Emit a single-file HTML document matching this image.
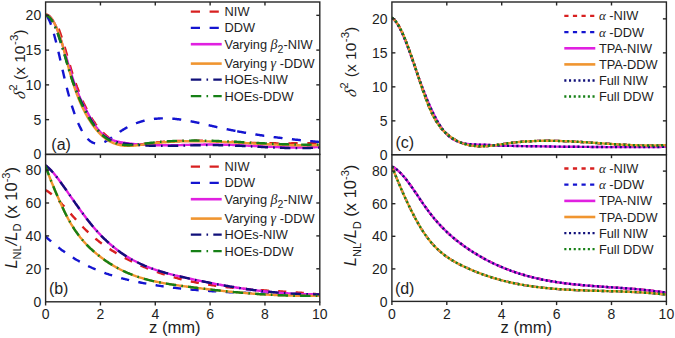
<!DOCTYPE html>
<html><head><meta charset="utf-8"><style>
html,body{margin:0;padding:0;background:#fff;}
svg{display:block;}
text{font-family:"Liberation Sans",sans-serif;fill:#1e1e1e;}
.tk{font-size:14px;}
.ti{font-size:15.5px;}
.pl{font-size:16px;}
.lg{font-size:12.8px;}
.gk{font-family:"Liberation Serif",serif;font-style:italic;}
</style></head><body>
<svg width="675" height="338" viewBox="0 0 675 338">
<rect width="675" height="338" fill="#fff"/>
<defs><clipPath id="cl"><rect x="45.6" y="2.0" width="274.2" height="299.8"/></clipPath>
<clipPath id="cr"><rect x="391.9" y="2.0" width="274.5" height="299.8"/></clipPath></defs>
<g clip-path="url(#cl)">
<path d="M45.3 15.2 L45.7 15.2 L46.2 15.3 L46.6 15.5 L47.1 15.7 L47.5 15.9 L48.0 16.2 L48.5 16.6 L49.0 17.0 L49.4 17.5 L50.0 17.9 L50.7 18.4 L51.3 18.9 L52.0 19.5 L52.7 20.1 L53.3 20.8 L54.0 21.6 L54.7 22.4 L55.4 23.3 L56.1 24.3 L56.8 25.3 L57.5 26.3 L58.1 27.5 L58.6 28.7 L59.1 30.0 L59.6 31.3 L60.1 32.7 L60.6 34.1 L61.1 35.6 L61.6 37.1 L62.1 38.6 L62.6 40.2 L63.1 41.8 L63.6 43.4 L64.1 45.1 L64.6 46.8 L65.1 48.5 L65.6 50.2 L66.1 52.0 L66.6 53.7 L67.1 55.5 L67.6 57.3 L68.1 59.0 L68.6 60.8 L69.1 62.5 L69.6 64.2 L70.1 65.9 L70.6 67.6 L71.1 69.3 L71.6 70.9 L72.1 72.5 L72.6 74.1 L73.1 75.6 L73.6 77.1 L74.1 78.6 L74.6 80.1 L75.1 81.5 L75.6 83.0 L76.1 84.4 L76.6 85.7 L77.1 87.1 L77.6 88.4 L78.1 89.7 L78.6 91.0 L79.1 92.3 L79.6 93.5 L80.1 94.8 L80.6 96.0 L81.1 97.1 L81.5 98.3 L82.0 99.5 L82.5 100.6 L83.0 101.7 L83.5 102.8 L84.0 103.8 L84.5 104.9 L85.0 105.9 L85.5 106.9 L86.0 107.9 L86.5 108.9 L87.0 109.9 L87.5 110.8 L88.0 111.8 L88.5 112.7 L89.0 113.6 L89.5 114.4 L89.9 115.3 L90.4 116.2 L90.9 117.0 L91.4 117.8 L91.9 118.6 L92.4 119.4 L92.9 120.1 L93.4 120.9 L93.9 121.6 L94.4 122.3 L94.9 123.0 L95.3 123.7 L95.8 124.4 L96.3 125.0 L96.8 125.7 L97.3 126.3 L97.8 126.9 L98.3 127.5 L98.8 128.1 L99.2 128.7 L99.7 129.2 L100.2 129.8 L100.7 130.3 L101.2 130.8 L101.7 131.3 L102.1 131.8 L102.6 132.3 L103.1 132.8 L103.6 133.2 L104.1 133.7 L104.6 134.1 L105.0 134.5 L105.5 134.9 L106.0 135.3 L106.4 135.7 L106.9 136.1 L107.3 136.5 L107.8 136.9 L108.2 137.3 L108.7 137.7 L109.1 138.0 L109.6 138.4 L110.0 138.7 L110.5 139.0 L110.9 139.4 L111.4 139.7 L111.8 140.0 L112.3 140.3 L112.7 140.6 L113.2 140.9 L113.7 141.1 L114.1 141.4 L114.6 141.6 L115.1 141.9 L115.5 142.1 L116.0 142.4 L116.5 142.6 L116.9 142.8 L117.4 143.0 L117.9 143.2 L118.4 143.4 L118.9 143.6 L119.3 143.7 L119.8 143.9 L120.3 144.1 L120.8 144.2 L121.3 144.4 L121.8 144.5 L122.3 144.6 L122.8 144.8 L123.3 144.9 L123.8 145.0 L124.3 145.1 L124.8 145.2 L125.3 145.3 L125.8 145.3 L126.3 145.3 L126.8 145.3 L127.3 145.4 L127.8 145.4 L128.3 145.4 L128.8 145.4 L129.3 145.4 L129.8 145.4 L130.3 145.3 L130.8 145.3 L131.3 145.3 L131.8 145.3 L132.3 145.2 L132.8 145.2 L133.3 145.2 L133.8 145.1 L134.3 145.1 L134.8 145.1 L135.3 145.0 L135.9 145.0 L136.4 144.9 L136.9 144.8 L137.4 144.8 L137.9 144.7 L138.4 144.7 L138.9 144.6 L139.4 144.5 L139.9 144.5 L140.4 144.4 L140.9 144.3 L141.4 144.3 L141.9 144.2 L142.4 144.1 L142.9 144.1 L143.4 144.0 L143.9 143.9 L144.4 143.9 L144.9 143.8 L145.4 143.7 L145.9 143.7 L146.4 143.6 L146.9 143.5 L147.4 143.5 L147.9 143.4 L148.4 143.3 L148.9 143.3 L149.4 143.2 L149.9 143.1 L150.4 143.1 L150.9 143.0 L151.4 143.0 L151.9 142.9 L152.4 142.9 L152.9 142.8 L153.4 142.8 L153.9 142.7 L154.4 142.6 L154.9 142.6 L155.4 142.5 L155.8 142.5 L156.3 142.4 L156.8 142.4 L157.3 142.3 L157.8 142.3 L158.3 142.3 L158.8 142.2 L159.3 142.2 L159.8 142.1 L160.3 142.1 L160.8 142.0 L161.3 142.0 L161.8 142.0 L162.3 141.9 L162.8 141.9 L163.3 141.8 L163.8 141.8 L164.3 141.8 L164.8 141.7 L165.3 141.7 L165.8 141.7 L166.3 141.6 L166.8 141.6 L167.3 141.6 L167.8 141.5 L168.3 141.5 L168.8 141.5 L169.3 141.4 L169.8 141.4 L170.3 141.4 L170.8 141.3 L171.3 141.3 L171.8 141.3 L172.3 141.3 L172.8 141.2 L173.3 141.2 L173.8 141.2 L174.3 141.2 L174.8 141.1 L175.3 141.1 L175.8 141.1 L176.3 141.1 L176.8 141.1 L177.3 141.0 L177.8 141.0 L178.3 141.0 L178.8 141.0 L179.3 141.0 L179.8 141.0 L180.3 140.9 L180.8 140.9 L181.3 140.9 L181.8 140.9 L182.3 140.9 L182.8 140.9 L183.3 140.9 L183.8 140.9 L184.3 140.8 L184.8 140.8 L185.3 140.8 L185.8 140.8 L186.3 140.8 L186.8 140.8 L187.3 140.8 L187.8 140.8 L188.3 140.8 L188.8 140.8 L189.3 140.8 L189.8 140.8 L190.3 140.8 L190.8 140.8 L191.3 140.8 L191.8 140.7 L192.3 140.7 L192.8 140.7 L193.3 140.7 L193.8 140.7 L194.3 140.7 L194.8 140.7 L195.3 140.7 L195.8 140.7 L196.3 140.7 L196.8 140.7 L197.3 140.8 L197.8 140.8 L198.3 140.8 L198.8 140.8 L199.3 140.8 L199.8 140.8 L200.3 140.8 L200.8 140.8 L201.3 140.8 L201.8 140.8 L202.3 140.8 L202.8 140.8 L203.3 140.8 L203.8 140.8 L204.3 140.8 L204.8 140.8 L205.3 140.9 L205.8 140.9 L206.3 140.9 L206.8 140.9 L207.3 140.9 L207.8 140.9 L208.3 140.9 L208.8 140.9 L209.3 140.9 L209.8 141.0 L210.3 141.0 L210.8 141.0 L211.3 141.0 L211.8 141.0 L212.3 141.0 L212.8 141.0 L213.3 141.1 L213.8 141.1 L214.3 141.1 L214.8 141.1 L215.3 141.1 L215.8 141.1 L216.3 141.2 L216.8 141.2 L217.3 141.2 L217.8 141.2 L218.3 141.2 L218.8 141.2 L219.3 141.3 L219.8 141.3 L220.3 141.3 L220.8 141.3 L221.3 141.3 L221.8 141.4 L222.3 141.4 L222.8 141.4 L223.3 141.4 L223.8 141.4 L224.3 141.5 L224.8 141.5 L225.3 141.5 L225.8 141.5 L226.3 141.6 L226.8 141.6 L227.3 141.6 L227.8 141.6 L228.3 141.6 L228.8 141.7 L229.3 141.7 L229.8 141.7 L230.3 141.7 L230.8 141.8 L231.3 141.8 L231.8 141.8 L232.3 141.8 L232.8 141.9 L233.3 141.9 L233.8 141.9 L234.3 141.9 L234.8 142.0 L235.3 142.0 L235.8 142.0 L236.3 142.0 L236.8 142.1 L237.3 142.1 L237.8 142.1 L238.3 142.1 L238.8 142.2 L239.3 142.2 L239.8 142.2 L240.3 142.2 L240.8 142.3 L241.3 142.3 L241.8 142.3 L242.3 142.3 L242.8 142.4 L243.3 142.4 L243.8 142.4 L244.3 142.5 L244.8 142.5 L245.3 142.5 L245.8 142.5 L246.3 142.6 L246.8 142.6 L247.3 142.6 L247.8 142.6 L248.3 142.7 L248.8 142.7 L249.3 142.7 L249.8 142.8 L250.3 142.8 L250.8 142.8 L251.3 142.8 L251.8 142.9 L252.3 142.9 L252.8 142.9 L253.3 142.9 L253.8 143.0 L254.3 143.0 L254.8 143.0 L255.3 143.0 L255.8 143.1 L256.3 143.1 L256.8 143.1 L257.3 143.1 L257.8 143.1 L258.3 143.1 L258.8 143.1 L259.3 143.1 L259.8 143.1 L260.3 143.1 L260.8 143.1 L261.3 143.2 L261.8 143.2 L262.3 143.2 L262.8 143.2 L263.3 143.2 L263.8 143.2 L264.3 143.2 L264.8 143.2 L265.3 143.2 L265.8 143.2 L266.3 143.2 L266.8 143.2 L267.3 143.3 L267.8 143.3 L268.3 143.3 L268.8 143.3 L269.3 143.3 L269.8 143.3 L270.3 143.3 L270.8 143.3 L271.3 143.3 L271.8 143.3 L272.3 143.3 L272.8 143.3 L273.3 143.3 L273.8 143.3 L274.3 143.3 L274.8 143.3 L275.3 143.3 L275.8 143.3 L276.3 143.4 L276.8 143.4 L277.3 143.4 L277.8 143.4 L278.3 143.4 L278.8 143.4 L279.3 143.4 L279.8 143.4 L280.3 143.4 L280.8 143.4 L281.3 143.4 L281.8 143.4 L282.3 143.4 L282.8 143.4 L283.3 143.4 L283.8 143.4 L284.3 143.4 L284.8 143.4 L285.3 143.4 L285.8 143.4 L286.3 143.4 L286.8 143.4 L287.3 143.4 L287.8 143.4 L288.3 143.4 L288.8 143.4 L289.3 143.4 L289.8 143.4 L290.3 143.4 L290.8 143.4 L291.3 143.4 L291.8 143.3 L292.3 143.3 L292.8 143.3 L293.3 143.3 L293.8 143.3 L294.3 143.3 L294.8 143.3 L295.3 143.3 L295.8 143.3 L296.3 143.3 L296.8 143.3 L297.3 143.3 L297.8 143.3 L298.3 143.3 L298.8 143.2 L299.3 143.2 L299.8 143.2 L300.3 143.2 L300.8 143.2 L301.3 143.2 L301.8 143.2 L302.3 143.2 L302.8 143.2 L303.3 143.2 L303.8 143.3 L304.3 143.3 L304.8 143.3 L305.3 143.3 L305.8 143.3 L306.3 143.3 L306.8 143.3 L307.3 143.3 L307.8 143.3 L308.3 143.3 L308.8 143.3 L309.3 143.3 L309.8 143.3 L310.3 143.2 L310.8 143.2 L311.3 143.2 L311.8 143.2 L312.3 143.2 L312.8 143.2 L313.3 143.2 L313.8 143.2 L314.3 143.2 L314.8 143.2 L315.3 143.2 L315.8 143.2 L316.3 143.2 L316.8 143.2 L317.3 143.2 L317.8 143.1 L318.3 143.1 L318.8 143.1 L319.3 143.1 L319.8 143.1" fill="none" stroke="#d82020" stroke-width="2.40" stroke-dasharray="9.3 9.7" stroke-dashoffset="18.38" stroke-linecap="butt" stroke-linejoin="round"/>
<path d="M45.3 15.0 L45.8 15.3 L46.3 15.7 L46.8 16.2 L47.3 16.8 L47.8 17.6 L48.3 18.4 L48.8 19.4 L49.3 20.4 L49.8 21.6 L50.3 22.8 L50.8 24.1 L51.3 25.5 L51.8 26.9 L52.3 28.5 L52.8 30.1 L53.3 31.8 L53.8 33.5 L54.3 35.3 L54.8 37.2 L55.3 39.1 L55.8 41.0 L56.3 43.0 L56.8 45.0 L57.3 47.1 L57.8 49.2 L58.3 51.3 L58.8 53.4 L59.3 55.6 L59.8 57.8 L60.3 60.0 L60.8 62.2 L61.3 64.4 L61.8 66.6 L62.3 68.8 L62.8 70.9 L63.3 73.1 L63.8 75.3 L64.3 77.4 L64.8 79.6 L65.3 81.6 L65.8 83.7 L66.3 85.7 L66.8 87.7 L67.3 89.7 L67.8 91.6 L68.3 93.5 L68.8 95.3 L69.3 97.1 L69.8 98.9 L70.3 100.6 L70.8 102.3 L71.3 104.0 L71.8 105.6 L72.3 107.2 L72.8 108.7 L73.3 110.2 L73.8 111.7 L74.3 113.1 L74.8 114.5 L75.3 115.9 L75.8 117.2 L76.3 118.5 L76.8 119.8 L77.3 121.0 L77.8 122.2 L78.3 123.4 L78.8 124.5 L79.3 125.6 L79.8 126.6 L80.3 127.7 L80.8 128.6 L81.3 129.6 L81.8 130.5 L82.3 131.4 L82.8 132.3 L83.3 133.1 L83.8 133.9 L84.3 134.6 L84.8 135.3 L85.3 136.0 L85.8 136.7 L86.3 137.3 L86.8 137.9 L87.3 138.5 L87.8 139.0 L88.3 139.5 L88.8 139.9 L89.3 140.4 L89.8 140.8 L90.3 141.2 L90.8 141.5 L91.3 141.8 L91.8 142.1 L92.3 142.4 L92.8 142.6 L93.3 142.8 L93.8 143.0 L94.3 143.2 L94.8 143.3 L95.3 143.4 L95.8 143.5 L96.3 143.6 L96.8 143.6 L97.3 143.6 L97.8 143.6 L98.3 143.6 L98.8 143.6 L99.3 143.5 L99.8 143.5 L100.3 143.4 L100.8 143.2 L101.3 143.1 L101.8 143.0 L102.3 142.8 L102.8 142.6 L103.3 142.4 L103.8 142.2 L104.3 142.0 L104.8 141.8 L105.3 141.6 L105.8 141.3 L106.3 141.0 L106.8 140.8 L107.3 140.5 L107.8 140.2 L108.3 139.9 L108.8 139.6 L109.3 139.2 L109.8 138.9 L110.3 138.6 L110.8 138.2 L111.3 137.9 L111.8 137.6 L112.3 137.2 L112.8 136.8 L113.3 136.5 L113.8 136.1 L114.3 135.8 L114.8 135.4 L115.3 135.0 L115.8 134.7 L116.3 134.3 L116.8 133.9 L117.3 133.6 L117.8 133.2 L118.3 132.9 L118.8 132.5 L119.3 132.2 L119.8 131.8 L120.3 131.5 L120.8 131.2 L121.3 130.8 L121.8 130.5 L122.3 130.2 L122.8 129.9 L123.3 129.6 L123.8 129.3 L124.3 129.0 L124.8 128.7 L125.3 128.4 L125.8 128.1 L126.3 127.8 L126.8 127.5 L127.3 127.3 L127.8 127.0 L128.3 126.7 L128.8 126.5 L129.3 126.2 L129.8 126.0 L130.3 125.7 L130.8 125.5 L131.3 125.3 L131.8 125.0 L132.3 124.8 L132.8 124.6 L133.3 124.4 L133.8 124.2 L134.3 124.0 L134.8 123.8 L135.3 123.6 L135.8 123.4 L136.3 123.2 L136.8 123.0 L137.3 122.8 L137.8 122.6 L138.3 122.5 L138.8 122.3 L139.3 122.1 L139.8 122.0 L140.3 121.8 L140.8 121.7 L141.3 121.5 L141.8 121.4 L142.3 121.2 L142.8 121.1 L143.3 120.9 L143.8 120.8 L144.3 120.7 L144.8 120.6 L145.3 120.4 L145.8 120.3 L146.3 120.2 L146.8 120.1 L147.3 120.0 L147.8 119.9 L148.3 119.8 L148.8 119.7 L149.3 119.6 L149.8 119.5 L150.3 119.5 L150.8 119.4 L151.3 119.3 L151.8 119.2 L152.3 119.1 L152.8 119.1 L153.3 119.0 L153.8 119.0 L154.3 118.9 L154.8 118.8 L155.3 118.8 L155.8 118.7 L156.3 118.7 L156.8 118.7 L157.3 118.6 L157.8 118.6 L158.3 118.5 L158.8 118.5 L159.3 118.5 L159.8 118.5 L160.3 118.4 L160.8 118.4 L161.3 118.4 L161.8 118.4 L162.3 118.4 L162.8 118.4 L163.3 118.4 L163.8 118.4 L164.3 118.4 L164.8 118.4 L165.3 118.4 L165.8 118.4 L166.3 118.4 L166.8 118.4 L167.3 118.4 L167.8 118.4 L168.3 118.4 L168.8 118.5 L169.3 118.5 L169.8 118.5 L170.3 118.5 L170.8 118.6 L171.3 118.6 L171.8 118.6 L172.3 118.7 L172.8 118.7 L173.3 118.8 L173.8 118.8 L174.3 118.8 L174.8 118.9 L175.3 118.9 L175.8 119.0 L176.3 119.0 L176.8 119.1 L177.3 119.2 L177.8 119.2 L178.3 119.3 L178.8 119.3 L179.3 119.4 L179.8 119.5 L180.3 119.5 L180.8 119.6 L181.3 119.7 L181.8 119.7 L182.3 119.8 L182.8 119.9 L183.3 120.0 L183.8 120.1 L184.3 120.1 L184.8 120.2 L185.3 120.3 L185.8 120.4 L186.3 120.5 L186.8 120.6 L187.3 120.6 L187.8 120.7 L188.3 120.8 L188.8 120.9 L189.3 121.0 L189.8 121.1 L190.3 121.2 L190.8 121.3 L191.3 121.4 L191.8 121.5 L192.3 121.6 L192.8 121.7 L193.3 121.8 L193.8 121.9 L194.3 122.0 L194.8 122.1 L195.3 122.2 L195.8 122.3 L196.3 122.4 L196.8 122.5 L197.3 122.6 L197.8 122.7 L198.3 122.8 L198.8 122.9 L199.3 123.1 L199.8 123.2 L200.3 123.3 L200.8 123.4 L201.3 123.5 L201.8 123.6 L202.3 123.7 L202.8 123.8 L203.3 124.0 L203.8 124.1 L204.3 124.2 L204.8 124.3 L205.3 124.4 L205.8 124.5 L206.3 124.6 L206.8 124.8 L207.3 124.9 L207.8 125.0 L208.3 125.1 L208.8 125.2 L209.3 125.3 L209.8 125.5 L210.3 125.6 L210.8 125.7 L211.3 125.8 L211.8 125.9 L212.3 126.0 L212.8 126.2 L213.3 126.3 L213.8 126.4 L214.3 126.5 L214.8 126.6 L215.3 126.7 L215.8 126.8 L216.3 127.0 L216.8 127.1 L217.3 127.2 L217.8 127.3 L218.3 127.4 L218.8 127.5 L219.3 127.6 L219.8 127.7 L220.3 127.9 L220.8 128.0 L221.3 128.1 L221.8 128.2 L222.3 128.3 L222.8 128.4 L223.3 128.5 L223.8 128.6 L224.3 128.7 L224.8 128.8 L225.3 128.9 L225.8 129.0 L226.3 129.1 L226.8 129.2 L227.3 129.3 L227.8 129.4 L228.3 129.5 L228.8 129.6 L229.3 129.7 L229.8 129.8 L230.3 129.9 L230.8 130.0 L231.3 130.1 L231.8 130.2 L232.3 130.3 L232.8 130.4 L233.3 130.5 L233.8 130.6 L234.3 130.7 L234.8 130.8 L235.3 130.9 L235.8 131.0 L236.3 131.1" fill="none" stroke="#1414d0" stroke-width="2.40" stroke-dasharray="9 9.5" stroke-dashoffset="-2.50" stroke-linecap="butt" stroke-linejoin="round"/>
<path d="M236.3 131.1 L236.8 131.2 L237.3 131.3 L237.8 131.4 L238.3 131.5 L238.8 131.6 L239.3 131.7 L239.8 131.8 L240.3 131.9 L240.8 131.9 L241.3 132.0 L241.8 132.1 L242.3 132.2 L242.8 132.3 L243.3 132.4 L243.8 132.5 L244.3 132.6 L244.8 132.7 L245.3 132.7 L245.8 132.8 L246.3 132.9 L246.8 133.0 L247.3 133.1 L247.8 133.2 L248.3 133.3 L248.8 133.3 L249.3 133.4 L249.8 133.5 L250.3 133.6 L250.8 133.7 L251.3 133.7 L251.8 133.8 L252.3 133.9 L252.8 134.0 L253.3 134.1 L253.8 134.2 L254.3 134.2 L254.8 134.3 L255.3 134.4 L255.8 134.5 L256.3 134.5 L256.8 134.6 L257.3 134.7 L257.8 134.8 L258.3 134.9 L258.8 134.9 L259.3 135.0 L259.8 135.1 L260.3 135.2 L260.8 135.2 L261.3 135.3 L261.8 135.4 L262.3 135.5 L262.8 135.5 L263.3 135.6 L263.8 135.7 L264.3 135.7 L264.8 135.8 L265.3 135.9 L265.8 136.0 L266.3 136.0 L266.8 136.1 L267.3 136.2 L267.8 136.2 L268.3 136.3 L268.8 136.4 L269.3 136.5 L269.8 136.5 L270.3 136.6 L270.8 136.7 L271.3 136.7 L271.8 136.8 L272.3 136.9 L272.8 136.9 L273.3 137.0 L273.8 137.1 L274.3 137.1 L274.8 137.2 L275.3 137.3 L275.8 137.3 L276.3 137.4 L276.8 137.4 L277.3 137.5 L277.8 137.6 L278.3 137.6 L278.8 137.7 L279.3 137.8 L279.8 137.8 L280.3 137.9 L280.8 137.9 L281.3 138.0 L281.8 138.1 L282.3 138.1 L282.8 138.2 L283.3 138.3 L283.8 138.3 L284.3 138.4 L284.8 138.4 L285.3 138.5 L285.8 138.6 L286.3 138.6 L286.8 138.7 L287.3 138.7 L287.8 138.8 L288.3 138.8 L288.8 138.9 L289.3 139.0 L289.8 139.0 L290.3 139.1 L290.8 139.1 L291.3 139.2 L291.8 139.2 L292.3 139.3 L292.8 139.3 L293.3 139.4 L293.8 139.5 L294.3 139.5 L294.8 139.6 L295.3 139.6 L295.8 139.7 L296.3 139.7 L296.8 139.8 L297.3 139.8 L297.8 139.9 L298.3 139.9 L298.8 140.0 L299.3 140.0 L299.8 140.1 L300.3 140.1 L300.8 140.2 L301.3 140.2 L301.8 140.3 L302.3 140.3 L302.8 140.4 L303.3 140.4 L303.8 140.5 L304.3 140.5 L304.8 140.6 L305.3 140.6 L305.8 140.7 L306.3 140.7 L306.8 140.8 L307.3 140.8 L307.8 140.9 L308.3 140.9 L308.8 141.0 L309.3 141.0 L309.8 141.1 L310.3 141.1 L310.8 141.2 L311.3 141.2 L311.8 141.3 L312.3 141.3 L312.8 141.4 L313.3 141.4 L313.8 141.5 L314.3 141.5 L314.8 141.5 L315.3 141.6 L315.8 141.6 L316.3 141.7 L316.8 141.7 L317.3 141.8 L317.8 141.8 L318.3 141.9 L318.8 141.9 L319.3 141.9 L319.8 142.0" fill="none" stroke="#1414d0" stroke-width="2.40" stroke-dasharray="9 9.5" stroke-dashoffset="17.58" stroke-linecap="butt" stroke-linejoin="round"/>
<path d="M45.3 14.3 L45.8 14.3 L46.4 14.4 L46.9 14.6 L47.5 14.8 L48.0 15.0 L48.5 15.4 L49.1 15.8 L49.6 16.2 L50.1 16.7 L50.6 17.3 L51.1 17.9 L51.6 18.6 L52.1 19.3 L52.6 20.1 L53.1 20.9 L53.6 21.8 L54.2 22.7 L54.7 23.7 L55.2 24.8 L55.7 25.9 L56.2 27.0 L56.7 28.2 L57.2 29.4 L57.7 30.7 L58.2 32.0 L58.7 33.4 L59.2 34.8 L59.7 36.2 L60.2 37.7 L60.7 39.2 L61.2 40.7 L61.7 42.3 L62.2 43.9 L62.7 45.5 L63.2 47.1 L63.7 48.8 L64.2 50.5 L64.7 52.1 L65.3 53.8 L65.8 55.5 L66.3 57.2 L66.8 59.0 L67.3 60.7 L67.8 62.4 L68.3 64.1 L68.9 65.8 L69.4 67.5 L69.9 69.2 L70.4 70.9 L70.9 72.6 L71.4 74.2 L71.9 75.9 L72.4 77.5 L73.0 79.1 L73.5 80.6 L74.0 82.2 L74.5 83.7 L75.0 85.2 L75.5 86.6 L76.0 88.0 L76.5 89.4 L77.0 90.7 L77.6 92.0 L78.1 93.3 L78.6 94.5 L79.1 95.7 L79.6 96.8 L80.1 98.0 L80.6 99.1 L81.1 100.1 L81.6 101.2 L82.1 102.2 L82.6 103.3 L83.1 104.3 L83.6 105.3 L84.1 106.2 L84.6 107.2 L85.1 108.1 L85.6 109.1 L86.1 110.0 L86.6 110.9 L87.1 111.9 L87.6 112.8 L88.1 113.7 L88.6 114.6 L89.1 115.5 L89.6 116.4 L90.1 117.3 L90.6 118.1 L91.1 119.0 L91.6 119.8 L92.1 120.7 L92.6 121.5 L93.1 122.3 L93.6 123.1 L94.1 123.8 L94.5 124.6 L95.0 125.3 L95.5 126.0 L96.0 126.7 L96.5 127.4 L97.0 128.0 L97.5 128.7 L98.0 129.3 L98.5 129.8 L99.0 130.4 L99.5 131.0 L100.0 131.5 L100.4 132.0 L100.9 132.5 L101.4 133.0 L101.9 133.5 L102.4 133.9 L102.9 134.3 L103.4 134.7 L103.9 135.1 L104.4 135.5 L104.8 135.9 L105.3 136.3 L105.8 136.6 L106.3 136.9 L106.8 137.2 L107.3 137.5 L107.8 137.8 L108.2 138.1 L108.7 138.4 L109.2 138.6 L109.7 138.9 L110.2 139.1 L110.7 139.3 L111.2 139.6 L111.6 139.8 L112.1 140.0 L112.6 140.1 L113.1 140.3 L113.6 140.5 L114.1 140.7 L114.6 140.8 L115.1 141.0 L115.5 141.1 L116.0 141.2 L116.5 141.4 L117.0 141.5 L117.5 141.6 L118.0 141.7 L118.5 141.8 L119.0 141.9 L119.5 142.0 L120.0 142.1 L120.5 142.2 L121.0 142.3 L121.5 142.4 L121.9 142.5 L122.4 142.5 L122.9 142.6 L123.4 142.7 L123.9 142.8 L124.4 142.8 L124.9 142.9 L125.4 143.0 L125.9 143.1 L126.4 143.1 L126.9 143.2 L127.4 143.3 L127.9 143.3 L128.4 143.4 L128.9 143.5 L129.4 143.5 L129.9 143.6 L130.4 143.6 L130.9 143.7 L131.4 143.8 L131.9 143.8 L132.4 143.9 L132.9 143.9 L133.4 144.0 L133.9 144.0 L134.4 144.1 L134.9 144.1 L135.4 144.2 L135.9 144.2 L136.4 144.3 L136.9 144.3 L137.4 144.3 L137.9 144.4 L138.4 144.4 L138.9 144.5 L139.4 144.5 L139.9 144.5 L140.4 144.6 L140.9 144.6 L141.4 144.6 L141.9 144.7 L142.4 144.7 L142.9 144.7 L143.4 144.8 L143.9 144.8 L144.4 144.8 L144.8 144.9 L145.3 144.9 L145.8 144.9 L146.3 144.9 L146.8 145.0 L147.3 145.0 L147.8 145.0 L148.3 145.0 L148.8 145.0 L149.3 145.1 L149.8 145.1 L150.3 145.1 L150.8 145.1 L151.3 145.1 L151.8 145.1 L152.3 145.2 L152.8 145.2 L153.3 145.2 L153.8 145.2 L154.3 145.2 L154.8 145.2 L155.3 145.2 L155.8 145.2 L156.3 145.2 L156.8 145.3 L157.3 145.3 L157.8 145.3 L158.3 145.3 L158.8 145.3 L159.3 145.3 L159.8 145.3 L160.3 145.3 L160.8 145.3 L161.3 145.3 L161.8 145.3 L162.3 145.3 L162.8 145.3 L163.3 145.3 L163.8 145.3 L164.3 145.3 L164.8 145.3 L165.3 145.3 L165.8 145.3 L166.3 145.3 L166.8 145.3 L167.3 145.3 L167.8 145.3 L168.3 145.3 L168.8 145.3 L169.3 145.3 L169.8 145.3 L170.3 145.3 L170.8 145.3 L171.3 145.2 L171.8 145.2 L172.3 145.2 L172.8 145.2 L173.3 145.2 L173.8 145.2 L174.3 145.2 L174.8 145.2 L175.3 145.2 L175.8 145.2 L176.3 145.2 L176.8 145.1 L177.3 145.1 L177.8 145.1 L178.3 145.1 L178.8 145.1 L179.3 145.1 L179.8 145.1 L180.3 145.1 L180.8 145.1 L181.3 145.1 L181.8 145.0 L182.3 145.0 L182.8 145.0 L183.3 145.0 L183.8 145.0 L184.3 145.0 L184.8 145.0 L185.3 145.0 L185.8 144.9 L186.3 144.9 L186.8 144.9 L187.3 144.9 L187.8 144.9 L188.3 144.9 L188.8 144.9 L189.3 144.9 L189.8 144.8 L190.3 144.8 L190.8 144.8 L191.3 144.8 L191.8 144.8 L192.3 144.8 L192.8 144.8 L193.3 144.8 L193.8 144.7 L194.3 144.7 L194.8 144.7 L195.3 144.7 L195.8 144.7 L196.3 144.7 L196.8 144.7 L197.3 144.7 L197.8 144.7 L198.3 144.6 L198.8 144.6 L199.3 144.6 L199.8 144.6 L200.3 144.6 L200.8 144.6 L201.3 144.6 L201.8 144.6 L202.3 144.6 L202.8 144.6 L203.3 144.6 L203.8 144.5 L204.3 144.5 L204.8 144.5 L205.3 144.5 L205.8 144.5 L206.3 144.5 L206.8 144.5 L207.3 144.5 L207.8 144.5 L208.3 144.5 L208.8 144.5 L209.3 144.5 L209.8 144.5 L210.3 144.5 L210.8 144.5 L211.3 144.5 L211.8 144.5 L212.3 144.5 L212.8 144.5 L213.3 144.5 L213.8 144.5 L214.3 144.5 L214.8 144.5 L215.3 144.5 L215.8 144.5 L216.3 144.5 L216.8 144.5 L217.3 144.5 L217.8 144.5 L218.3 144.5 L218.8 144.6 L219.3 144.6 L219.8 144.6 L220.3 144.6 L220.8 144.6 L221.3 144.6 L221.8 144.6 L222.3 144.6 L222.8 144.6 L223.3 144.6 L223.8 144.7 L224.3 144.7 L224.8 144.7 L225.3 144.7 L225.8 144.7 L226.3 144.7 L226.8 144.7 L227.3 144.8 L227.8 144.8 L228.3 144.8 L228.8 144.8 L229.3 144.8 L229.8 144.8 L230.3 144.9 L230.8 144.9 L231.3 144.9 L231.8 144.9 L232.3 144.9 L232.8 145.0 L233.3 145.0 L233.8 145.0 L234.3 145.0 L234.8 145.0 L235.3 145.1 L235.8 145.1 L236.3 145.1 L236.8 145.1 L237.3 145.1 L237.8 145.2 L238.3 145.2 L238.8 145.2 L239.3 145.2 L239.8 145.3 L240.3 145.3 L240.8 145.3 L241.3 145.3 L241.8 145.3 L242.3 145.4 L242.8 145.4 L243.3 145.4 L243.8 145.4 L244.3 145.5 L244.8 145.5 L245.3 145.5 L245.8 145.5 L246.3 145.6 L246.8 145.6 L247.3 145.6 L247.8 145.6 L248.3 145.7 L248.8 145.7 L249.3 145.7 L249.8 145.8 L250.3 145.8 L250.8 145.8 L251.3 145.8 L251.8 145.9 L252.3 145.9 L252.8 145.9 L253.3 145.9 L253.8 146.0 L254.3 146.0 L254.8 146.0 L255.3 146.0 L255.8 146.1 L256.3 146.1 L256.8 146.1 L257.3 146.1 L257.8 146.2 L258.3 146.2 L258.8 146.2 L259.3 146.3 L259.8 146.3 L260.3 146.3 L260.8 146.3 L261.3 146.4 L261.8 146.4 L262.3 146.4 L262.8 146.4 L263.3 146.5 L263.8 146.5 L264.3 146.5 L264.8 146.5 L265.3 146.6 L265.8 146.6 L266.3 146.6 L266.8 146.6 L267.3 146.7 L267.8 146.7 L268.3 146.7 L268.8 146.7 L269.3 146.8 L269.8 146.8 L270.3 146.8 L270.8 146.8 L271.3 146.8 L271.8 146.9 L272.3 146.9 L272.8 146.9 L273.3 146.9 L273.8 147.0 L274.3 147.0 L274.8 147.0 L275.3 147.0 L275.8 147.0 L276.3 147.1 L276.8 147.1 L277.3 147.1 L277.8 147.1 L278.3 147.1 L278.8 147.2 L279.3 147.2 L279.8 147.2 L280.3 147.2 L280.8 147.2 L281.3 147.2 L281.8 147.3 L282.3 147.3 L282.8 147.3 L283.3 147.3 L283.8 147.3 L284.3 147.3 L284.8 147.4 L285.3 147.4 L285.8 147.4 L286.3 147.4 L286.8 147.4 L287.3 147.4 L287.8 147.4 L288.3 147.4 L288.8 147.4 L289.3 147.5 L289.8 147.5 L290.3 147.5 L290.8 147.5 L291.3 147.5 L291.8 147.5 L292.3 147.5 L292.8 147.5 L293.3 147.5 L293.8 147.5 L294.3 147.5 L294.8 147.5 L295.3 147.5 L295.8 147.5 L296.3 147.5 L296.8 147.5 L297.3 147.5 L297.8 147.5 L298.3 147.5 L298.8 147.5 L299.3 147.5 L299.8 147.5 L300.3 147.5 L300.8 147.5 L301.3 147.5 L301.8 147.5 L302.3 147.5 L302.8 147.5 L303.3 147.5 L303.8 147.5 L304.3 147.5 L304.8 147.5 L305.3 147.5 L305.8 147.5 L306.3 147.5 L306.8 147.5 L307.3 147.4 L307.8 147.4 L308.3 147.4 L308.8 147.4 L309.3 147.4 L309.8 147.4 L310.3 147.4 L310.8 147.3 L311.3 147.3 L311.8 147.3 L312.3 147.3 L312.8 147.3 L313.3 147.2 L313.8 147.2 L314.3 147.2 L314.8 147.2 L315.3 147.1 L315.8 147.1 L316.3 147.1 L316.8 147.1 L317.2 147.0 L317.7 147.0 L318.2 147.0 L318.7 147.0 L319.2 146.9 L319.7 146.9" fill="none" stroke="#e020e0" stroke-width="2.40" stroke-linecap="butt" stroke-linejoin="round"/>
<path d="M45.3 14.3 L45.9 14.4 L46.4 14.5 L46.9 14.6 L47.5 14.9 L48.0 15.1 L48.5 15.5 L49.1 15.9 L49.6 16.3 L50.1 16.8 L50.6 17.4 L51.1 18.0 L51.6 18.7 L52.1 19.4 L52.6 20.1 L53.1 20.9 L53.6 21.8 L54.2 22.7 L54.7 23.7 L55.2 24.7 L55.7 25.8 L56.2 26.9 L56.7 28.1 L57.2 29.3 L57.7 30.5 L58.2 31.9 L58.7 33.2 L59.2 34.6 L59.7 36.1 L60.2 37.6 L60.7 39.1 L61.2 40.7 L61.7 42.2 L62.2 43.9 L62.7 45.5 L63.1 47.2 L63.6 49.0 L64.0 50.7 L64.5 52.4 L65.0 54.2 L65.4 56.0 L65.9 57.8 L66.4 59.5 L66.8 61.3 L67.3 63.0 L67.8 64.8 L68.2 66.5 L68.7 68.2 L69.1 69.9 L69.6 71.5 L70.1 73.1 L70.5 74.7 L71.0 76.3 L71.5 77.8 L71.9 79.4 L72.4 80.9 L72.8 82.3 L73.3 83.8 L73.8 85.2 L74.2 86.6 L74.7 88.0 L75.2 89.3 L75.6 90.7 L76.1 92.0 L76.6 93.3 L77.0 94.6 L77.5 95.8 L78.0 97.0 L78.4 98.3 L78.9 99.4 L79.4 100.6 L79.9 101.8 L80.4 102.9 L80.9 104.0 L81.4 105.1 L81.9 106.1 L82.4 107.2 L82.9 108.2 L83.4 109.2 L83.9 110.2 L84.4 111.2 L84.9 112.2 L85.4 113.1 L85.9 114.1 L86.4 115.0 L86.9 115.9 L87.4 116.8 L87.9 117.6 L88.4 118.5 L88.9 119.3 L89.5 120.1 L90.0 120.9 L90.5 121.7 L91.0 122.5 L91.5 123.2 L92.0 124.0 L92.5 124.7 L93.0 125.4 L93.5 126.1 L94.0 126.8 L94.5 127.5 L95.0 128.1 L95.5 128.7 L96.0 129.4 L96.5 130.0 L97.0 130.6 L97.6 131.2 L98.1 131.7 L98.6 132.3 L99.1 132.8 L99.6 133.4 L100.1 133.9 L100.6 134.4 L101.1 134.9 L101.6 135.3 L102.1 135.8 L102.6 136.3 L103.2 136.7 L103.7 137.1 L104.2 137.5 L104.7 137.9 L105.2 138.3 L105.7 138.7 L106.2 139.1 L106.7 139.4 L107.2 139.8 L107.8 140.1 L108.3 140.4 L108.8 140.8 L109.3 141.1 L109.8 141.4 L110.3 141.6 L110.8 141.9 L111.4 142.2 L111.9 142.4 L112.4 142.6 L112.9 142.9 L113.4 143.1 L113.9 143.3 L114.4 143.5 L115.0 143.7 L115.5 143.9 L116.0 144.0 L116.5 144.2 L117.0 144.4 L117.5 144.5 L118.0 144.6 L118.6 144.8 L119.1 144.9 L119.6 145.0 L120.1 145.1 L120.6 145.2 L121.1 145.3 L121.6 145.4 L122.2 145.5 L122.7 145.5 L123.2 145.6 L123.7 145.6 L124.2 145.7 L124.7 145.7 L125.2 145.8 L125.7 145.8 L126.3 145.8 L126.8 145.8 L127.3 145.9 L127.8 145.9 L128.3 145.9 L128.8 145.9 L129.3 145.9 L129.8 145.9 L130.3 145.8 L130.8 145.8 L131.3 145.8 L131.9 145.8 L132.4 145.7 L132.9 145.7 L133.4 145.7 L133.9 145.6 L134.4 145.6 L134.9 145.5 L135.4 145.5 L135.9 145.5 L136.4 145.4 L136.9 145.3 L137.4 145.3 L137.9 145.2 L138.4 145.2 L138.9 145.1 L139.4 145.0 L139.9 145.0 L140.4 144.9 L140.9 144.8 L141.4 144.8 L141.9 144.7 L142.4 144.6 L142.9 144.6 L143.4 144.5 L143.9 144.4 L144.4 144.4 L144.9 144.3 L145.4 144.2 L145.9 144.2 L146.4 144.1 L146.9 144.0 L147.4 144.0 L147.9 143.9 L148.4 143.8 L148.9 143.8 L149.4 143.7 L149.9 143.6 L150.4 143.6 L150.9 143.5 L151.4 143.5 L151.9 143.4 L152.4 143.4 L152.9 143.3 L153.4 143.2 L153.9 143.2 L154.4 143.1 L154.9 143.1 L155.4 143.0 L155.9 143.0 L156.4 142.9 L156.9 142.9 L157.4 142.8 L157.9 142.8 L158.4 142.8 L158.9 142.7 L159.4 142.7 L159.9 142.6 L160.4 142.6 L160.9 142.5 L161.4 142.5 L161.9 142.5 L162.4 142.4 L162.9 142.4 L163.4 142.3 L163.9 142.3 L164.4 142.3 L164.9 142.2 L165.4 142.2 L165.9 142.2 L166.4 142.1 L166.9 142.1 L167.4 142.1 L167.9 142.0 L168.4 142.0 L168.9 142.0 L169.4 141.9 L169.9 141.9 L170.4 141.9 L170.9 141.8 L171.4 141.8 L171.9 141.8 L172.4 141.8 L172.8 141.7 L173.3 141.7 L173.8 141.7 L174.3 141.7 L174.8 141.6 L175.3 141.6 L175.8 141.6 L176.3 141.6 L176.8 141.6 L177.3 141.5 L177.8 141.5 L178.3 141.5 L178.8 141.5 L179.3 141.5 L179.8 141.5 L180.3 141.4 L180.8 141.4 L181.3 141.4 L181.8 141.4 L182.3 141.4 L182.8 141.4 L183.3 141.4 L183.8 141.4 L184.3 141.3 L184.8 141.3 L185.3 141.3 L185.8 141.3 L186.3 141.3 L186.8 141.3 L187.3 141.3 L187.8 141.3 L188.3 141.3 L188.8 141.3 L189.3 141.3 L189.8 141.3 L190.3 141.3 L190.8 141.3 L191.3 141.3 L191.8 141.2 L192.3 141.2 L192.8 141.2 L193.3 141.2 L193.8 141.2 L194.3 141.2 L194.8 141.2 L195.3 141.2 L195.8 141.2 L196.3 141.2 L196.8 141.2 L197.3 141.3 L197.8 141.3 L198.3 141.3 L198.8 141.3 L199.3 141.3 L199.8 141.3 L200.3 141.3 L200.8 141.3 L201.3 141.3 L201.8 141.3 L202.3 141.3 L202.8 141.3 L203.3 141.3 L203.8 141.3 L204.3 141.3 L204.8 141.3 L205.3 141.4 L205.8 141.4 L206.3 141.4 L206.8 141.4 L207.3 141.4 L207.8 141.4 L208.3 141.4 L208.8 141.4 L209.3 141.4 L209.8 141.5 L210.3 141.5 L210.8 141.5 L211.3 141.5 L211.8 141.5 L212.3 141.5 L212.8 141.5 L213.3 141.6 L213.8 141.6 L214.3 141.6 L214.8 141.6 L215.3 141.6 L215.8 141.6 L216.3 141.7 L216.8 141.7 L217.3 141.7 L217.8 141.7 L218.3 141.7 L218.8 141.7 L219.3 141.8 L219.8 141.8 L220.3 141.8 L220.8 141.8 L221.3 141.8 L221.8 141.9 L222.3 141.9 L222.8 141.9 L223.3 141.9 L223.8 141.9 L224.3 142.0 L224.8 142.0 L225.3 142.0 L225.8 142.0 L226.3 142.1 L226.8 142.1 L227.3 142.1 L227.8 142.1 L228.3 142.1 L228.8 142.2 L229.3 142.2 L229.8 142.2 L230.3 142.2 L230.8 142.3 L231.3 142.3 L231.8 142.3 L232.3 142.3 L232.8 142.4 L233.3 142.4 L233.8 142.4 L234.2 142.4 L234.7 142.5 L235.2 142.5 L235.7 142.5 L236.2 142.5 L236.7 142.6 L237.2 142.6 L237.7 142.6 L238.2 142.6 L238.7 142.7 L239.2 142.7 L239.7 142.7 L240.2 142.7 L240.7 142.8 L241.2 142.8 L241.7 142.8 L242.2 142.8 L242.7 142.9 L243.2 142.9 L243.7 142.9 L244.2 143.0 L244.7 143.0 L245.2 143.0 L245.7 143.0 L246.2 143.1 L246.7 143.1 L247.2 143.1 L247.7 143.1 L248.2 143.2 L248.7 143.2 L249.2 143.2 L249.7 143.3 L250.2 143.3 L250.7 143.3 L251.2 143.3 L251.7 143.4 L252.2 143.4 L252.7 143.4 L253.2 143.4 L253.7 143.5 L254.2 143.5 L254.7 143.5 L255.2 143.6 L255.7 143.6 L256.2 143.6 L256.7 143.6 L257.2 143.7 L257.7 143.7 L258.2 143.7 L258.7 143.7 L259.2 143.8 L259.7 143.8 L260.2 143.8 L260.7 143.9 L261.2 143.9 L261.7 143.9 L262.2 143.9 L262.7 144.0 L263.2 144.0 L263.7 144.0 L264.2 144.0 L264.7 144.1 L265.2 144.1 L265.7 144.1 L266.2 144.1 L266.7 144.2 L267.3 144.2 L267.8 144.2 L268.3 144.2 L268.8 144.3 L269.3 144.3 L269.8 144.3 L270.3 144.3 L270.8 144.4 L271.3 144.4 L271.8 144.4 L272.3 144.4 L272.8 144.5 L273.3 144.5 L273.8 144.5 L274.3 144.5 L274.8 144.5 L275.3 144.6 L275.8 144.6 L276.3 144.6 L276.8 144.6 L277.3 144.7 L277.8 144.7 L278.3 144.7 L278.8 144.7 L279.3 144.7 L279.8 144.8 L280.3 144.8 L280.8 144.8 L281.3 144.8 L281.8 144.8 L282.3 144.9 L282.8 144.9 L283.3 144.9 L283.8 144.9 L284.3 144.9 L284.8 144.9 L285.3 145.0 L285.8 145.0 L286.3 145.0 L286.8 145.0 L287.3 145.0 L287.8 145.0 L288.3 145.1 L288.8 145.1 L289.3 145.1 L289.8 145.1 L290.3 145.1 L290.8 145.1 L291.3 145.1 L291.8 145.2 L292.3 145.2 L292.8 145.2 L293.3 145.2 L293.8 145.2 L294.3 145.2 L294.8 145.2 L295.3 145.2 L295.8 145.2 L296.3 145.3 L296.8 145.3 L297.3 145.3 L297.8 145.3 L298.3 145.3 L298.8 145.3 L299.3 145.3 L299.8 145.3 L300.3 145.3 L300.8 145.3 L301.3 145.3 L301.8 145.3 L302.3 145.3 L302.8 145.3 L303.3 145.3 L303.8 145.3 L304.3 145.4 L304.8 145.4 L305.3 145.4 L305.8 145.4 L306.3 145.4 L306.8 145.4 L307.3 145.4 L307.8 145.4 L308.3 145.4 L308.8 145.4 L309.3 145.4 L309.8 145.4 L310.3 145.3 L310.8 145.3 L311.3 145.3 L311.8 145.3 L312.3 145.3 L312.8 145.3 L313.3 145.3 L313.8 145.3 L314.3 145.3 L314.8 145.3 L315.3 145.3 L315.8 145.3 L316.3 145.3 L316.8 145.3 L317.3 145.3 L317.8 145.2 L318.3 145.2 L318.8 145.2 L319.3 145.2 L319.8 145.2" fill="none" stroke="#f09530" stroke-width="2.40" stroke-linecap="butt" stroke-linejoin="round"/>
<path d="M45.3 15.2 L45.8 15.2 L46.2 15.3 L46.6 15.4 L47.1 15.6 L47.6 15.8 L48.0 16.1 L48.5 16.5 L49.0 16.9 L49.4 17.4 L49.9 17.9 L50.4 18.5 L50.9 19.1 L51.4 19.8 L51.9 20.6 L52.4 21.4 L52.9 22.2 L53.4 23.2 L53.9 24.1 L54.3 25.2 L54.8 26.2 L55.3 27.4 L55.8 28.5 L56.3 29.7 L56.8 31.0 L57.3 32.3 L57.8 33.7 L58.3 35.1 L58.8 36.5 L59.3 38.0 L59.8 39.5 L60.3 41.0 L60.8 42.6 L61.3 44.2 L61.8 45.8 L62.4 47.4 L62.9 49.0 L63.4 50.7 L63.9 52.4 L64.4 54.1 L65.0 55.8 L65.5 57.5 L66.0 59.2 L66.5 60.9 L67.0 62.6 L67.6 64.3 L68.1 66.0 L68.6 67.7 L69.1 69.4 L69.7 71.1 L70.2 72.8 L70.7 74.4 L71.2 76.1 L71.7 77.7 L72.3 79.3 L72.8 80.9 L73.3 82.4 L73.8 83.9 L74.3 85.4 L74.9 86.8 L75.4 88.3 L75.9 89.6 L76.4 91.0 L76.9 92.2 L77.5 93.5 L78.0 94.7 L78.5 95.9 L79.0 97.1 L79.5 98.2 L80.1 99.3 L80.6 100.4 L81.1 101.5 L81.6 102.5 L82.1 103.5 L82.6 104.5 L83.1 105.5 L83.6 106.5 L84.1 107.5 L84.6 108.4 L85.1 109.4 L85.6 110.3 L86.1 111.2 L86.6 112.2 L87.1 113.1 L87.6 114.0 L88.1 114.9 L88.6 115.8 L89.1 116.7 L89.6 117.6 L90.1 118.4 L90.6 119.3 L91.1 120.2 L91.6 121.0 L92.1 121.8 L92.6 122.6 L93.1 123.4 L93.6 124.2 L94.0 124.9 L94.5 125.7 L95.0 126.4 L95.5 127.1 L96.0 127.7 L96.5 128.4 L97.0 129.0 L97.5 129.6 L98.0 130.2 L98.5 130.8 L99.0 131.4 L99.5 131.9 L100.0 132.4 L100.5 132.9 L101.0 133.4 L101.5 133.9 L102.0 134.3 L102.5 134.8 L103.0 135.2 L103.5 135.6 L104.0 136.0 L104.5 136.4 L105.0 136.7 L105.5 137.1 L106.0 137.4 L106.5 137.7 L107.0 138.1 L107.5 138.4 L107.9 138.6 L108.4 138.9 L108.9 139.2 L109.4 139.4 L109.9 139.7 L110.4 139.9 L110.9 140.1 L111.4 140.3 L111.9 140.5 L112.4 140.7 L112.9 140.9 L113.4 141.1 L113.9 141.2 L114.4 141.4 L114.9 141.5 L115.4 141.7 L115.9 141.8 L116.4 141.9 L116.9 142.1 L117.4 142.2 L117.9 142.3 L118.4 142.4 L118.9 142.5 L119.4 142.6 L119.9 142.7 L120.4 142.8 L120.9 142.9 L121.4 143.0 L121.8 143.1 L122.3 143.1 L122.8 143.2 L123.3 143.3 L123.8 143.4 L124.3 143.4 L124.8 143.5 L125.3 143.6 L125.8 143.7 L126.3 143.7 L126.8 143.8 L127.3 143.9 L127.8 143.9 L128.3 144.0 L128.8 144.1 L129.3 144.1 L129.8 144.2 L130.3 144.2 L130.8 144.3 L131.3 144.3 L131.8 144.4 L132.3 144.5 L132.8 144.5 L133.3 144.6 L133.8 144.6 L134.3 144.7 L134.8 144.7 L135.3 144.8 L135.8 144.8 L136.3 144.8 L136.8 144.9 L137.3 144.9 L137.8 145.0 L138.3 145.0 L138.8 145.1 L139.3 145.1 L139.8 145.1 L140.3 145.2 L140.8 145.2 L141.3 145.2 L141.8 145.3 L142.3 145.3 L142.8 145.3 L143.3 145.4 L143.8 145.4 L144.3 145.4 L144.8 145.4 L145.3 145.5 L145.8 145.5 L146.3 145.5 L146.8 145.6 L147.3 145.6 L147.8 145.6 L148.3 145.6 L148.8 145.6 L149.3 145.7 L149.8 145.7 L150.3 145.7 L150.8 145.7 L151.3 145.7 L151.8 145.7 L152.3 145.8 L152.8 145.8 L153.3 145.8 L153.8 145.8 L154.3 145.8 L154.8 145.8 L155.3 145.8 L155.8 145.8 L156.3 145.8 L156.8 145.9 L157.3 145.9 L157.8 145.9 L158.3 145.9 L158.8 145.9 L159.3 145.9 L159.8 145.9 L160.3 145.9 L160.8 145.9 L161.3 145.9 L161.8 145.9 L162.3 145.9 L162.8 145.9 L163.3 145.9 L163.8 145.9 L164.3 145.9 L164.8 145.9 L165.3 145.9 L165.8 145.9 L166.3 145.9 L166.8 145.9 L167.3 145.9 L167.8 145.9 L168.3 145.9 L168.8 145.9 L169.3 145.9 L169.8 145.9 L170.3 145.9 L170.8 145.9 L171.3 145.8 L171.8 145.8 L172.3 145.8 L172.8 145.8 L173.3 145.8 L173.8 145.8 L174.3 145.8 L174.8 145.8 L175.3 145.8 L175.8 145.8 L176.3 145.8 L176.8 145.7 L177.3 145.7 L177.8 145.7 L178.3 145.7 L178.8 145.7 L179.3 145.7 L179.8 145.7 L180.3 145.7 L180.8 145.7 L181.3 145.6 L181.8 145.6 L182.3 145.6 L182.8 145.6 L183.3 145.6 L183.8 145.6 L184.3 145.6 L184.8 145.6 L185.3 145.6 L185.8 145.5 L186.3 145.5 L186.8 145.5 L187.3 145.5 L187.8 145.5 L188.3 145.5 L188.8 145.5 L189.3 145.5 L189.8 145.4 L190.3 145.4 L190.8 145.4 L191.3 145.4 L191.8 145.4 L192.3 145.4 L192.8 145.4 L193.3 145.4 L193.8 145.3 L194.3 145.3 L194.8 145.3 L195.3 145.3 L195.8 145.3 L196.3 145.3 L196.8 145.3 L197.3 145.3 L197.8 145.3 L198.3 145.2 L198.8 145.2 L199.3 145.2 L199.8 145.2 L200.3 145.2 L200.8 145.2 L201.3 145.2 L201.8 145.2 L202.3 145.2 L202.8 145.2 L203.3 145.2 L203.8 145.1 L204.3 145.1 L204.8 145.1 L205.3 145.1 L205.8 145.1 L206.3 145.1 L206.8 145.1 L207.3 145.1 L207.8 145.1 L208.3 145.1 L208.8 145.1 L209.3 145.1 L209.8 145.1 L210.3 145.1 L210.8 145.1 L211.3 145.1 L211.8 145.1 L212.3 145.1 L212.8 145.1 L213.3 145.1 L213.8 145.1 L214.3 145.1 L214.8 145.1 L215.3 145.1 L215.8 145.1 L216.3 145.1 L216.8 145.1 L217.3 145.1 L217.8 145.1 L218.3 145.1 L218.8 145.2 L219.3 145.2 L219.8 145.2 L220.3 145.2 L220.8 145.2 L221.3 145.2 L221.8 145.2 L222.3 145.2 L222.8 145.2 L223.3 145.2 L223.8 145.3 L224.3 145.3 L224.8 145.3 L225.3 145.3 L225.8 145.3 L226.3 145.3 L226.8 145.3 L227.3 145.4 L227.8 145.4 L228.3 145.4 L228.8 145.4 L229.3 145.4 L229.8 145.4 L230.3 145.5 L230.8 145.5 L231.3 145.5 L231.8 145.5 L232.3 145.5 L232.8 145.6 L233.3 145.6 L233.8 145.6 L234.3 145.6 L234.8 145.6 L235.3 145.7 L235.8 145.7 L236.3 145.7 L236.8 145.7 L237.3 145.7 L237.8 145.8 L238.3 145.8 L238.8 145.8 L239.3 145.8 L239.8 145.9 L240.3 145.9 L240.8 145.9 L241.3 145.9 L241.8 145.9 L242.3 146.0 L242.8 146.0 L243.3 146.0 L243.8 146.0 L244.3 146.1 L244.8 146.1 L245.3 146.1 L245.8 146.1 L246.3 146.2 L246.8 146.2 L247.3 146.2 L247.8 146.2 L248.3 146.3 L248.8 146.3 L249.3 146.3 L249.8 146.3 L250.3 146.4 L250.8 146.4 L251.3 146.4 L251.8 146.5 L252.3 146.5 L252.8 146.5 L253.3 146.5 L253.8 146.6 L254.3 146.6 L254.8 146.6 L255.3 146.6 L255.8 146.7 L256.3 146.7 L256.8 146.7 L257.3 146.7 L257.8 146.8 L258.3 146.8 L258.8 146.8 L259.3 146.9 L259.8 146.9 L260.3 146.9 L260.8 146.9 L261.3 147.0 L261.8 147.0 L262.3 147.0 L262.8 147.0 L263.3 147.1 L263.8 147.1 L264.3 147.1 L264.8 147.1 L265.3 147.2 L265.8 147.2 L266.3 147.2 L266.8 147.2 L267.3 147.3 L267.8 147.3 L268.3 147.3 L268.8 147.3 L269.3 147.4 L269.8 147.4 L270.3 147.4 L270.8 147.4 L271.3 147.4 L271.8 147.5 L272.3 147.5 L272.8 147.5 L273.3 147.5 L273.8 147.6 L274.3 147.6 L274.8 147.6 L275.3 147.6 L275.8 147.6 L276.3 147.7 L276.8 147.7 L277.3 147.7 L277.8 147.7 L278.3 147.7 L278.8 147.8 L279.3 147.8 L279.8 147.8 L280.3 147.8 L280.8 147.8 L281.3 147.8 L281.8 147.9 L282.3 147.9 L282.8 147.9 L283.3 147.9 L283.8 147.9 L284.3 147.9 L284.8 148.0 L285.3 148.0 L285.8 148.0 L286.3 148.0 L286.8 148.0 L287.3 148.0 L287.8 148.0 L288.3 148.0 L288.8 148.0 L289.3 148.1 L289.8 148.1 L290.3 148.1 L290.8 148.1 L291.3 148.1 L291.8 148.1 L292.3 148.1 L292.8 148.1 L293.3 148.1 L293.8 148.1 L294.3 148.1 L294.8 148.1 L295.3 148.1 L295.8 148.1 L296.3 148.1 L296.8 148.1 L297.3 148.1 L297.8 148.1 L298.3 148.1 L298.8 148.1 L299.3 148.1 L299.8 148.1 L300.3 148.1 L300.8 148.1 L301.3 148.1 L301.8 148.1 L302.3 148.1 L302.8 148.1 L303.3 148.1 L303.8 148.1 L304.3 148.1 L304.8 148.1 L305.3 148.1 L305.8 148.1 L306.3 148.1 L306.8 148.1 L307.3 148.0 L307.8 148.0 L308.3 148.0 L308.8 148.0 L309.3 148.0 L309.8 148.0 L310.3 148.0 L310.8 147.9 L311.3 147.9 L311.8 147.9 L312.3 147.9 L312.8 147.9 L313.3 147.8 L313.8 147.8 L314.3 147.8 L314.8 147.8 L315.3 147.7 L315.8 147.7 L316.3 147.7 L316.8 147.7 L317.3 147.6 L317.8 147.6 L318.3 147.6 L318.8 147.6 L319.3 147.5 L319.8 147.5" fill="none" stroke="#10107a" stroke-width="2.40" stroke-dasharray="10.5 5.2 1.6 5.2" stroke-linecap="butt" stroke-linejoin="round"/>
<path d="M45.3 15.2 L45.7 15.2 L46.2 15.3 L46.6 15.5 L47.1 15.7 L47.5 15.9 L48.0 16.2 L48.5 16.6 L49.0 17.0 L49.4 17.5 L49.9 18.0 L50.4 18.6 L50.9 19.2 L51.4 19.9 L51.9 20.6 L52.4 21.4 L52.9 22.3 L53.4 23.2 L53.9 24.1 L54.3 25.1 L54.8 26.2 L55.3 27.3 L55.8 28.4 L56.3 29.6 L56.8 30.9 L57.3 32.2 L57.8 33.5 L58.3 34.9 L58.8 36.4 L59.3 37.8 L59.8 39.4 L60.3 40.9 L60.8 42.5 L61.3 44.1 L61.8 45.8 L62.3 47.5 L62.8 49.2 L63.3 50.9 L63.8 52.6 L64.3 54.4 L64.9 56.1 L65.4 57.9 L65.9 59.7 L66.4 61.4 L66.9 63.2 L67.4 64.9 L67.9 66.6 L68.4 68.3 L68.9 69.9 L69.4 71.6 L69.9 73.2 L70.4 74.8 L70.9 76.3 L71.4 77.8 L71.9 79.4 L72.4 80.8 L72.9 82.3 L73.5 83.7 L74.0 85.1 L74.5 86.5 L75.0 87.9 L75.5 89.2 L76.0 90.5 L76.5 91.8 L77.0 93.1 L77.5 94.4 L78.0 95.6 L78.5 96.8 L79.0 98.0 L79.5 99.2 L80.0 100.3 L80.5 101.5 L81.0 102.6 L81.5 103.7 L82.0 104.8 L82.5 105.8 L83.0 106.9 L83.5 107.9 L84.0 108.9 L84.5 109.9 L85.0 110.9 L85.5 111.9 L86.0 112.8 L86.5 113.7 L87.0 114.6 L87.5 115.5 L88.0 116.4 L88.5 117.3 L89.0 118.1 L89.5 118.9 L90.0 119.8 L90.5 120.5 L91.0 121.3 L91.5 122.1 L92.1 122.8 L92.6 123.6 L93.1 124.3 L93.6 125.0 L94.1 125.7 L94.6 126.4 L95.1 127.0 L95.6 127.7 L96.1 128.3 L96.6 128.9 L97.1 129.5 L97.6 130.1 L98.1 130.7 L98.6 131.3 L99.1 131.8 L99.6 132.3 L100.1 132.9 L100.6 133.4 L101.1 133.9 L101.6 134.4 L102.1 134.8 L102.6 135.3 L103.1 135.7 L103.6 136.2 L104.1 136.6 L104.6 137.0 L105.1 137.4 L105.6 137.8 L106.1 138.2 L106.6 138.5 L107.1 138.9 L107.6 139.2 L108.1 139.5 L108.6 139.9 L109.1 140.2 L109.7 140.5 L110.2 140.7 L110.7 141.0 L111.2 141.3 L111.7 141.5 L112.2 141.8 L112.7 142.0 L113.2 142.2 L113.7 142.4 L114.2 142.6 L114.7 142.8 L115.2 143.0 L115.7 143.2 L116.2 143.4 L116.7 143.5 L117.2 143.7 L117.7 143.8 L118.2 144.0 L118.7 144.1 L119.2 144.2 L119.7 144.3 L120.2 144.4 L120.7 144.5 L121.3 144.6 L121.8 144.7 L122.3 144.8 L122.8 144.8 L123.3 144.9 L123.8 144.9 L124.3 145.0 L124.8 145.0 L125.3 145.1 L125.8 145.1 L126.3 145.1 L126.8 145.1 L127.3 145.2 L127.8 145.2 L128.3 145.2 L128.8 145.2 L129.3 145.2 L129.8 145.2 L130.3 145.1 L130.8 145.1 L131.3 145.1 L131.8 145.1 L132.3 145.0 L132.8 145.0 L133.3 145.0 L133.8 144.9 L134.3 144.9 L134.8 144.9 L135.3 144.8 L135.8 144.8 L136.3 144.7 L136.8 144.6 L137.3 144.6 L137.8 144.5 L138.3 144.5 L138.8 144.4 L139.3 144.3 L139.8 144.3 L140.3 144.2 L140.8 144.1 L141.3 144.1 L141.8 144.0 L142.3 143.9 L142.8 143.9 L143.3 143.8 L143.8 143.7 L144.3 143.7 L144.8 143.6 L145.3 143.5 L145.8 143.5 L146.3 143.4 L146.8 143.3 L147.3 143.3 L147.8 143.2 L148.3 143.1 L148.8 143.1 L149.3 143.0 L149.8 143.0 L150.3 142.9 L150.8 142.8 L151.3 142.8 L151.8 142.7 L152.3 142.7 L152.8 142.6 L153.3 142.6 L153.8 142.5 L154.3 142.4 L154.8 142.4 L155.3 142.3 L155.8 142.3 L156.3 142.2 L156.8 142.2 L157.3 142.1 L157.8 142.1 L158.3 142.1 L158.8 142.0 L159.3 142.0 L159.8 141.9 L160.3 141.9 L160.8 141.8 L161.3 141.8 L161.8 141.8 L162.3 141.7 L162.8 141.7 L163.3 141.6 L163.8 141.6 L164.3 141.6 L164.8 141.5 L165.3 141.5 L165.8 141.5 L166.3 141.4 L166.8 141.4 L167.3 141.4 L167.8 141.3 L168.3 141.3 L168.8 141.3 L169.3 141.2 L169.8 141.2 L170.3 141.2 L170.8 141.1 L171.3 141.1 L171.8 141.1 L172.3 141.1 L172.8 141.0 L173.3 141.0 L173.8 141.0 L174.3 141.0 L174.8 140.9 L175.3 140.9 L175.8 140.9 L176.3 140.9 L176.8 140.9 L177.3 140.8 L177.8 140.8 L178.3 140.8 L178.8 140.8 L179.3 140.8 L179.8 140.8 L180.3 140.7 L180.8 140.7 L181.3 140.7 L181.8 140.7 L182.3 140.7 L182.8 140.7 L183.3 140.7 L183.8 140.7 L184.3 140.6 L184.8 140.6 L185.3 140.6 L185.8 140.6 L186.3 140.6 L186.8 140.6 L187.3 140.6 L187.8 140.6 L188.3 140.6 L188.8 140.6 L189.3 140.6 L189.8 140.6 L190.3 140.6 L190.8 140.6 L191.3 140.6 L191.8 140.5 L192.3 140.5 L192.8 140.5 L193.3 140.5 L193.8 140.5 L194.3 140.5 L194.8 140.5 L195.3 140.5 L195.8 140.5 L196.3 140.5 L196.8 140.5 L197.3 140.6 L197.8 140.6 L198.3 140.6 L198.8 140.6 L199.3 140.6 L199.8 140.6 L200.3 140.6 L200.8 140.6 L201.3 140.6 L201.8 140.6 L202.3 140.6 L202.8 140.6 L203.3 140.6 L203.8 140.6 L204.3 140.6 L204.8 140.6 L205.3 140.7 L205.8 140.7 L206.3 140.7 L206.8 140.7 L207.3 140.7 L207.8 140.7 L208.3 140.7 L208.8 140.7 L209.3 140.7 L209.8 140.8 L210.3 140.8 L210.8 140.8 L211.3 140.8 L211.8 140.8 L212.3 140.8 L212.8 140.8 L213.3 140.9 L213.8 140.9 L214.3 140.9 L214.8 140.9 L215.3 140.9 L215.8 140.9 L216.3 141.0 L216.8 141.0 L217.3 141.0 L217.8 141.0 L218.3 141.0 L218.8 141.0 L219.3 141.1 L219.8 141.1 L220.3 141.1 L220.8 141.1 L221.3 141.1 L221.8 141.2 L222.3 141.2 L222.8 141.2 L223.3 141.2 L223.8 141.2 L224.3 141.3 L224.8 141.3 L225.3 141.3 L225.8 141.3 L226.3 141.4 L226.8 141.4 L227.3 141.4 L227.8 141.4 L228.3 141.4 L228.8 141.5 L229.3 141.5 L229.8 141.5 L230.3 141.5 L230.8 141.6 L231.3 141.6 L231.8 141.6 L232.3 141.6 L232.8 141.7 L233.3 141.7 L233.8 141.7 L234.3 141.7 L234.8 141.8 L235.3 141.8 L235.8 141.8 L236.3 141.8 L236.8 141.9 L237.3 141.9 L237.8 141.9 L238.3 141.9 L238.8 142.0 L239.3 142.0 L239.8 142.0 L240.3 142.0 L240.8 142.1 L241.3 142.1 L241.8 142.1 L242.3 142.2 L242.8 142.2 L243.3 142.2 L243.8 142.2 L244.3 142.3 L244.8 142.3 L245.3 142.3 L245.8 142.3 L246.3 142.4 L246.8 142.4 L247.3 142.4 L247.8 142.4 L248.3 142.5 L248.8 142.5 L249.3 142.5 L249.8 142.6 L250.3 142.6 L250.8 142.6 L251.3 142.6 L251.8 142.7 L252.3 142.7 L252.8 142.7 L253.3 142.7 L253.8 142.8 L254.3 142.8 L254.8 142.8 L255.3 142.9 L255.8 142.9 L256.3 142.9 L256.8 142.9 L257.3 143.0 L257.8 143.0 L258.3 143.0 L258.8 143.0 L259.3 143.1 L259.8 143.1 L260.3 143.1 L260.8 143.2 L261.3 143.2 L261.8 143.2 L262.3 143.2 L262.8 143.3 L263.3 143.3 L263.8 143.3 L264.3 143.3 L264.8 143.4 L265.3 143.4 L265.8 143.4 L266.3 143.4 L266.8 143.5 L267.3 143.5 L267.8 143.5 L268.3 143.5 L268.8 143.6 L269.3 143.6 L269.8 143.6 L270.3 143.6 L270.8 143.7 L271.3 143.7 L271.8 143.7 L272.3 143.7 L272.8 143.8 L273.3 143.8 L273.8 143.8 L274.3 143.8 L274.8 143.8 L275.3 143.9 L275.8 143.9 L276.3 143.9 L276.8 143.9 L277.3 144.0 L277.8 144.0 L278.3 144.0 L278.8 144.0 L279.3 144.0 L279.8 144.1 L280.3 144.1 L280.8 144.1 L281.3 144.1 L281.8 144.1 L282.3 144.2 L282.8 144.2 L283.3 144.2 L283.8 144.2 L284.3 144.2 L284.8 144.2 L285.3 144.3 L285.8 144.3 L286.3 144.3 L286.8 144.3 L287.3 144.3 L287.8 144.3 L288.3 144.4 L288.8 144.4 L289.3 144.4 L289.8 144.4 L290.3 144.4 L290.8 144.4 L291.3 144.4 L291.8 144.5 L292.3 144.5 L292.8 144.5 L293.3 144.5 L293.8 144.5 L294.3 144.5 L294.8 144.5 L295.3 144.5 L295.8 144.5 L296.3 144.6 L296.8 144.6 L297.3 144.6 L297.8 144.6 L298.3 144.6 L298.8 144.6 L299.3 144.6 L299.8 144.6 L300.3 144.6 L300.8 144.6 L301.3 144.6 L301.8 144.6 L302.3 144.6 L302.8 144.6 L303.3 144.6 L303.8 144.7 L304.3 144.7 L304.8 144.7 L305.3 144.7 L305.8 144.7 L306.3 144.7 L306.8 144.7 L307.3 144.7 L307.8 144.7 L308.3 144.7 L308.8 144.7 L309.3 144.7 L309.8 144.7 L310.3 144.6 L310.8 144.6 L311.3 144.6 L311.8 144.6 L312.3 144.6 L312.8 144.6 L313.3 144.6 L313.8 144.6 L314.3 144.6 L314.8 144.6 L315.3 144.6 L315.8 144.6 L316.3 144.6 L316.8 144.6 L317.3 144.6 L317.8 144.5 L318.3 144.5 L318.8 144.5 L319.3 144.5 L319.8 144.5" fill="none" stroke="#168016" stroke-width="2.40" stroke-dasharray="10.5 5.2 1.6 5.2" stroke-linecap="butt" stroke-linejoin="round"/>
<path d="M45.3 190.0 L46.3 190.5 L47.3 191.1 L48.3 191.8 L49.3 192.5 L50.3 193.2 L51.3 194.0 L52.3 194.8 L53.3 195.7 L54.3 196.5 L55.3 197.4 L56.3 198.4 L57.3 199.3 L58.3 200.3 L59.3 201.3 L60.3 202.4 L61.3 203.4 L62.3 204.5 L63.3 205.5 L64.3 206.6 L65.3 207.7 L66.3 208.8 L67.3 209.9 L68.3 211.1 L69.3 212.2 L70.3 213.3 L71.3 214.4 L72.3 215.6 L73.3 216.7 L74.3 217.8 L75.3 218.9 L76.3 220.0 L77.3 221.2 L78.3 222.2 L79.3 223.3 L80.3 224.4 L81.3 225.5 L82.3 226.5 L83.3 227.5 L84.3 228.5 L85.3 229.5 L86.3 230.5 L87.3 231.4 L88.3 232.4 L89.3 233.3 L90.3 234.2 L91.3 235.1 L92.3 236.0 L93.3 236.8 L94.3 237.7 L95.3 238.5 L96.3 239.3 L97.3 240.1 L98.3 240.9 L99.3 241.7 L100.3 242.4 L101.3 243.2 L102.3 243.9 L103.3 244.7 L104.3 245.4 L105.3 246.1 L106.3 246.8 L107.3 247.4 L108.3 248.1 L109.3 248.8 L110.3 249.4 L111.3 250.1 L112.3 250.7 L113.3 251.3 L114.3 251.9 L115.3 252.5 L116.3 253.1 L117.3 253.7 L118.3 254.3 L119.3 254.9 L120.3 255.4 L121.3 256.0 L122.3 256.5 L123.3 257.1 L124.3 257.6 L125.3 258.1 L126.3 258.7 L127.3 259.2 L128.3 259.7 L129.3 260.2 L130.3 260.7 L131.3 261.2 L132.3 261.7 L133.3 262.2 L134.3 262.6 L135.3 263.1 L136.3 263.6 L137.3 264.0 L138.3 264.5 L139.3 264.9 L140.3 265.4 L141.3 265.8 L142.3 266.2 L143.3 266.7 L144.3 267.1 L145.3 267.5 L146.3 267.9 L147.3 268.3 L148.3 268.7 L149.3 269.1 L150.3 269.5 L151.3 269.9 L152.3 270.3 L153.3 270.6 L154.3 271.0 L155.3 271.4 L156.3 271.7 L157.3 272.1 L158.3 272.4 L159.3 272.8 L160.3 273.1 L161.3 273.4 L162.3 273.8 L163.3 274.1 L164.3 274.4 L165.3 274.7 L166.3 275.1 L167.3 275.4 L168.3 275.7 L169.3 276.0 L170.3 276.3 L171.3 276.5 L172.3 276.8 L173.3 277.1 L174.3 277.4 L175.3 277.7 L176.3 277.9 L177.3 278.2 L178.3 278.5 L179.3 278.7 L180.3 279.0 L181.3 279.2 L182.3 279.5 L183.3 279.7 L184.3 279.9 L185.3 280.2 L186.3 280.4 L187.3 280.6 L188.3 280.9 L189.3 281.1 L190.3 281.3 L191.3 281.5 L192.3 281.7 L193.3 281.9 L194.3 282.1 L195.3 282.3 L196.3 282.5 L197.3 282.7 L198.3 282.9 L199.3 283.1 L200.3 283.3 L201.3 283.5 L202.3 283.6 L203.3 283.8 L204.3 284.0 L205.3 284.1 L206.3 284.3 L207.3 284.5 L208.3 284.6 L209.3 284.8 L210.3 284.9 L211.3 285.1 L212.3 285.2 L213.3 285.4 L214.3 285.5 L215.3 285.7 L216.3 285.8 L217.3 286.0 L218.3 286.1 L219.3 286.2 L220.3 286.3 L221.3 286.5 L222.3 286.6 L223.3 286.7 L224.3 286.8 L225.3 287.0 L226.3 287.1 L227.3 287.2 L228.3 287.3 L229.3 287.4 L230.3 287.5 L231.3 287.6 L232.3 287.7 L233.3 287.8 L234.3 287.9 L235.3 288.0 L236.3 288.1 L237.3 288.2 L238.3 288.3 L239.3 288.4 L240.3 288.5 L241.3 288.6 L242.3 288.7 L243.3 288.8 L244.3 288.9 L245.3 288.9 L246.3 289.0 L247.3 289.1 L248.3 289.2 L249.3 289.3 L250.3 289.3 L251.3 289.4 L252.3 289.5 L253.3 289.6 L254.3 289.7 L255.3 289.7 L256.3 289.8 L257.3 289.9 L258.3 289.9 L259.3 290.0 L260.3 290.1 L261.3 290.2 L262.3 290.2 L263.3 290.3 L264.3 290.4 L265.3 290.4 L266.3 290.5 L267.3 290.6 L268.3 290.6 L269.3 290.7 L270.3 290.8 L271.3 290.8 L272.3 290.9 L273.3 290.9 L274.3 291.0 L275.3 291.1 L276.3 291.1 L277.3 291.2 L278.3 291.3 L279.3 291.3 L280.3 291.4 L281.3 291.5 L282.3 291.5 L283.3 291.6 L284.3 291.7 L285.3 291.7 L286.3 291.8 L287.3 291.9 L288.3 291.9 L289.3 292.0 L290.3 292.1 L291.3 292.1 L292.3 292.2 L293.3 292.3 L294.3 292.3 L295.3 292.4 L296.3 292.5 L297.3 292.5 L298.3 292.6 L299.3 292.7 L300.3 292.8 L301.3 292.8 L302.3 292.9 L303.3 293.0 L304.3 293.1 L305.3 293.2 L306.3 293.2 L307.3 293.3 L308.3 293.4 L309.3 293.5 L310.3 293.6 L311.3 293.7 L312.3 293.8 L313.3 293.8 L314.3 293.9 L315.3 294.0 L316.3 294.1 L317.3 294.2 L318.3 294.3 L319.3 294.4 L319.8 294.5" fill="none" stroke="#d82020" stroke-width="2.40" stroke-dasharray="8.2 9.4" stroke-dashoffset="0.38" stroke-linecap="butt" stroke-linejoin="round"/>
<path d="M45.3 236.2 L46.3 237.1 L47.3 238.1 L48.3 239.0 L49.3 239.9 L50.3 240.7 L51.3 241.6 L52.3 242.5 L53.3 243.3 L54.3 244.1 L55.3 245.0 L56.3 245.8 L57.3 246.6 L58.3 247.4 L59.3 248.1 L60.3 248.9 L61.3 249.7 L62.3 250.4 L63.3 251.1 L64.3 251.8 L65.3 252.6 L66.3 253.3 L67.3 253.9 L68.3 254.6 L69.3 255.3 L70.3 255.9 L71.3 256.6 L72.3 257.2 L73.3 257.8 L74.3 258.5 L75.3 259.1 L76.3 259.7 L77.3 260.2 L78.3 260.8 L79.3 261.4 L80.3 261.9 L81.3 262.5 L82.3 263.0 L83.3 263.6 L84.3 264.1 L85.3 264.6 L86.3 265.1 L87.3 265.6 L88.3 266.1 L89.3 266.6 L90.3 267.0 L91.3 267.5 L92.3 268.0 L93.3 268.4 L94.3 268.8 L95.3 269.3 L96.3 269.7 L97.3 270.1 L98.3 270.5 L99.3 270.9 L100.3 271.3 L101.3 271.7 L102.3 272.1 L103.3 272.5 L104.3 272.8 L105.3 273.2 L106.3 273.6 L107.3 273.9 L108.3 274.2 L109.3 274.6 L110.3 274.9 L111.3 275.2 L112.3 275.5 L113.3 275.9 L114.3 276.2 L115.3 276.5 L116.3 276.8 L117.3 277.1 L118.3 277.3 L119.3 277.6 L120.3 277.9 L121.3 278.2 L122.3 278.4 L123.3 278.7 L124.3 278.9 L125.3 279.2 L126.3 279.4 L127.3 279.7 L128.3 279.9 L129.3 280.2 L130.3 280.4 L131.3 280.6 L132.3 280.8 L133.3 281.1 L134.3 281.3 L135.3 281.5 L136.3 281.7 L137.3 281.9 L138.3 282.1 L139.3 282.3 L140.3 282.5 L141.3 282.7 L142.3 282.9 L143.3 283.1 L144.3 283.3 L145.3 283.4 L146.3 283.6 L147.3 283.8 L148.3 284.0 L149.3 284.2 L150.3 284.3 L151.3 284.5 L152.3 284.7 L153.3 284.8 L154.3 285.0 L155.3 285.1 L156.3 285.3 L157.3 285.5 L158.3 285.6 L159.3 285.8 L160.3 285.9 L161.3 286.1 L162.3 286.2 L163.3 286.4 L164.3 286.5 L165.3 286.6 L166.3 286.8 L167.3 286.9 L168.3 287.0 L169.3 287.2 L170.3 287.3 L171.3 287.4 L172.3 287.5 L173.3 287.7 L174.3 287.8 L175.3 287.9 L176.3 288.0 L177.3 288.1 L178.3 288.3 L179.3 288.4 L180.3 288.5 L181.3 288.6 L182.3 288.7 L183.3 288.8 L184.3 288.9 L185.3 289.0 L186.3 289.1 L187.3 289.2 L188.3 289.3 L189.3 289.4 L190.3 289.5 L191.3 289.6 L192.3 289.7 L193.3 289.8 L194.3 289.8 L195.3 289.9 L196.3 290.0 L197.3 290.1 L198.3 290.2 L199.3 290.3 L200.3 290.3 L201.3 290.4 L202.3 290.5 L203.3 290.6 L204.3 290.7 L205.3 290.7 L206.3 290.8 L207.3 290.9 L208.3 290.9 L209.3 291.0 L210.3 291.1 L211.3 291.1 L212.3 291.2 L213.3 291.3 L214.3 291.3 L215.3 291.4 L216.3 291.4 L217.3 291.5 L218.3 291.6 L219.3 291.6 L220.3 291.7 L221.3 291.7 L222.3 291.8 L223.3 291.8 L224.3 291.9 L225.3 291.9 L226.3 292.0 L227.3 292.1 L228.3 292.1 L229.3 292.2 L230.3 292.2 L231.3 292.2 L232.3 292.3 L233.3 292.3 L234.3 292.4 L235.3 292.4 L236.3 292.5 L237.3 292.5 L238.3 292.6 L239.3 292.6 L240.3 292.6 L241.3 292.7 L242.3 292.7 L243.3 292.8 L244.3 292.8 L245.3 292.8 L246.3 292.9 L247.3 292.9 L248.3 293.0 L249.3 293.0 L250.3 293.0 L251.3 293.1 L252.3 293.1 L253.3 293.1 L254.3 293.2 L255.3 293.2 L256.3 293.3 L257.3 293.3 L258.3 293.3 L259.3 293.4 L260.3 293.4 L261.3 293.4 L262.3 293.5 L263.3 293.5 L264.3 293.5 L265.3 293.6 L266.3 293.6 L267.3 293.6 L268.3 293.7 L269.3 293.7 L270.3 293.7 L271.3 293.8 L272.3 293.8 L273.3 293.8 L274.3 293.9 L275.3 293.9 L276.3 294.0 L277.3 294.0 L278.3 294.0 L279.3 294.1 L280.3 294.1 L281.3 294.1 L282.3 294.2 L283.3 294.2 L284.3 294.2 L285.3 294.3 L286.3 294.3 L287.3 294.4 L288.3 294.4 L289.3 294.4 L290.3 294.5 L291.3 294.5 L292.3 294.6 L293.3 294.6 L294.3 294.7 L295.3 294.7 L296.3 294.7 L297.3 294.8 L298.3 294.8 L299.3 294.9 L300.3 294.9 L301.3 295.0 L302.3 295.0 L303.3 295.1 L304.3 295.1 L305.3 295.2 L306.3 295.2 L307.3 295.3 L308.3 295.3 L309.3 295.4 L310.3 295.4 L311.3 295.5 L312.3 295.5 L313.3 295.6 L314.3 295.6 L315.3 295.7 L316.3 295.8 L317.3 295.8 L318.3 295.9 L319.3 295.9 L319.8 296.0" fill="none" stroke="#1414d0" stroke-width="2.40" stroke-dasharray="8.2 9.4" stroke-dashoffset="0.34" stroke-linecap="butt" stroke-linejoin="round"/>
<path d="M45.3 165.3 L46.3 166.0 L47.3 166.8 L48.3 167.7 L49.3 168.6 L50.3 169.6 L51.3 170.6 L52.3 171.7 L53.3 172.8 L54.3 174.0 L55.3 175.2 L56.3 176.5 L57.3 177.8 L58.3 179.1 L59.3 180.4 L60.3 181.8 L61.3 183.2 L62.3 184.6 L63.3 186.0 L64.3 187.4 L65.3 188.8 L66.3 190.2 L67.3 191.6 L68.3 193.1 L69.3 194.5 L70.3 195.9 L71.3 197.4 L72.3 198.8 L73.3 200.2 L74.3 201.6 L75.3 203.1 L76.3 204.5 L77.3 205.9 L78.3 207.3 L79.3 208.7 L80.3 210.1 L81.3 211.5 L82.3 212.8 L83.3 214.2 L84.3 215.5 L85.3 216.8 L86.3 218.2 L87.3 219.5 L88.3 220.8 L89.3 222.0 L90.3 223.3 L91.3 224.5 L92.3 225.7 L93.3 226.9 L94.3 228.1 L95.3 229.2 L96.3 230.4 L97.3 231.5 L98.3 232.6 L99.3 233.7 L100.3 234.7 L101.3 235.8 L102.3 236.8 L103.3 237.8 L104.3 238.8 L105.3 239.7 L106.3 240.7 L107.3 241.6 L108.3 242.5 L109.3 243.4 L110.3 244.3 L111.3 245.1 L112.3 246.0 L113.3 246.8 L114.3 247.6 L115.3 248.4 L116.3 249.2 L117.3 250.0 L118.3 250.7 L119.3 251.4 L120.3 252.2 L121.3 252.9 L122.3 253.6 L123.3 254.2 L124.3 254.9 L125.3 255.6 L126.3 256.2 L127.3 256.8 L128.3 257.4 L129.3 258.0 L130.3 258.6 L131.3 259.2 L132.3 259.7 L133.3 260.3 L134.3 260.8 L135.3 261.3 L136.3 261.8 L137.3 262.3 L138.3 262.8 L139.3 263.3 L140.3 263.8 L141.3 264.2 L142.3 264.7 L143.3 265.1 L144.3 265.6 L145.3 266.0 L146.3 266.4 L147.3 266.8 L148.3 267.2 L149.3 267.6 L150.3 268.0 L151.3 268.3 L152.3 268.7 L153.3 269.0 L154.3 269.4 L155.3 269.7 L156.3 270.1 L157.3 270.4 L158.3 270.7 L159.3 271.0 L160.3 271.3 L161.3 271.6 L162.3 271.9 L163.3 272.2 L164.3 272.5 L165.3 272.8 L166.3 273.1 L167.3 273.3 L168.3 273.6 L169.3 273.9 L170.3 274.1 L171.3 274.4 L172.3 274.6 L173.3 274.9 L174.3 275.1 L175.3 275.4 L176.3 275.6 L177.3 275.8 L178.3 276.1 L179.3 276.3 L180.3 276.5 L181.3 276.8 L182.3 277.0 L183.3 277.2 L184.3 277.4 L185.3 277.7 L186.3 277.9 L187.3 278.1 L188.3 278.3 L189.3 278.6 L190.3 278.8 L191.3 279.0 L192.3 279.2 L193.3 279.4 L194.3 279.7 L195.3 279.9 L196.3 280.1 L197.3 280.3 L198.3 280.5 L199.3 280.7 L200.3 280.9 L201.3 281.1 L202.3 281.3 L203.3 281.5 L204.3 281.7 L205.3 281.9 L206.3 282.1 L207.3 282.3 L208.3 282.5 L209.3 282.7 L210.3 282.9 L211.3 283.1 L212.3 283.3 L213.3 283.5 L214.3 283.7 L215.3 283.9 L216.3 284.1 L217.3 284.3 L218.3 284.5 L219.3 284.6 L220.3 284.8 L221.3 285.0 L222.3 285.2 L223.3 285.4 L224.3 285.5 L225.3 285.7 L226.3 285.9 L227.3 286.0 L228.3 286.2 L229.3 286.4 L230.3 286.6 L231.3 286.7 L232.3 286.9 L233.3 287.0 L234.3 287.2 L235.3 287.4 L236.3 287.5 L237.3 287.7 L238.3 287.8 L239.3 288.0 L240.3 288.1 L241.3 288.3 L242.3 288.4 L243.3 288.6 L244.3 288.7 L245.3 288.9 L246.3 289.0 L247.3 289.2 L248.3 289.3 L249.3 289.4 L250.3 289.6 L251.3 289.7 L252.3 289.8 L253.3 290.0 L254.3 290.1 L255.3 290.2 L256.3 290.3 L257.3 290.5 L258.3 290.6 L259.3 290.7 L260.3 290.8 L261.3 290.9 L262.3 291.1 L263.3 291.2 L264.3 291.3 L265.3 291.4 L266.3 291.5 L267.3 291.6 L268.3 291.7 L269.3 291.8 L270.3 291.9 L271.3 292.0 L272.3 292.1 L273.3 292.2 L274.3 292.3 L275.3 292.4 L276.3 292.5 L277.3 292.6 L278.3 292.6 L279.3 292.7 L280.3 292.8 L281.3 292.9 L282.3 293.0 L283.3 293.0 L284.3 293.1 L285.3 293.2 L286.3 293.3 L287.3 293.3 L288.3 293.4 L289.3 293.5 L290.3 293.5 L291.3 293.6 L292.3 293.6 L293.3 293.7 L294.3 293.7 L295.3 293.8 L296.3 293.8 L297.3 293.9 L298.3 293.9 L299.3 294.0 L300.3 294.0 L301.3 294.1 L302.3 294.1 L303.3 294.1 L304.3 294.2 L305.3 294.2 L306.3 294.2 L307.3 294.2 L308.3 294.3 L309.3 294.3 L310.3 294.3 L311.3 294.3 L312.3 294.3 L313.3 294.3 L314.3 294.4 L315.3 294.4 L316.3 294.4 L317.3 294.4 L318.3 294.4 L319.3 294.4 L319.8 294.4" fill="none" stroke="#e020e0" stroke-width="2.40" stroke-linecap="butt" stroke-linejoin="round"/>
<path d="M45.3 165.3 L46.3 168.2 L47.3 171.0 L48.3 173.7 L49.3 176.4 L50.3 179.0 L51.3 181.5 L52.3 183.9 L53.3 186.3 L54.3 188.7 L55.3 191.1 L56.3 193.4 L57.3 195.7 L58.3 198.0 L59.3 200.3 L60.3 202.5 L61.3 204.8 L62.3 206.9 L63.3 209.1 L64.3 211.2 L65.3 213.2 L66.3 215.2 L67.3 217.1 L68.3 219.0 L69.3 220.8 L70.3 222.6 L71.3 224.3 L72.3 225.9 L73.3 227.5 L74.3 229.1 L75.3 230.6 L76.3 232.0 L77.3 233.4 L78.3 234.8 L79.3 236.1 L80.3 237.4 L81.3 238.6 L82.3 239.8 L83.3 241.0 L84.3 242.1 L85.3 243.2 L86.3 244.3 L87.3 245.3 L88.3 246.3 L89.3 247.3 L90.3 248.3 L91.3 249.2 L92.3 250.1 L93.3 251.0 L94.3 251.9 L95.3 252.7 L96.3 253.6 L97.3 254.4 L98.3 255.2 L99.3 256.0 L100.3 256.8 L101.3 257.6 L102.3 258.3 L103.3 259.0 L104.3 259.8 L105.3 260.5 L106.3 261.2 L107.3 261.8 L108.3 262.5 L109.3 263.2 L110.3 263.8 L111.3 264.4 L112.3 265.0 L113.3 265.6 L114.3 266.2 L115.3 266.8 L116.3 267.4 L117.3 267.9 L118.3 268.4 L119.3 269.0 L120.3 269.5 L121.3 270.0 L122.3 270.5 L123.3 271.0 L124.3 271.4 L125.3 271.9 L126.3 272.3 L127.3 272.8 L128.3 273.2 L129.3 273.6 L130.3 274.0 L131.3 274.4 L132.3 274.8 L133.3 275.2 L134.3 275.6 L135.3 275.9 L136.3 276.3 L137.3 276.6 L138.3 277.0 L139.3 277.3 L140.3 277.6 L141.3 277.9 L142.3 278.2 L143.3 278.5 L144.3 278.8 L145.3 279.1 L146.3 279.3 L147.3 279.6 L148.3 279.9 L149.3 280.1 L150.3 280.4 L151.3 280.6 L152.3 280.9 L153.3 281.1 L154.3 281.3 L155.3 281.5 L156.3 281.7 L157.3 281.9 L158.3 282.1 L159.3 282.3 L160.3 282.5 L161.3 282.7 L162.3 282.9 L163.3 283.1 L164.3 283.3 L165.3 283.4 L166.3 283.6 L167.3 283.8 L168.3 283.9 L169.3 284.1 L170.3 284.3 L171.3 284.4 L172.3 284.6 L173.3 284.7 L174.3 284.9 L175.3 285.0 L176.3 285.1 L177.3 285.3 L178.3 285.4 L179.3 285.6 L180.3 285.7 L181.3 285.8 L182.3 286.0 L183.3 286.1 L184.3 286.3 L185.3 286.4 L186.3 286.5 L187.3 286.7 L188.3 286.8 L189.3 286.9 L190.3 287.0 L191.3 287.2 L192.3 287.3 L193.3 287.4 L194.3 287.6 L195.3 287.7 L196.3 287.8 L197.3 287.9 L198.3 288.1 L199.3 288.2 L200.3 288.3 L201.3 288.4 L202.3 288.6 L203.3 288.7 L204.3 288.8 L205.3 288.9 L206.3 289.0 L207.3 289.2 L208.3 289.3 L209.3 289.4 L210.3 289.5 L211.3 289.6 L212.3 289.8 L213.3 289.9 L214.3 290.0 L215.3 290.1 L216.3 290.2 L217.3 290.3 L218.3 290.4 L219.3 290.5 L220.3 290.6 L221.3 290.7 L222.3 290.9 L223.3 291.0 L224.3 291.1 L225.3 291.2 L226.3 291.3 L227.3 291.4 L228.3 291.5 L229.3 291.6 L230.3 291.7 L231.3 291.8 L232.3 291.9 L233.3 292.0 L234.3 292.1 L235.3 292.1 L236.3 292.2 L237.3 292.3 L238.3 292.4 L239.3 292.5 L240.3 292.6 L241.3 292.7 L242.3 292.8 L243.3 292.9 L244.3 292.9 L245.3 293.0 L246.3 293.1 L247.3 293.2 L248.3 293.3 L249.3 293.4 L250.3 293.4 L251.3 293.5 L252.3 293.6 L253.3 293.7 L254.3 293.7 L255.3 293.8 L256.3 293.9 L257.3 294.0 L258.3 294.0 L259.3 294.1 L260.3 294.2 L261.3 294.2 L262.3 294.3 L263.3 294.3 L264.3 294.4 L265.3 294.5 L266.3 294.5 L267.3 294.6 L268.3 294.6 L269.3 294.7 L270.3 294.8 L271.3 294.8 L272.3 294.9 L273.3 294.9 L274.3 295.0 L275.3 295.0 L276.3 295.1 L277.3 295.1 L278.3 295.2 L279.3 295.2 L280.3 295.2 L281.3 295.3 L282.3 295.3 L283.3 295.4 L284.3 295.4 L285.3 295.4 L286.3 295.5 L287.3 295.5 L288.3 295.5 L289.3 295.6 L290.3 295.6 L291.3 295.6 L292.3 295.6 L293.3 295.7 L294.3 295.7 L295.3 295.7 L296.3 295.7 L297.3 295.8 L298.3 295.8 L299.3 295.8 L300.3 295.8 L301.3 295.8 L302.3 295.8 L303.3 295.8 L304.3 295.8 L305.3 295.9 L306.3 295.9 L307.3 295.9 L308.3 295.9 L309.3 295.9 L310.3 295.9 L311.3 295.9 L312.3 295.9 L313.3 295.9 L314.3 295.8 L315.3 295.8 L316.3 295.8 L317.3 295.8 L318.3 295.8 L319.3 295.8 L319.8 295.8" fill="none" stroke="#f09530" stroke-width="2.40" stroke-linecap="butt" stroke-linejoin="round"/>
<path d="M45.3 165.3 L46.3 166.0 L47.3 166.8 L48.3 167.7 L49.3 168.6 L50.3 169.6 L51.3 170.6 L52.3 171.7 L53.3 172.8 L54.3 174.0 L55.3 175.2 L56.3 176.5 L57.3 177.8 L58.3 179.1 L59.3 180.4 L60.3 181.8 L61.3 183.2 L62.3 184.6 L63.3 186.0 L64.3 187.4 L65.3 188.8 L66.3 190.2 L67.3 191.6 L68.3 193.1 L69.3 194.5 L70.3 195.9 L71.3 197.4 L72.3 198.8 L73.3 200.2 L74.3 201.6 L75.3 203.1 L76.3 204.5 L77.3 205.9 L78.3 207.3 L79.3 208.7 L80.3 210.1 L81.3 211.5 L82.3 212.8 L83.3 214.2 L84.3 215.5 L85.3 216.8 L86.3 218.2 L87.3 219.5 L88.3 220.8 L89.3 222.0 L90.3 223.3 L91.3 224.5 L92.3 225.7 L93.3 226.9 L94.3 228.1 L95.3 229.2 L96.3 230.4 L97.3 231.5 L98.3 232.6 L99.3 233.7 L100.3 234.7 L101.3 235.8 L102.3 236.8 L103.3 237.8 L104.3 238.8 L105.3 239.7 L106.3 240.7 L107.3 241.6 L108.3 242.5 L109.3 243.4 L110.3 244.3 L111.3 245.1 L112.3 246.0 L113.3 246.8 L114.3 247.6 L115.3 248.4 L116.3 249.2 L117.3 250.0 L118.3 250.7 L119.3 251.4 L120.3 252.2 L121.3 252.9 L122.3 253.6 L123.3 254.2 L124.3 254.9 L125.3 255.6 L126.3 256.2 L127.3 256.8 L128.3 257.4 L129.3 258.0 L130.3 258.6 L131.3 259.2 L132.3 259.7 L133.3 260.3 L134.3 260.8 L135.3 261.3 L136.3 261.8 L137.3 262.3 L138.3 262.8 L139.3 263.3 L140.3 263.8 L141.3 264.2 L142.3 264.7 L143.3 265.1 L144.3 265.6 L145.3 266.0 L146.3 266.4 L147.3 266.8 L148.3 267.2 L149.3 267.6 L150.3 268.0 L151.3 268.3 L152.3 268.7 L153.3 269.0 L154.3 269.4 L155.3 269.7 L156.3 270.1 L157.3 270.4 L158.3 270.7 L159.3 271.0 L160.3 271.3 L161.3 271.6 L162.3 271.9 L163.3 272.2 L164.3 272.5 L165.3 272.8 L166.3 273.1 L167.3 273.3 L168.3 273.6 L169.3 273.9 L170.3 274.1 L171.3 274.4 L172.3 274.6 L173.3 274.9 L174.3 275.1 L175.3 275.4 L176.3 275.6 L177.3 275.8 L178.3 276.1 L179.3 276.3 L180.3 276.5 L181.3 276.8 L182.3 277.0 L183.3 277.2 L184.3 277.4 L185.3 277.7 L186.3 277.9 L187.3 278.1 L188.3 278.3 L189.3 278.6 L190.3 278.8 L191.3 279.0 L192.3 279.2 L193.3 279.4 L194.3 279.7 L195.3 279.9 L196.3 280.1 L197.3 280.3 L198.3 280.5 L199.3 280.7 L200.3 280.9 L201.3 281.1 L202.3 281.3 L203.3 281.5 L204.3 281.7 L205.3 281.9 L206.3 282.1 L207.3 282.3 L208.3 282.5 L209.3 282.7 L210.3 282.9 L211.3 283.1 L212.3 283.3 L213.3 283.5 L214.3 283.7 L215.3 283.9 L216.3 284.1 L217.3 284.3 L218.3 284.5 L219.3 284.6 L220.3 284.8 L221.3 285.0 L222.3 285.2 L223.3 285.4 L224.3 285.5 L225.3 285.7 L226.3 285.9 L227.3 286.0 L228.3 286.2 L229.3 286.4 L230.3 286.6 L231.3 286.7 L232.3 286.9 L233.3 287.0 L234.3 287.2 L235.3 287.4 L236.3 287.5 L237.3 287.7 L238.3 287.8 L239.3 288.0 L240.3 288.1 L241.3 288.3 L242.3 288.4 L243.3 288.6 L244.3 288.7 L245.3 288.9 L246.3 289.0 L247.3 289.2 L248.3 289.3 L249.3 289.4 L250.3 289.6 L251.3 289.7 L252.3 289.8 L253.3 290.0 L254.3 290.1 L255.3 290.2 L256.3 290.3 L257.3 290.5 L258.3 290.6 L259.3 290.7 L260.3 290.8 L261.3 290.9 L262.3 291.1 L263.3 291.2 L264.3 291.3 L265.3 291.4 L266.3 291.5 L267.3 291.6 L268.3 291.7 L269.3 291.8 L270.3 291.9 L271.3 292.0 L272.3 292.1 L273.3 292.2 L274.3 292.3 L275.3 292.4 L276.3 292.5 L277.3 292.6 L278.3 292.6 L279.3 292.7 L280.3 292.8 L281.3 292.9 L282.3 293.0 L283.3 293.0 L284.3 293.1 L285.3 293.2 L286.3 293.3 L287.3 293.3 L288.3 293.4 L289.3 293.5 L290.3 293.5 L291.3 293.6 L292.3 293.6 L293.3 293.7 L294.3 293.7 L295.3 293.8 L296.3 293.8 L297.3 293.9 L298.3 293.9 L299.3 294.0 L300.3 294.0 L301.3 294.1 L302.3 294.1 L303.3 294.1 L304.3 294.2 L305.3 294.2 L306.3 294.2 L307.3 294.2 L308.3 294.3 L309.3 294.3 L310.3 294.3 L311.3 294.3 L312.3 294.3 L313.3 294.3 L314.3 294.4 L315.3 294.4 L316.3 294.4 L317.3 294.4 L318.3 294.4 L319.3 294.4 L319.8 294.4" fill="none" stroke="#10107a" stroke-width="2.40" stroke-dasharray="10.5 5.2 1.6 5.2" stroke-linecap="butt" stroke-linejoin="round"/>
<path d="M45.3 165.3 L46.3 168.2 L47.3 171.0 L48.3 173.7 L49.3 176.4 L50.3 179.0 L51.3 181.5 L52.3 183.9 L53.3 186.3 L54.3 188.7 L55.3 191.1 L56.3 193.4 L57.3 195.7 L58.3 198.0 L59.3 200.3 L60.3 202.5 L61.3 204.8 L62.3 206.9 L63.3 209.1 L64.3 211.2 L65.3 213.2 L66.3 215.2 L67.3 217.1 L68.3 219.0 L69.3 220.8 L70.3 222.6 L71.3 224.3 L72.3 225.9 L73.3 227.5 L74.3 229.1 L75.3 230.6 L76.3 232.0 L77.3 233.4 L78.3 234.8 L79.3 236.1 L80.3 237.4 L81.3 238.6 L82.3 239.8 L83.3 241.0 L84.3 242.1 L85.3 243.2 L86.3 244.3 L87.3 245.3 L88.3 246.3 L89.3 247.3 L90.3 248.3 L91.3 249.2 L92.3 250.1 L93.3 251.0 L94.3 251.9 L95.3 252.7 L96.3 253.6 L97.3 254.4 L98.3 255.2 L99.3 256.0 L100.3 256.8 L101.3 257.6 L102.3 258.3 L103.3 259.0 L104.3 259.8 L105.3 260.5 L106.3 261.2 L107.3 261.8 L108.3 262.5 L109.3 263.2 L110.3 263.8 L111.3 264.4 L112.3 265.0 L113.3 265.6 L114.3 266.2 L115.3 266.8 L116.3 267.4 L117.3 267.9 L118.3 268.4 L119.3 269.0 L120.3 269.5 L121.3 270.0 L122.3 270.5 L123.3 271.0 L124.3 271.4 L125.3 271.9 L126.3 272.3 L127.3 272.8 L128.3 273.2 L129.3 273.6 L130.3 274.0 L131.3 274.4 L132.3 274.8 L133.3 275.2 L134.3 275.6 L135.3 275.9 L136.3 276.3 L137.3 276.6 L138.3 277.0 L139.3 277.3 L140.3 277.6 L141.3 277.9 L142.3 278.2 L143.3 278.5 L144.3 278.8 L145.3 279.1 L146.3 279.3 L147.3 279.6 L148.3 279.9 L149.3 280.1 L150.3 280.4 L151.3 280.6 L152.3 280.9 L153.3 281.1 L154.3 281.3 L155.3 281.5 L156.3 281.7 L157.3 281.9 L158.3 282.1 L159.3 282.3 L160.3 282.5 L161.3 282.7 L162.3 282.9 L163.3 283.1 L164.3 283.3 L165.3 283.4 L166.3 283.6 L167.3 283.8 L168.3 283.9 L169.3 284.1 L170.3 284.3 L171.3 284.4 L172.3 284.6 L173.3 284.7 L174.3 284.9 L175.3 285.0 L176.3 285.1 L177.3 285.3 L178.3 285.4 L179.3 285.6 L180.3 285.7 L181.3 285.8 L182.3 286.0 L183.3 286.1 L184.3 286.3 L185.3 286.4 L186.3 286.5 L187.3 286.7 L188.3 286.8 L189.3 286.9 L190.3 287.0 L191.3 287.2 L192.3 287.3 L193.3 287.4 L194.3 287.6 L195.3 287.7 L196.3 287.8 L197.3 287.9 L198.3 288.1 L199.3 288.2 L200.3 288.3 L201.3 288.4 L202.3 288.6 L203.3 288.7 L204.3 288.8 L205.3 288.9 L206.3 289.0 L207.3 289.2 L208.3 289.3 L209.3 289.4 L210.3 289.5 L211.3 289.6 L212.3 289.8 L213.3 289.9 L214.3 290.0 L215.3 290.1 L216.3 290.2 L217.3 290.3 L218.3 290.4 L219.3 290.5 L220.3 290.6 L221.3 290.7 L222.3 290.9 L223.3 291.0 L224.3 291.1 L225.3 291.2 L226.3 291.3 L227.3 291.4 L228.3 291.5 L229.3 291.6 L230.3 291.7 L231.3 291.8 L232.3 291.9 L233.3 292.0 L234.3 292.1 L235.3 292.1 L236.3 292.2 L237.3 292.3 L238.3 292.4 L239.3 292.5 L240.3 292.6 L241.3 292.7 L242.3 292.8 L243.3 292.9 L244.3 292.9 L245.3 293.0 L246.3 293.1 L247.3 293.2 L248.3 293.3 L249.3 293.4 L250.3 293.4 L251.3 293.5 L252.3 293.6 L253.3 293.7 L254.3 293.7 L255.3 293.8 L256.3 293.9 L257.3 294.0 L258.3 294.0 L259.3 294.1 L260.3 294.2 L261.3 294.2 L262.3 294.3 L263.3 294.3 L264.3 294.4 L265.3 294.5 L266.3 294.5 L267.3 294.6 L268.3 294.6 L269.3 294.7 L270.3 294.8 L271.3 294.8 L272.3 294.9 L273.3 294.9 L274.3 295.0 L275.3 295.0 L276.3 295.1 L277.3 295.1 L278.3 295.2 L279.3 295.2 L280.3 295.2 L281.3 295.3 L282.3 295.3 L283.3 295.4 L284.3 295.4 L285.3 295.4 L286.3 295.5 L287.3 295.5 L288.3 295.5 L289.3 295.6 L290.3 295.6 L291.3 295.6 L292.3 295.6 L293.3 295.7 L294.3 295.7 L295.3 295.7 L296.3 295.7 L297.3 295.8 L298.3 295.8 L299.3 295.8 L300.3 295.8 L301.3 295.8 L302.3 295.8 L303.3 295.8 L304.3 295.8 L305.3 295.9 L306.3 295.9 L307.3 295.9 L308.3 295.9 L309.3 295.9 L310.3 295.9 L311.3 295.9 L312.3 295.9 L313.3 295.9 L314.3 295.8 L315.3 295.8 L316.3 295.8 L317.3 295.8 L318.3 295.8 L319.3 295.8 L319.8 295.8" fill="none" stroke="#168016" stroke-width="2.40" stroke-dasharray="10.5 5.2 1.6 5.2" stroke-linecap="butt" stroke-linejoin="round"/>
</g>
<g clip-path="url(#cr)">
<path d="M391.8 17.8 L392.8 18.4 L393.8 19.3 L394.8 20.3 L395.8 21.4 L396.8 22.8 L397.8 24.3 L398.8 25.9 L399.8 27.7 L400.8 29.6 L401.8 31.6 L402.8 33.8 L403.8 36.1 L404.8 38.4 L405.8 40.9 L406.8 43.5 L407.8 46.1 L408.8 48.8 L409.8 51.6 L410.8 54.4 L411.8 57.3 L412.8 60.2 L413.8 63.1 L414.8 66.1 L415.8 69.1 L416.8 72.1 L417.8 75.1 L418.8 78.2 L419.8 81.2 L420.8 84.1 L421.8 87.1 L422.8 90.0 L423.8 92.9 L424.8 95.7 L425.8 98.4 L426.8 101.1 L427.8 103.7 L428.8 106.2 L429.8 108.6 L430.8 110.8 L431.8 113.0 L432.8 115.0 L433.8 117.0 L434.8 118.8 L435.8 120.5 L436.8 122.1 L437.8 123.6 L438.8 125.1 L439.8 126.4 L440.8 127.7 L441.8 128.9 L442.8 130.0 L443.8 131.1 L444.8 132.1 L445.8 133.0 L446.8 133.9 L447.8 134.7 L448.8 135.5 L449.8 136.3 L450.8 137.0 L451.8 137.7 L452.8 138.4 L453.8 139.0 L454.8 139.6 L455.8 140.2 L456.8 140.7 L457.8 141.2 L458.8 141.7 L459.8 142.2 L460.8 142.6 L461.8 143.0 L462.8 143.4 L463.8 143.7 L464.8 144.0 L465.8 144.3 L466.8 144.6 L467.8 144.9 L468.8 145.1 L469.8 145.3 L470.8 145.5 L471.8 145.6 L472.8 145.8 L473.8 145.9 L474.8 146.0 L475.8 146.1 L476.8 146.2 L477.8 146.2 L478.8 146.3 L479.8 146.3 L480.8 146.3 L481.8 146.3 L482.8 146.3 L483.8 146.2 L484.8 146.2 L485.8 146.1 L486.8 146.1 L487.8 146.0 L488.8 145.9 L489.8 145.8 L490.8 145.7 L491.8 145.6 L492.8 145.5 L493.8 145.4 L494.8 145.2 L495.8 145.1 L496.8 145.0 L497.8 144.8 L498.8 144.7 L499.8 144.5 L500.8 144.4 L501.8 144.2 L502.8 144.1 L503.8 143.9 L504.8 143.8 L505.8 143.6 L506.8 143.5 L507.8 143.3 L508.8 143.2 L509.8 143.1 L510.8 142.9 L511.8 142.8 L512.8 142.7 L513.8 142.6 L514.8 142.5 L515.8 142.4 L516.8 142.2 L517.8 142.1 L518.8 142.0 L519.8 142.0 L520.8 141.9 L521.8 141.8 L522.8 141.7 L523.8 141.6 L524.8 141.5 L525.8 141.5 L526.8 141.4 L527.8 141.4 L528.8 141.3 L529.8 141.2 L530.8 141.2 L531.8 141.1 L532.8 141.1 L533.8 141.1 L534.8 141.0 L535.8 141.0 L536.8 140.9 L537.8 140.9 L538.8 140.9 L539.8 140.9 L540.8 140.9 L541.8 140.8 L542.8 140.8 L543.8 140.8 L544.8 140.8 L545.8 140.8 L546.8 140.8 L547.8 140.8 L548.8 140.8 L549.8 140.8 L550.8 140.8 L551.8 140.8 L552.8 140.8 L553.8 140.9 L554.8 140.9 L555.8 140.9 L556.8 140.9 L557.8 140.9 L558.8 141.0 L559.8 141.0 L560.8 141.0 L561.8 141.1 L562.8 141.1 L563.8 141.1 L564.8 141.2 L565.8 141.2 L566.8 141.3 L567.8 141.3 L568.8 141.3 L569.8 141.4 L570.8 141.4 L571.8 141.5 L572.8 141.5 L573.8 141.6 L574.8 141.6 L575.8 141.7 L576.8 141.8 L577.8 141.8 L578.8 141.9 L579.8 141.9 L580.8 142.0 L581.8 142.0 L582.8 142.1 L583.8 142.2 L584.8 142.2 L585.8 142.3 L586.8 142.4 L587.8 142.4 L588.8 142.5 L589.8 142.6 L590.8 142.6 L591.8 142.7 L592.8 142.8 L593.8 142.8 L594.8 142.9 L595.8 143.0 L596.8 143.0 L597.8 143.1 L598.8 143.2 L599.8 143.2 L600.8 143.3 L601.8 143.4 L602.8 143.4 L603.8 143.5 L604.8 143.6 L605.8 143.6 L606.8 143.7 L607.8 143.8 L608.8 143.8 L609.8 143.9 L610.8 144.0 L611.8 144.0 L612.8 144.1 L613.8 144.2 L614.8 144.2 L615.8 144.3 L616.8 144.3 L617.8 144.4 L618.8 144.5 L619.8 144.5 L620.8 144.6 L621.8 144.6 L622.8 144.7 L623.8 144.7 L624.8 144.8 L625.8 144.8 L626.8 144.9 L627.8 144.9 L628.8 145.0 L629.8 145.0 L630.8 145.1 L631.8 145.1 L632.8 145.2 L633.8 145.2 L634.8 145.2 L635.8 145.3 L636.8 145.3 L637.8 145.3 L638.8 145.4 L639.8 145.4 L640.8 145.4 L641.8 145.4 L642.8 145.4 L643.8 145.5 L644.8 145.5 L645.8 145.5 L646.8 145.5 L647.8 145.5 L648.8 145.5 L649.8 145.5 L650.8 145.5 L651.8 145.5 L652.8 145.5 L653.8 145.5 L654.8 145.5 L655.8 145.5 L656.8 145.5 L657.8 145.4 L658.8 145.4 L659.8 145.4 L660.8 145.4 L661.8 145.3 L662.8 145.3 L663.8 145.3 L664.8 145.2 L665.8 145.2 L666.2 145.2" fill="none" stroke="#d82020" stroke-width="2.40" stroke-dasharray="4.2 4.4" stroke-linecap="butt" stroke-linejoin="round"/>
<path d="M391.8 17.8 L392.8 18.4 L393.8 19.3 L394.8 20.3 L395.8 21.4 L396.8 22.8 L397.8 24.3 L398.8 25.9 L399.8 27.7 L400.8 29.6 L401.8 31.6 L402.8 33.8 L403.8 36.1 L404.8 38.4 L405.8 40.9 L406.8 43.5 L407.8 46.1 L408.8 48.8 L409.8 51.6 L410.8 54.4 L411.8 57.3 L412.8 60.2 L413.8 63.1 L414.8 66.1 L415.8 69.1 L416.8 72.1 L417.8 75.1 L418.8 78.2 L419.8 81.2 L420.8 84.1 L421.8 87.1 L422.8 90.0 L423.8 92.9 L424.8 95.7 L425.8 98.4 L426.8 101.1 L427.8 103.7 L428.8 106.2 L429.8 108.6 L430.8 110.8 L431.8 113.0 L432.8 115.0 L433.8 117.0 L434.8 118.8 L435.8 120.5 L436.8 122.1 L437.8 123.6 L438.8 125.1 L439.8 126.4 L440.8 127.7 L441.8 128.9 L442.8 130.0 L443.8 131.1 L444.8 132.1 L445.8 133.0 L446.8 133.9 L447.8 134.7 L448.8 135.5 L449.8 136.3 L450.8 137.0 L451.8 137.7 L452.8 138.4 L453.8 139.0 L454.8 139.6 L455.8 140.2 L456.8 140.7 L457.8 141.2 L458.8 141.7 L459.8 142.2 L460.8 142.6 L461.8 143.0 L462.8 143.4 L463.8 143.7 L464.8 144.0 L465.8 144.3 L466.8 144.6 L467.8 144.9 L468.8 145.1 L469.8 145.3 L470.8 145.5 L471.8 145.6 L472.8 145.8 L473.8 145.9 L474.8 146.0 L475.8 146.1 L476.8 146.2 L477.8 146.2 L478.8 146.3 L479.8 146.3 L480.8 146.3 L481.8 146.3 L482.8 146.3 L483.8 146.2 L484.8 146.2 L485.8 146.1 L486.8 146.1 L487.8 146.0 L488.8 145.9 L489.8 145.8 L490.8 145.7 L491.8 145.6 L492.8 145.5 L493.8 145.4 L494.8 145.2 L495.8 145.1 L496.8 145.0 L497.8 144.8 L498.8 144.7 L499.8 144.5 L500.8 144.4 L501.8 144.2 L502.8 144.1 L503.8 143.9 L504.8 143.8 L505.8 143.6 L506.8 143.5 L507.8 143.3 L508.8 143.2 L509.8 143.1 L510.8 142.9 L511.8 142.8 L512.8 142.7 L513.8 142.6 L514.8 142.5 L515.8 142.4 L516.8 142.2 L517.8 142.1 L518.8 142.0 L519.8 142.0 L520.8 141.9 L521.8 141.8 L522.8 141.7 L523.8 141.6 L524.8 141.5 L525.8 141.5 L526.8 141.4 L527.8 141.4 L528.8 141.3 L529.8 141.2 L530.8 141.2 L531.8 141.1 L532.8 141.1 L533.8 141.1 L534.8 141.0 L535.8 141.0 L536.8 140.9 L537.8 140.9 L538.8 140.9 L539.8 140.9 L540.8 140.9 L541.8 140.8 L542.8 140.8 L543.8 140.8 L544.8 140.8 L545.8 140.8 L546.8 140.8 L547.8 140.8 L548.8 140.8 L549.8 140.8 L550.8 140.8 L551.8 140.8 L552.8 140.8 L553.8 140.9 L554.8 140.9 L555.8 140.9 L556.8 140.9 L557.8 140.9 L558.8 141.0 L559.8 141.0 L560.8 141.0 L561.8 141.1 L562.8 141.1 L563.8 141.1 L564.8 141.2 L565.8 141.2 L566.8 141.3 L567.8 141.3 L568.8 141.3 L569.8 141.4 L570.8 141.4 L571.8 141.5 L572.8 141.5 L573.8 141.6 L574.8 141.6 L575.8 141.7 L576.8 141.8 L577.8 141.8 L578.8 141.9 L579.8 141.9 L580.8 142.0 L581.8 142.0 L582.8 142.1 L583.8 142.2 L584.8 142.2 L585.8 142.3 L586.8 142.4 L587.8 142.4 L588.8 142.5 L589.8 142.6 L590.8 142.6 L591.8 142.7 L592.8 142.8 L593.8 142.8 L594.8 142.9 L595.8 143.0 L596.8 143.0 L597.8 143.1 L598.8 143.2 L599.8 143.2 L600.8 143.3 L601.8 143.4 L602.8 143.4 L603.8 143.5 L604.8 143.6 L605.8 143.6 L606.8 143.7 L607.8 143.8 L608.8 143.8 L609.8 143.9 L610.8 144.0 L611.8 144.0 L612.8 144.1 L613.8 144.2 L614.8 144.2 L615.8 144.3 L616.8 144.3 L617.8 144.4 L618.8 144.5 L619.8 144.5 L620.8 144.6 L621.8 144.6 L622.8 144.7 L623.8 144.7 L624.8 144.8 L625.8 144.8 L626.8 144.9 L627.8 144.9 L628.8 145.0 L629.8 145.0 L630.8 145.1 L631.8 145.1 L632.8 145.2 L633.8 145.2 L634.8 145.2 L635.8 145.3 L636.8 145.3 L637.8 145.3 L638.8 145.4 L639.8 145.4 L640.8 145.4 L641.8 145.4 L642.8 145.4 L643.8 145.5 L644.8 145.5 L645.8 145.5 L646.8 145.5 L647.8 145.5 L648.8 145.5 L649.8 145.5 L650.8 145.5 L651.8 145.5 L652.8 145.5 L653.8 145.5 L654.8 145.5 L655.8 145.5 L656.8 145.5 L657.8 145.4 L658.8 145.4 L659.8 145.4 L660.8 145.4 L661.8 145.3 L662.8 145.3 L663.8 145.3 L664.8 145.2 L665.8 145.2 L666.2 145.2" fill="none" stroke="#1414d0" stroke-width="2.40" stroke-dasharray="4.2 4.4" stroke-linecap="butt" stroke-linejoin="round"/>
<path d="M391.8 17.8 L392.8 18.5 L393.8 19.4 L394.8 20.5 L395.8 21.7 L396.8 23.1 L397.8 24.7 L398.8 26.4 L399.8 28.3 L400.8 30.2 L401.8 32.3 L402.8 34.6 L403.8 36.9 L404.8 39.3 L405.8 41.8 L406.8 44.3 L407.8 47.0 L408.8 49.7 L409.8 52.4 L410.8 55.2 L411.8 58.0 L412.8 60.8 L413.8 63.7 L414.8 66.5 L415.8 69.4 L416.8 72.2 L417.8 75.1 L418.8 77.9 L419.8 80.7 L420.8 83.5 L421.9 86.3 L422.9 89.0 L424.0 91.7 L425.0 94.3 L426.1 96.9 L427.1 99.5 L428.2 102.0 L429.2 104.4 L430.3 106.8 L431.3 109.1 L432.4 111.3 L433.4 113.5 L434.5 115.6 L435.5 117.6 L436.5 119.5 L437.5 121.4 L438.5 123.1 L439.5 124.7 L440.5 126.3 L441.5 127.7 L442.4 129.1 L443.4 130.4 L444.4 131.6 L445.4 132.7 L446.4 133.8 L447.4 134.7 L448.3 135.7 L449.3 136.5 L450.3 137.3 L451.3 138.0 L452.2 138.7 L453.2 139.3 L454.2 139.9 L455.2 140.4 L456.1 140.8 L457.1 141.3 L458.1 141.7 L459.1 142.0 L460.0 142.4 L461.0 142.7 L462.0 142.9 L463.0 143.2 L464.0 143.4 L464.9 143.6 L465.9 143.8 L466.9 143.9 L467.9 144.0 L468.9 144.1 L469.9 144.2 L470.9 144.3 L471.8 144.4 L472.8 144.4 L473.8 144.5 L474.8 144.5 L475.8 144.5 L476.8 144.5 L477.8 144.6 L478.8 144.6 L479.8 144.6 L480.8 144.6 L481.8 144.6 L482.8 144.6 L483.8 144.7 L484.8 144.7 L485.8 144.7 L486.8 144.8 L487.8 144.9 L488.8 144.9 L489.8 145.0 L490.8 145.1 L491.8 145.2 L492.8 145.2 L493.8 145.3 L494.8 145.4 L495.8 145.4 L496.8 145.5 L497.8 145.6 L498.8 145.6 L499.8 145.7 L500.8 145.7 L501.8 145.8 L502.8 145.8 L503.8 145.8 L504.8 145.8 L505.8 145.8 L506.8 145.8 L507.8 145.9 L508.8 145.9 L509.8 145.9 L510.8 145.9 L511.8 145.9 L512.8 145.9 L513.8 146.0 L514.8 146.0 L515.8 146.0 L516.8 146.0 L517.8 146.0 L518.8 146.0 L519.8 146.1 L520.8 146.1 L521.8 146.1 L522.8 146.1 L523.8 146.1 L524.8 146.1 L525.8 146.1 L526.8 146.2 L527.8 146.2 L528.8 146.2 L529.8 146.2 L530.8 146.2 L531.8 146.2 L532.8 146.3 L533.8 146.3 L534.8 146.3 L535.8 146.3 L536.8 146.3 L537.8 146.3 L538.8 146.3 L539.8 146.4 L540.8 146.4 L541.8 146.4 L542.8 146.4 L543.8 146.4 L544.8 146.4 L545.8 146.4 L546.8 146.5 L547.8 146.5 L548.8 146.5 L549.8 146.5 L550.8 146.5 L551.8 146.5 L552.8 146.5 L553.8 146.6 L554.8 146.6 L555.8 146.6 L556.8 146.6 L557.8 146.6 L558.8 146.6 L559.8 146.6 L560.8 146.6 L561.8 146.7 L562.8 146.7 L563.8 146.7 L564.8 146.7 L565.8 146.7 L566.8 146.7 L567.8 146.7 L568.8 146.7 L569.8 146.8 L570.8 146.8 L571.8 146.8 L572.8 146.8 L573.8 146.8 L574.8 146.8 L575.8 146.8 L576.8 146.8 L577.8 146.8 L578.8 146.8 L579.8 146.9 L580.8 146.9 L581.8 146.9 L582.8 146.9 L583.8 146.9 L584.8 146.9 L585.8 146.9 L586.8 146.9 L587.8 146.9 L588.8 146.9 L589.8 146.9 L590.8 147.0 L591.8 147.0 L592.8 147.0 L593.8 147.0 L594.8 147.0 L595.8 147.0 L596.8 147.0 L597.8 147.0 L598.8 147.0 L599.8 147.0 L600.8 147.0 L601.8 147.0 L602.8 147.0 L603.8 147.0 L604.8 147.0 L605.8 147.1 L606.8 147.1 L607.8 147.1 L608.8 147.1 L609.8 147.1 L610.8 147.1 L611.8 147.1 L612.8 147.1 L613.8 147.1 L614.8 147.1 L615.8 147.1 L616.8 147.1 L617.8 147.1 L618.8 147.1 L619.8 147.1 L620.8 147.1 L621.8 147.1 L622.8 147.1 L623.8 147.1 L624.8 147.1 L625.8 147.1 L626.8 147.1 L627.8 147.1 L628.8 147.1 L629.8 147.1 L630.8 147.1 L631.8 147.1 L632.8 147.1 L633.8 147.1 L634.8 147.1 L635.8 147.1 L636.8 147.1 L637.8 147.1 L638.8 147.1 L639.8 147.1 L640.8 147.1 L641.8 147.1 L642.8 147.1 L643.8 147.1 L644.8 147.1 L645.8 147.1 L646.8 147.1 L647.8 147.0 L648.8 147.0 L649.8 147.0 L650.8 147.0 L651.8 147.0 L652.8 147.0 L653.8 147.0 L654.8 147.0 L655.8 147.0 L656.8 147.0 L657.8 147.0 L658.8 147.0 L659.8 147.0 L660.8 147.0 L661.8 146.9 L662.8 146.9 L663.8 146.9 L664.8 146.9 L665.8 146.9 L666.2 146.9" fill="none" stroke="#e020e0" stroke-width="2.40" stroke-linecap="butt" stroke-linejoin="round"/>
<path d="M391.8 17.8 L392.8 18.4 L393.8 19.3 L394.8 20.3 L395.8 21.4 L396.8 22.8 L397.8 24.3 L398.8 25.9 L399.8 27.7 L400.8 29.6 L401.8 31.6 L402.8 33.8 L403.8 36.1 L404.8 38.4 L405.8 40.9 L406.8 43.5 L407.8 46.1 L408.8 48.8 L409.8 51.6 L410.8 54.4 L411.8 57.3 L412.8 60.2 L413.8 63.1 L414.8 66.1 L415.8 69.1 L416.8 72.1 L417.8 75.1 L418.8 78.2 L419.8 81.2 L420.8 84.1 L421.8 87.1 L422.8 90.0 L423.8 92.9 L424.8 95.7 L425.8 98.4 L426.8 101.1 L427.8 103.7 L428.8 106.2 L429.8 108.6 L430.8 110.8 L431.8 113.0 L432.8 115.0 L433.8 117.0 L434.8 118.8 L435.8 120.5 L436.8 122.1 L437.8 123.6 L438.8 125.1 L439.8 126.4 L440.8 127.7 L441.8 128.9 L442.8 130.0 L443.8 131.1 L444.8 132.1 L445.8 133.0 L446.8 133.9 L447.8 134.7 L448.8 135.5 L449.8 136.3 L450.8 137.0 L451.8 137.7 L452.8 138.4 L453.8 139.0 L454.8 139.6 L455.8 140.2 L456.8 140.7 L457.8 141.2 L458.8 141.7 L459.8 142.2 L460.8 142.6 L461.8 143.0 L462.8 143.4 L463.8 143.7 L464.8 144.0 L465.8 144.3 L466.8 144.6 L467.8 144.9 L468.8 145.1 L469.8 145.3 L470.8 145.5 L471.8 145.6 L472.8 145.8 L473.8 145.9 L474.8 146.0 L475.8 146.1 L476.8 146.2 L477.8 146.2 L478.8 146.3 L479.8 146.3 L480.8 146.3 L481.8 146.3 L482.8 146.3 L483.8 146.2 L484.8 146.2 L485.8 146.1 L486.8 146.1 L487.8 146.0 L488.8 145.9 L489.8 145.8 L490.8 145.7 L491.8 145.6 L492.8 145.5 L493.8 145.4 L494.8 145.2 L495.8 145.1 L496.8 145.0 L497.8 144.8 L498.8 144.7 L499.8 144.5 L500.8 144.4 L501.8 144.2 L502.8 144.1 L503.8 143.9 L504.8 143.8 L505.8 143.6 L506.8 143.5 L507.8 143.3 L508.8 143.2 L509.8 143.1 L510.8 142.9 L511.8 142.8 L512.8 142.7 L513.8 142.6 L514.8 142.5 L515.8 142.4 L516.8 142.2 L517.8 142.1 L518.8 142.0 L519.8 142.0 L520.8 141.9 L521.8 141.8 L522.8 141.7 L523.8 141.6 L524.8 141.5 L525.8 141.5 L526.8 141.4 L527.8 141.4 L528.8 141.3 L529.8 141.2 L530.8 141.2 L531.8 141.1 L532.8 141.1 L533.8 141.1 L534.8 141.0 L535.8 141.0 L536.8 140.9 L537.8 140.9 L538.8 140.9 L539.8 140.9 L540.8 140.9 L541.8 140.8 L542.8 140.8 L543.8 140.8 L544.8 140.8 L545.8 140.8 L546.8 140.8 L547.8 140.8 L548.8 140.8 L549.8 140.8 L550.8 140.8 L551.8 140.8 L552.8 140.8 L553.8 140.9 L554.8 140.9 L555.8 140.9 L556.8 140.9 L557.8 140.9 L558.8 141.0 L559.8 141.0 L560.8 141.0 L561.8 141.1 L562.8 141.1 L563.8 141.1 L564.8 141.2 L565.8 141.2 L566.8 141.3 L567.8 141.3 L568.8 141.3 L569.8 141.4 L570.8 141.4 L571.8 141.5 L572.8 141.5 L573.8 141.6 L574.8 141.6 L575.8 141.7 L576.8 141.8 L577.8 141.8 L578.8 141.9 L579.8 141.9 L580.8 142.0 L581.8 142.0 L582.8 142.1 L583.8 142.2 L584.8 142.2 L585.8 142.3 L586.8 142.4 L587.8 142.4 L588.8 142.5 L589.8 142.6 L590.8 142.6 L591.8 142.7 L592.8 142.8 L593.8 142.8 L594.8 142.9 L595.8 143.0 L596.8 143.0 L597.8 143.1 L598.8 143.2 L599.8 143.2 L600.8 143.3 L601.8 143.4 L602.8 143.4 L603.8 143.5 L604.8 143.6 L605.8 143.6 L606.8 143.7 L607.8 143.8 L608.8 143.8 L609.8 143.9 L610.8 144.0 L611.8 144.0 L612.8 144.1 L613.8 144.2 L614.8 144.2 L615.8 144.3 L616.8 144.3 L617.8 144.4 L618.8 144.5 L619.8 144.5 L620.8 144.6 L621.8 144.6 L622.8 144.7 L623.8 144.7 L624.8 144.8 L625.8 144.8 L626.8 144.9 L627.8 144.9 L628.8 145.0 L629.8 145.0 L630.8 145.1 L631.8 145.1 L632.8 145.2 L633.8 145.2 L634.8 145.2 L635.8 145.3 L636.8 145.3 L637.8 145.3 L638.8 145.4 L639.8 145.4 L640.8 145.4 L641.8 145.4 L642.8 145.4 L643.8 145.5 L644.8 145.5 L645.8 145.5 L646.8 145.5 L647.8 145.5 L648.8 145.5 L649.8 145.5 L650.8 145.5 L651.8 145.5 L652.8 145.5 L653.8 145.5 L654.8 145.5 L655.8 145.5 L656.8 145.5 L657.8 145.4 L658.8 145.4 L659.8 145.4 L660.8 145.4 L661.8 145.3 L662.8 145.3 L663.8 145.3 L664.8 145.2 L665.8 145.2 L666.2 145.2" fill="none" stroke="#f09530" stroke-width="2.40" stroke-linecap="butt" stroke-linejoin="round"/>
<path d="M391.8 17.8 L392.8 18.5 L393.8 19.4 L394.8 20.5 L395.8 21.7 L396.8 23.1 L397.8 24.7 L398.8 26.4 L399.8 28.3 L400.8 30.2 L401.8 32.3 L402.8 34.6 L403.8 36.9 L404.8 39.3 L405.8 41.8 L406.8 44.3 L407.8 47.0 L408.8 49.7 L409.8 52.4 L410.8 55.2 L411.8 58.0 L412.8 60.8 L413.8 63.7 L414.8 66.5 L415.8 69.4 L416.8 72.2 L417.8 75.1 L418.8 77.9 L419.8 80.7 L420.8 83.5 L421.9 86.3 L422.9 89.0 L424.0 91.7 L425.0 94.3 L426.1 96.9 L427.1 99.5 L428.2 102.0 L429.2 104.4 L430.3 106.8 L431.3 109.1 L432.4 111.3 L433.4 113.5 L434.5 115.6 L435.5 117.6 L436.5 119.5 L437.5 121.4 L438.5 123.1 L439.5 124.7 L440.5 126.3 L441.5 127.7 L442.4 129.1 L443.4 130.4 L444.4 131.6 L445.4 132.7 L446.4 133.8 L447.4 134.7 L448.3 135.7 L449.3 136.5 L450.3 137.3 L451.3 138.0 L452.2 138.7 L453.2 139.3 L454.2 139.9 L455.2 140.4 L456.1 140.8 L457.1 141.3 L458.1 141.7 L459.1 142.0 L460.0 142.4 L461.0 142.7 L462.0 142.9 L463.0 143.2 L464.0 143.4 L464.9 143.6 L465.9 143.8 L466.9 143.9 L467.9 144.0 L468.9 144.1 L469.9 144.2 L470.9 144.3 L471.8 144.4 L472.8 144.4 L473.8 144.5 L474.8 144.5 L475.8 144.5 L476.8 144.5 L477.8 144.6 L478.8 144.6 L479.8 144.6 L480.8 144.6 L481.8 144.6 L482.8 144.6 L483.8 144.7 L484.8 144.7 L485.8 144.7 L486.8 144.8 L487.8 144.9 L488.8 144.9 L489.8 145.0 L490.8 145.1 L491.8 145.2 L492.8 145.2 L493.8 145.3 L494.8 145.4 L495.8 145.4 L496.8 145.5 L497.8 145.6 L498.8 145.6 L499.8 145.7 L500.8 145.7 L501.8 145.8 L502.8 145.8 L503.8 145.8 L504.8 145.8 L505.8 145.8 L506.8 145.8 L507.8 145.9 L508.8 145.9 L509.8 145.9 L510.8 145.9 L511.8 145.9 L512.8 145.9 L513.8 146.0 L514.8 146.0 L515.8 146.0 L516.8 146.0 L517.8 146.0 L518.8 146.0 L519.8 146.1 L520.8 146.1 L521.8 146.1 L522.8 146.1 L523.8 146.1 L524.8 146.1 L525.8 146.1 L526.8 146.2 L527.8 146.2 L528.8 146.2 L529.8 146.2 L530.8 146.2 L531.8 146.2 L532.8 146.3 L533.8 146.3 L534.8 146.3 L535.8 146.3 L536.8 146.3 L537.8 146.3 L538.8 146.3 L539.8 146.4 L540.8 146.4 L541.8 146.4 L542.8 146.4 L543.8 146.4 L544.8 146.4 L545.8 146.4 L546.8 146.5 L547.8 146.5 L548.8 146.5 L549.8 146.5 L550.8 146.5 L551.8 146.5 L552.8 146.5 L553.8 146.6 L554.8 146.6 L555.8 146.6 L556.8 146.6 L557.8 146.6 L558.8 146.6 L559.8 146.6 L560.8 146.6 L561.8 146.7 L562.8 146.7 L563.8 146.7 L564.8 146.7 L565.8 146.7 L566.8 146.7 L567.8 146.7 L568.8 146.7 L569.8 146.8 L570.8 146.8 L571.8 146.8 L572.8 146.8 L573.8 146.8 L574.8 146.8 L575.8 146.8 L576.8 146.8 L577.8 146.8 L578.8 146.8 L579.8 146.9 L580.8 146.9 L581.8 146.9 L582.8 146.9 L583.8 146.9 L584.8 146.9 L585.8 146.9 L586.8 146.9 L587.8 146.9 L588.8 146.9 L589.8 146.9 L590.8 147.0 L591.8 147.0 L592.8 147.0 L593.8 147.0 L594.8 147.0 L595.8 147.0 L596.8 147.0 L597.8 147.0 L598.8 147.0 L599.8 147.0 L600.8 147.0 L601.8 147.0 L602.8 147.0 L603.8 147.0 L604.8 147.0 L605.8 147.1 L606.8 147.1 L607.8 147.1 L608.8 147.1 L609.8 147.1 L610.8 147.1 L611.8 147.1 L612.8 147.1 L613.8 147.1 L614.8 147.1 L615.8 147.1 L616.8 147.1 L617.8 147.1 L618.8 147.1 L619.8 147.1 L620.8 147.1 L621.8 147.1 L622.8 147.1 L623.8 147.1 L624.8 147.1 L625.8 147.1 L626.8 147.1 L627.8 147.1 L628.8 147.1 L629.8 147.1 L630.8 147.1 L631.8 147.1 L632.8 147.1 L633.8 147.1 L634.8 147.1 L635.8 147.1 L636.8 147.1 L637.8 147.1 L638.8 147.1 L639.8 147.1 L640.8 147.1 L641.8 147.1 L642.8 147.1 L643.8 147.1 L644.8 147.1 L645.8 147.1 L646.8 147.1 L647.8 147.0 L648.8 147.0 L649.8 147.0 L650.8 147.0 L651.8 147.0 L652.8 147.0 L653.8 147.0 L654.8 147.0 L655.8 147.0 L656.8 147.0 L657.8 147.0 L658.8 147.0 L659.8 147.0 L660.8 147.0 L661.8 146.9 L662.8 146.9 L663.8 146.9 L664.8 146.9 L665.8 146.9 L666.2 146.9" fill="none" stroke="#10107a" stroke-width="2.40" stroke-dasharray="2.1 2.6" stroke-linecap="butt" stroke-linejoin="round"/>
<path d="M391.8 17.8 L392.8 18.4 L393.8 19.3 L394.8 20.3 L395.8 21.4 L396.8 22.8 L397.8 24.3 L398.8 25.9 L399.8 27.7 L400.8 29.6 L401.8 31.6 L402.8 33.8 L403.8 36.1 L404.8 38.4 L405.8 40.9 L406.8 43.5 L407.8 46.1 L408.8 48.8 L409.8 51.6 L410.8 54.4 L411.8 57.3 L412.8 60.2 L413.8 63.1 L414.8 66.1 L415.8 69.1 L416.8 72.1 L417.8 75.1 L418.8 78.2 L419.8 81.2 L420.8 84.1 L421.8 87.1 L422.8 90.0 L423.8 92.9 L424.8 95.7 L425.8 98.4 L426.8 101.1 L427.8 103.7 L428.8 106.2 L429.8 108.6 L430.8 110.8 L431.8 113.0 L432.8 115.0 L433.8 117.0 L434.8 118.8 L435.8 120.5 L436.8 122.1 L437.8 123.6 L438.8 125.1 L439.8 126.4 L440.8 127.7 L441.8 128.9 L442.8 130.0 L443.8 131.1 L444.8 132.1 L445.8 133.0 L446.8 133.9 L447.8 134.7 L448.8 135.5 L449.8 136.3 L450.8 137.0 L451.8 137.7 L452.8 138.4 L453.8 139.0 L454.8 139.6 L455.8 140.2 L456.8 140.7 L457.8 141.2 L458.8 141.7 L459.8 142.2 L460.8 142.6 L461.8 143.0 L462.8 143.4 L463.8 143.7 L464.8 144.0 L465.8 144.3 L466.8 144.6 L467.8 144.9 L468.8 145.1 L469.8 145.3 L470.8 145.5 L471.8 145.6 L472.8 145.8 L473.8 145.9 L474.8 146.0 L475.8 146.1 L476.8 146.2 L477.8 146.2 L478.8 146.3 L479.8 146.3 L480.8 146.3 L481.8 146.3 L482.8 146.3 L483.8 146.2 L484.8 146.2 L485.8 146.1 L486.8 146.1 L487.8 146.0 L488.8 145.9 L489.8 145.8 L490.8 145.7 L491.8 145.6 L492.8 145.5 L493.8 145.4 L494.8 145.2 L495.8 145.1 L496.8 145.0 L497.8 144.8 L498.8 144.7 L499.8 144.5 L500.8 144.4 L501.8 144.2 L502.8 144.1 L503.8 143.9 L504.8 143.8 L505.8 143.6 L506.8 143.5 L507.8 143.3 L508.8 143.2 L509.8 143.1 L510.8 142.9 L511.8 142.8 L512.8 142.7 L513.8 142.6 L514.8 142.5 L515.8 142.4 L516.8 142.2 L517.8 142.1 L518.8 142.0 L519.8 142.0 L520.8 141.9 L521.8 141.8 L522.8 141.7 L523.8 141.6 L524.8 141.5 L525.8 141.5 L526.8 141.4 L527.8 141.4 L528.8 141.3 L529.8 141.2 L530.8 141.2 L531.8 141.1 L532.8 141.1 L533.8 141.1 L534.8 141.0 L535.8 141.0 L536.8 140.9 L537.8 140.9 L538.8 140.9 L539.8 140.9 L540.8 140.9 L541.8 140.8 L542.8 140.8 L543.8 140.8 L544.8 140.8 L545.8 140.8 L546.8 140.8 L547.8 140.8 L548.8 140.8 L549.8 140.8 L550.8 140.8 L551.8 140.8 L552.8 140.8 L553.8 140.9 L554.8 140.9 L555.8 140.9 L556.8 140.9 L557.8 140.9 L558.8 141.0 L559.8 141.0 L560.8 141.0 L561.8 141.1 L562.8 141.1 L563.8 141.1 L564.8 141.2 L565.8 141.2 L566.8 141.3 L567.8 141.3 L568.8 141.3 L569.8 141.4 L570.8 141.4 L571.8 141.5 L572.8 141.5 L573.8 141.6 L574.8 141.6 L575.8 141.7 L576.8 141.8 L577.8 141.8 L578.8 141.9 L579.8 141.9 L580.8 142.0 L581.8 142.0 L582.8 142.1 L583.8 142.2 L584.8 142.2 L585.8 142.3 L586.8 142.4 L587.8 142.4 L588.8 142.5 L589.8 142.6 L590.8 142.6 L591.8 142.7 L592.8 142.8 L593.8 142.8 L594.8 142.9 L595.8 143.0 L596.8 143.0 L597.8 143.1 L598.8 143.2 L599.8 143.2 L600.8 143.3 L601.8 143.4 L602.8 143.4 L603.8 143.5 L604.8 143.6 L605.8 143.6 L606.8 143.7 L607.8 143.8 L608.8 143.8 L609.8 143.9 L610.8 144.0 L611.8 144.0 L612.8 144.1 L613.8 144.2 L614.8 144.2 L615.8 144.3 L616.8 144.3 L617.8 144.4 L618.8 144.5 L619.8 144.5 L620.8 144.6 L621.8 144.6 L622.8 144.7 L623.8 144.7 L624.8 144.8 L625.8 144.8 L626.8 144.9 L627.8 144.9 L628.8 145.0 L629.8 145.0 L630.8 145.1 L631.8 145.1 L632.8 145.2 L633.8 145.2 L634.8 145.2 L635.8 145.3 L636.8 145.3 L637.8 145.3 L638.8 145.4 L639.8 145.4 L640.8 145.4 L641.8 145.4 L642.8 145.4 L643.8 145.5 L644.8 145.5 L645.8 145.5 L646.8 145.5 L647.8 145.5 L648.8 145.5 L649.8 145.5 L650.8 145.5 L651.8 145.5 L652.8 145.5 L653.8 145.5 L654.8 145.5 L655.8 145.5 L656.8 145.5 L657.8 145.4 L658.8 145.4 L659.8 145.4 L660.8 145.4 L661.8 145.3 L662.8 145.3 L663.8 145.3 L664.8 145.2 L665.8 145.2 L666.2 145.2" fill="none" stroke="#168016" stroke-width="2.40" stroke-dasharray="2.1 2.6" stroke-linecap="butt" stroke-linejoin="round"/>
<path d="M392.0 166.6 L393.0 167.1 L394.0 167.6 L395.0 168.3 L396.0 169.0 L397.0 169.8 L398.0 170.6 L399.0 171.5 L400.0 172.5 L401.0 173.5 L402.0 174.6 L403.0 175.7 L404.0 176.8 L405.0 178.0 L406.0 179.3 L407.0 180.6 L408.0 181.9 L409.0 183.2 L410.0 184.6 L411.0 186.0 L412.0 187.4 L413.0 188.8 L414.0 190.3 L415.0 191.8 L416.0 193.2 L417.0 194.7 L418.0 196.2 L419.0 197.7 L420.0 199.2 L421.0 200.6 L422.0 202.1 L423.0 203.6 L424.0 205.0 L425.0 206.4 L426.0 207.8 L427.0 209.2 L428.0 210.6 L429.0 211.9 L430.0 213.2 L431.0 214.5 L432.0 215.8 L433.0 217.0 L434.0 218.2 L435.0 219.4 L436.0 220.6 L437.0 221.7 L438.0 222.9 L439.0 224.0 L440.0 225.0 L441.0 226.1 L442.0 227.2 L443.0 228.2 L444.0 229.2 L445.0 230.2 L446.0 231.1 L447.0 232.1 L448.0 233.0 L449.0 234.0 L450.0 234.9 L451.0 235.7 L452.0 236.6 L453.0 237.5 L454.0 238.3 L455.0 239.1 L456.0 240.0 L457.0 240.8 L458.0 241.5 L459.0 242.3 L460.0 243.1 L461.0 243.8 L462.0 244.6 L463.0 245.3 L464.0 246.0 L465.0 246.7 L466.0 247.4 L467.0 248.1 L468.0 248.8 L469.0 249.5 L470.0 250.1 L471.0 250.8 L472.0 251.4 L473.0 252.1 L474.0 252.7 L475.0 253.3 L476.0 253.9 L477.0 254.5 L478.0 255.1 L479.0 255.7 L480.0 256.3 L481.0 256.9 L482.0 257.4 L483.0 258.0 L484.0 258.6 L485.0 259.1 L486.0 259.6 L487.0 260.2 L488.0 260.7 L489.0 261.2 L490.0 261.7 L491.0 262.2 L492.0 262.7 L493.0 263.2 L494.0 263.7 L495.0 264.1 L496.0 264.6 L497.0 265.0 L498.0 265.5 L499.0 265.9 L500.0 266.4 L501.0 266.8 L502.0 267.2 L503.0 267.6 L504.0 268.1 L505.0 268.5 L506.0 268.9 L507.0 269.2 L508.0 269.6 L509.0 270.0 L510.0 270.4 L511.0 270.8 L512.0 271.1 L513.0 271.5 L514.0 271.8 L515.0 272.2 L516.0 272.5 L517.0 272.8 L518.0 273.2 L519.0 273.5 L520.0 273.8 L521.0 274.1 L522.0 274.4 L523.0 274.7 L524.0 275.0 L525.0 275.3 L526.0 275.6 L527.0 275.9 L528.0 276.1 L529.0 276.4 L530.0 276.7 L531.0 276.9 L532.0 277.2 L533.0 277.4 L534.0 277.7 L535.0 277.9 L536.0 278.1 L537.0 278.4 L538.0 278.6 L539.0 278.8 L540.0 279.0 L541.0 279.3 L542.0 279.5 L543.0 279.7 L544.0 279.9 L545.0 280.1 L546.0 280.3 L547.0 280.5 L548.0 280.6 L549.0 280.8 L550.0 281.0 L551.0 281.2 L552.0 281.3 L553.0 281.5 L554.0 281.7 L555.0 281.8 L556.0 282.0 L557.0 282.1 L558.0 282.3 L559.0 282.4 L560.0 282.6 L561.0 282.7 L562.0 282.9 L563.0 283.0 L564.0 283.1 L565.0 283.3 L566.0 283.4 L567.0 283.5 L568.0 283.6 L569.0 283.8 L570.0 283.9 L571.0 284.0 L572.0 284.1 L573.0 284.2 L574.0 284.3 L575.0 284.4 L576.0 284.5 L577.0 284.6 L578.0 284.7 L579.0 284.8 L580.0 284.9 L581.0 285.0 L582.0 285.1 L583.0 285.2 L584.0 285.3 L585.0 285.4 L586.0 285.5 L587.0 285.6 L588.0 285.6 L589.0 285.7 L590.0 285.8 L591.0 285.9 L592.0 286.0 L593.0 286.0 L594.0 286.1 L595.0 286.2 L596.0 286.3 L597.0 286.3 L598.0 286.4 L599.0 286.5 L600.0 286.5 L601.0 286.6 L602.0 286.7 L603.0 286.7 L604.0 286.8 L605.0 286.9 L606.0 287.0 L607.0 287.0 L608.0 287.1 L609.0 287.2 L610.0 287.2 L611.0 287.3 L612.0 287.4 L613.0 287.4 L614.0 287.5 L615.0 287.6 L616.0 287.6 L617.0 287.7 L618.0 287.8 L619.0 287.8 L620.0 287.9 L621.0 288.0 L622.0 288.0 L623.0 288.1 L624.0 288.2 L625.0 288.2 L626.0 288.3 L627.0 288.4 L628.0 288.5 L629.0 288.5 L630.0 288.6 L631.0 288.7 L632.0 288.8 L633.0 288.9 L634.0 288.9 L635.0 289.0 L636.0 289.1 L637.0 289.2 L638.0 289.3 L639.0 289.4 L640.0 289.5 L641.0 289.6 L642.0 289.7 L643.0 289.8 L644.0 289.9 L645.0 290.0 L646.0 290.1 L647.0 290.2 L648.0 290.3 L649.0 290.4 L650.0 290.5 L651.0 290.6 L652.0 290.7 L653.0 290.8 L654.0 291.0 L655.0 291.1 L656.0 291.2 L657.0 291.3 L658.0 291.5 L659.0 291.6 L660.0 291.7 L661.0 291.9 L662.0 292.0 L663.0 292.2 L664.0 292.3 L665.0 292.5 L666.0 292.6 L666.2 292.7" fill="none" stroke="#d82020" stroke-width="2.40" stroke-dasharray="4.2 4.4" stroke-linecap="butt" stroke-linejoin="round"/>
<path d="M392.0 166.6 L393.0 169.2 L394.0 171.7 L395.0 174.1 L396.0 176.6 L397.0 179.0 L398.0 181.4 L399.0 183.8 L400.0 186.1 L401.0 188.4 L402.0 190.7 L403.0 193.0 L404.0 195.2 L405.0 197.4 L406.0 199.6 L407.0 201.7 L408.0 203.8 L409.0 205.9 L410.0 208.0 L411.0 210.0 L412.0 212.0 L413.0 213.9 L414.0 215.9 L415.0 217.8 L416.0 219.6 L417.0 221.4 L418.0 223.2 L419.0 224.9 L420.0 226.6 L421.0 228.3 L422.0 229.9 L423.0 231.4 L424.0 232.9 L425.0 234.4 L426.0 235.8 L427.0 237.1 L428.0 238.5 L429.0 239.7 L430.0 241.0 L431.0 242.2 L432.0 243.4 L433.0 244.5 L434.0 245.6 L435.0 246.6 L436.0 247.7 L437.0 248.7 L438.0 249.6 L439.0 250.5 L440.0 251.4 L441.0 252.3 L442.0 253.1 L443.0 253.9 L444.0 254.7 L445.0 255.5 L446.0 256.2 L447.0 256.9 L448.0 257.6 L449.0 258.3 L450.0 259.0 L451.0 259.6 L452.0 260.2 L453.0 260.8 L454.0 261.4 L455.0 261.9 L456.0 262.5 L457.0 263.0 L458.0 263.6 L459.0 264.1 L460.0 264.6 L461.0 265.1 L462.0 265.6 L463.0 266.1 L464.0 266.5 L465.0 267.0 L466.0 267.5 L467.0 267.9 L468.0 268.4 L469.0 268.8 L470.0 269.3 L471.0 269.7 L472.0 270.1 L473.0 270.6 L474.0 271.0 L475.0 271.4 L476.0 271.8 L477.0 272.2 L478.0 272.6 L479.0 273.0 L480.0 273.3 L481.0 273.7 L482.0 274.1 L483.0 274.5 L484.0 274.8 L485.0 275.2 L486.0 275.5 L487.0 275.8 L488.0 276.2 L489.0 276.5 L490.0 276.8 L491.0 277.2 L492.0 277.5 L493.0 277.8 L494.0 278.1 L495.0 278.4 L496.0 278.7 L497.0 279.0 L498.0 279.3 L499.0 279.5 L500.0 279.8 L501.0 280.1 L502.0 280.3 L503.0 280.6 L504.0 280.9 L505.0 281.1 L506.0 281.4 L507.0 281.6 L508.0 281.8 L509.0 282.1 L510.0 282.3 L511.0 282.5 L512.0 282.8 L513.0 283.0 L514.0 283.2 L515.0 283.4 L516.0 283.6 L517.0 283.8 L518.0 284.0 L519.0 284.2 L520.0 284.4 L521.0 284.6 L522.0 284.7 L523.0 284.9 L524.0 285.1 L525.0 285.3 L526.0 285.4 L527.0 285.6 L528.0 285.7 L529.0 285.9 L530.0 286.0 L531.0 286.2 L532.0 286.3 L533.0 286.5 L534.0 286.6 L535.0 286.8 L536.0 286.9 L537.0 287.0 L538.0 287.1 L539.0 287.3 L540.0 287.4 L541.0 287.5 L542.0 287.6 L543.0 287.7 L544.0 287.8 L545.0 287.9 L546.0 288.0 L547.0 288.1 L548.0 288.2 L549.0 288.3 L550.0 288.4 L551.0 288.5 L552.0 288.6 L553.0 288.7 L554.0 288.8 L555.0 288.9 L556.0 288.9 L557.0 289.0 L558.0 289.1 L559.0 289.2 L560.0 289.2 L561.0 289.3 L562.0 289.4 L563.0 289.4 L564.0 289.5 L565.0 289.5 L566.0 289.6 L567.0 289.7 L568.0 289.7 L569.0 289.8 L570.0 289.8 L571.0 289.9 L572.0 289.9 L573.0 290.0 L574.0 290.0 L575.0 290.1 L576.0 290.1 L577.0 290.2 L578.0 290.2 L579.0 290.2 L580.0 290.3 L581.0 290.3 L582.0 290.3 L583.0 290.4 L584.0 290.4 L585.0 290.5 L586.0 290.5 L587.0 290.5 L588.0 290.6 L589.0 290.6 L590.0 290.6 L591.0 290.6 L592.0 290.7 L593.0 290.7 L594.0 290.7 L595.0 290.8 L596.0 290.8 L597.0 290.8 L598.0 290.8 L599.0 290.9 L600.0 290.9 L601.0 290.9 L602.0 291.0 L603.0 291.0 L604.0 291.0 L605.0 291.0 L606.0 291.1 L607.0 291.1 L608.0 291.1 L609.0 291.1 L610.0 291.2 L611.0 291.2 L612.0 291.2 L613.0 291.3 L614.0 291.3 L615.0 291.3 L616.0 291.3 L617.0 291.4 L618.0 291.4 L619.0 291.4 L620.0 291.5 L621.0 291.5 L622.0 291.5 L623.0 291.6 L624.0 291.6 L625.0 291.7 L626.0 291.7 L627.0 291.7 L628.0 291.8 L629.0 291.8 L630.0 291.9 L631.0 291.9 L632.0 292.0 L633.0 292.0 L634.0 292.0 L635.0 292.1 L636.0 292.1 L637.0 292.2 L638.0 292.3 L639.0 292.3 L640.0 292.4 L641.0 292.4 L642.0 292.5 L643.0 292.6 L644.0 292.6 L645.0 292.7 L646.0 292.8 L647.0 292.8 L648.0 292.9 L649.0 293.0 L650.0 293.1 L651.0 293.1 L652.0 293.2 L653.0 293.3 L654.0 293.4 L655.0 293.5 L656.0 293.6 L657.0 293.7 L658.0 293.8 L659.0 293.9 L660.0 294.0 L661.0 294.1 L662.0 294.2 L663.0 294.3 L664.0 294.4 L665.0 294.5 L666.0 294.6 L666.2 294.7" fill="none" stroke="#1414d0" stroke-width="2.40" stroke-dasharray="4.2 4.4" stroke-linecap="butt" stroke-linejoin="round"/>
<path d="M392.0 166.6 L393.0 167.1 L394.0 167.6 L395.0 168.3 L396.0 169.0 L397.0 169.8 L398.0 170.6 L399.0 171.5 L400.0 172.5 L401.0 173.5 L402.0 174.6 L403.0 175.7 L404.0 176.8 L405.0 178.0 L406.0 179.3 L407.0 180.6 L408.0 181.9 L409.0 183.2 L410.0 184.6 L411.0 186.0 L412.0 187.4 L413.0 188.8 L414.0 190.3 L415.0 191.8 L416.0 193.2 L417.0 194.7 L418.0 196.2 L419.0 197.7 L420.0 199.2 L421.0 200.6 L422.0 202.1 L423.0 203.6 L424.0 205.0 L425.0 206.4 L426.0 207.8 L427.0 209.2 L428.0 210.6 L429.0 211.9 L430.0 213.2 L431.0 214.5 L432.0 215.8 L433.0 217.0 L434.0 218.2 L435.0 219.4 L436.0 220.6 L437.0 221.7 L438.0 222.9 L439.0 224.0 L440.0 225.0 L441.0 226.1 L442.0 227.2 L443.0 228.2 L444.0 229.2 L445.0 230.2 L446.0 231.1 L447.0 232.1 L448.0 233.0 L449.0 234.0 L450.0 234.9 L451.0 235.7 L452.0 236.6 L453.0 237.5 L454.0 238.3 L455.0 239.1 L456.0 240.0 L457.0 240.8 L458.0 241.5 L459.0 242.3 L460.0 243.1 L461.0 243.8 L462.0 244.6 L463.0 245.3 L464.0 246.0 L465.0 246.7 L466.0 247.4 L467.0 248.1 L468.0 248.8 L469.0 249.5 L470.0 250.1 L471.0 250.8 L472.0 251.4 L473.0 252.1 L474.0 252.7 L475.0 253.3 L476.0 253.9 L477.0 254.5 L478.0 255.1 L479.0 255.7 L480.0 256.3 L481.0 256.9 L482.0 257.4 L483.0 258.0 L484.0 258.6 L485.0 259.1 L486.0 259.6 L487.0 260.2 L488.0 260.7 L489.0 261.2 L490.0 261.7 L491.0 262.2 L492.0 262.7 L493.0 263.2 L494.0 263.7 L495.0 264.1 L496.0 264.6 L497.0 265.0 L498.0 265.5 L499.0 265.9 L500.0 266.4 L501.0 266.8 L502.0 267.2 L503.0 267.6 L504.0 268.1 L505.0 268.5 L506.0 268.9 L507.0 269.2 L508.0 269.6 L509.0 270.0 L510.0 270.4 L511.0 270.8 L512.0 271.1 L513.0 271.5 L514.0 271.8 L515.0 272.2 L516.0 272.5 L517.0 272.8 L518.0 273.2 L519.0 273.5 L520.0 273.8 L521.0 274.1 L522.0 274.4 L523.0 274.7 L524.0 275.0 L525.0 275.3 L526.0 275.6 L527.0 275.9 L528.0 276.1 L529.0 276.4 L530.0 276.7 L531.0 276.9 L532.0 277.2 L533.0 277.4 L534.0 277.7 L535.0 277.9 L536.0 278.1 L537.0 278.4 L538.0 278.6 L539.0 278.8 L540.0 279.0 L541.0 279.3 L542.0 279.5 L543.0 279.7 L544.0 279.9 L545.0 280.1 L546.0 280.3 L547.0 280.5 L548.0 280.6 L549.0 280.8 L550.0 281.0 L551.0 281.2 L552.0 281.3 L553.0 281.5 L554.0 281.7 L555.0 281.8 L556.0 282.0 L557.0 282.1 L558.0 282.3 L559.0 282.4 L560.0 282.6 L561.0 282.7 L562.0 282.9 L563.0 283.0 L564.0 283.1 L565.0 283.3 L566.0 283.4 L567.0 283.5 L568.0 283.6 L569.0 283.8 L570.0 283.9 L571.0 284.0 L572.0 284.1 L573.0 284.2 L574.0 284.3 L575.0 284.4 L576.0 284.5 L577.0 284.6 L578.0 284.7 L579.0 284.8 L580.0 284.9 L581.0 285.0 L582.0 285.1 L583.0 285.2 L584.0 285.3 L585.0 285.4 L586.0 285.5 L587.0 285.6 L588.0 285.6 L589.0 285.7 L590.0 285.8 L591.0 285.9 L592.0 286.0 L593.0 286.0 L594.0 286.1 L595.0 286.2 L596.0 286.3 L597.0 286.3 L598.0 286.4 L599.0 286.5 L600.0 286.5 L601.0 286.6 L602.0 286.7 L603.0 286.7 L604.0 286.8 L605.0 286.9 L606.0 287.0 L607.0 287.0 L608.0 287.1 L609.0 287.2 L610.0 287.2 L611.0 287.3 L612.0 287.4 L613.0 287.4 L614.0 287.5 L615.0 287.6 L616.0 287.6 L617.0 287.7 L618.0 287.8 L619.0 287.8 L620.0 287.9 L621.0 288.0 L622.0 288.0 L623.0 288.1 L624.0 288.2 L625.0 288.2 L626.0 288.3 L627.0 288.4 L628.0 288.5 L629.0 288.5 L630.0 288.6 L631.0 288.7 L632.0 288.8 L633.0 288.9 L634.0 288.9 L635.0 289.0 L636.0 289.1 L637.0 289.2 L638.0 289.3 L639.0 289.4 L640.0 289.5 L641.0 289.6 L642.0 289.7 L643.0 289.8 L644.0 289.9 L645.0 290.0 L646.0 290.1 L647.0 290.2 L648.0 290.3 L649.0 290.4 L650.0 290.5 L651.0 290.6 L652.0 290.7 L653.0 290.8 L654.0 291.0 L655.0 291.1 L656.0 291.2 L657.0 291.3 L658.0 291.5 L659.0 291.6 L660.0 291.7 L661.0 291.9 L662.0 292.0 L663.0 292.2 L664.0 292.3 L665.0 292.5 L666.0 292.6 L666.2 292.7" fill="none" stroke="#e020e0" stroke-width="2.40" stroke-linecap="butt" stroke-linejoin="round"/>
<path d="M392.0 166.6 L393.0 169.2 L394.0 171.7 L395.0 174.1 L396.0 176.6 L397.0 179.0 L398.0 181.4 L399.0 183.8 L400.0 186.1 L401.0 188.4 L402.0 190.7 L403.0 193.0 L404.0 195.2 L405.0 197.4 L406.0 199.6 L407.0 201.7 L408.0 203.8 L409.0 205.9 L410.0 208.0 L411.0 210.0 L412.0 212.0 L413.0 213.9 L414.0 215.9 L415.0 217.8 L416.0 219.6 L417.0 221.4 L418.0 223.2 L419.0 224.9 L420.0 226.6 L421.0 228.3 L422.0 229.9 L423.0 231.4 L424.0 232.9 L425.0 234.4 L426.0 235.8 L427.0 237.1 L428.0 238.5 L429.0 239.7 L430.0 241.0 L431.0 242.2 L432.0 243.4 L433.0 244.5 L434.0 245.6 L435.0 246.6 L436.0 247.7 L437.0 248.7 L438.0 249.6 L439.0 250.5 L440.0 251.4 L441.0 252.3 L442.0 253.1 L443.0 253.9 L444.0 254.7 L445.0 255.5 L446.0 256.2 L447.0 256.9 L448.0 257.6 L449.0 258.3 L450.0 259.0 L451.0 259.6 L452.0 260.2 L453.0 260.8 L454.0 261.4 L455.0 261.9 L456.0 262.5 L457.0 263.0 L458.0 263.6 L459.0 264.1 L460.0 264.6 L461.0 265.1 L462.0 265.6 L463.0 266.1 L464.0 266.5 L465.0 267.0 L466.0 267.5 L467.0 267.9 L468.0 268.4 L469.0 268.8 L470.0 269.3 L471.0 269.7 L472.0 270.1 L473.0 270.6 L474.0 271.0 L475.0 271.4 L476.0 271.8 L477.0 272.2 L478.0 272.6 L479.0 273.0 L480.0 273.3 L481.0 273.7 L482.0 274.1 L483.0 274.5 L484.0 274.8 L485.0 275.2 L486.0 275.5 L487.0 275.8 L488.0 276.2 L489.0 276.5 L490.0 276.8 L491.0 277.2 L492.0 277.5 L493.0 277.8 L494.0 278.1 L495.0 278.4 L496.0 278.7 L497.0 279.0 L498.0 279.3 L499.0 279.5 L500.0 279.8 L501.0 280.1 L502.0 280.3 L503.0 280.6 L504.0 280.9 L505.0 281.1 L506.0 281.4 L507.0 281.6 L508.0 281.8 L509.0 282.1 L510.0 282.3 L511.0 282.5 L512.0 282.8 L513.0 283.0 L514.0 283.2 L515.0 283.4 L516.0 283.6 L517.0 283.8 L518.0 284.0 L519.0 284.2 L520.0 284.4 L521.0 284.6 L522.0 284.7 L523.0 284.9 L524.0 285.1 L525.0 285.3 L526.0 285.4 L527.0 285.6 L528.0 285.7 L529.0 285.9 L530.0 286.0 L531.0 286.2 L532.0 286.3 L533.0 286.5 L534.0 286.6 L535.0 286.8 L536.0 286.9 L537.0 287.0 L538.0 287.1 L539.0 287.3 L540.0 287.4 L541.0 287.5 L542.0 287.6 L543.0 287.7 L544.0 287.8 L545.0 287.9 L546.0 288.0 L547.0 288.1 L548.0 288.2 L549.0 288.3 L550.0 288.4 L551.0 288.5 L552.0 288.6 L553.0 288.7 L554.0 288.8 L555.0 288.9 L556.0 288.9 L557.0 289.0 L558.0 289.1 L559.0 289.2 L560.0 289.2 L561.0 289.3 L562.0 289.4 L563.0 289.4 L564.0 289.5 L565.0 289.5 L566.0 289.6 L567.0 289.7 L568.0 289.7 L569.0 289.8 L570.0 289.8 L571.0 289.9 L572.0 289.9 L573.0 290.0 L574.0 290.0 L575.0 290.1 L576.0 290.1 L577.0 290.2 L578.0 290.2 L579.0 290.2 L580.0 290.3 L581.0 290.3 L582.0 290.3 L583.0 290.4 L584.0 290.4 L585.0 290.5 L586.0 290.5 L587.0 290.5 L588.0 290.6 L589.0 290.6 L590.0 290.6 L591.0 290.6 L592.0 290.7 L593.0 290.7 L594.0 290.7 L595.0 290.8 L596.0 290.8 L597.0 290.8 L598.0 290.8 L599.0 290.9 L600.0 290.9 L601.0 290.9 L602.0 291.0 L603.0 291.0 L604.0 291.0 L605.0 291.0 L606.0 291.1 L607.0 291.1 L608.0 291.1 L609.0 291.1 L610.0 291.2 L611.0 291.2 L612.0 291.2 L613.0 291.3 L614.0 291.3 L615.0 291.3 L616.0 291.3 L617.0 291.4 L618.0 291.4 L619.0 291.4 L620.0 291.5 L621.0 291.5 L622.0 291.5 L623.0 291.6 L624.0 291.6 L625.0 291.7 L626.0 291.7 L627.0 291.7 L628.0 291.8 L629.0 291.8 L630.0 291.9 L631.0 291.9 L632.0 292.0 L633.0 292.0 L634.0 292.0 L635.0 292.1 L636.0 292.1 L637.0 292.2 L638.0 292.3 L639.0 292.3 L640.0 292.4 L641.0 292.4 L642.0 292.5 L643.0 292.6 L644.0 292.6 L645.0 292.7 L646.0 292.8 L647.0 292.8 L648.0 292.9 L649.0 293.0 L650.0 293.1 L651.0 293.1 L652.0 293.2 L653.0 293.3 L654.0 293.4 L655.0 293.5 L656.0 293.6 L657.0 293.7 L658.0 293.8 L659.0 293.9 L660.0 294.0 L661.0 294.1 L662.0 294.2 L663.0 294.3 L664.0 294.4 L665.0 294.5 L666.0 294.6 L666.2 294.7" fill="none" stroke="#f09530" stroke-width="2.40" stroke-linecap="butt" stroke-linejoin="round"/>
<path d="M392.0 166.6 L393.0 167.1 L394.0 167.6 L395.0 168.3 L396.0 169.0 L397.0 169.8 L398.0 170.6 L399.0 171.5 L400.0 172.5 L401.0 173.5 L402.0 174.6 L403.0 175.7 L404.0 176.8 L405.0 178.0 L406.0 179.3 L407.0 180.6 L408.0 181.9 L409.0 183.2 L410.0 184.6 L411.0 186.0 L412.0 187.4 L413.0 188.8 L414.0 190.3 L415.0 191.8 L416.0 193.2 L417.0 194.7 L418.0 196.2 L419.0 197.7 L420.0 199.2 L421.0 200.6 L422.0 202.1 L423.0 203.6 L424.0 205.0 L425.0 206.4 L426.0 207.8 L427.0 209.2 L428.0 210.6 L429.0 211.9 L430.0 213.2 L431.0 214.5 L432.0 215.8 L433.0 217.0 L434.0 218.2 L435.0 219.4 L436.0 220.6 L437.0 221.7 L438.0 222.9 L439.0 224.0 L440.0 225.0 L441.0 226.1 L442.0 227.2 L443.0 228.2 L444.0 229.2 L445.0 230.2 L446.0 231.1 L447.0 232.1 L448.0 233.0 L449.0 234.0 L450.0 234.9 L451.0 235.7 L452.0 236.6 L453.0 237.5 L454.0 238.3 L455.0 239.1 L456.0 240.0 L457.0 240.8 L458.0 241.5 L459.0 242.3 L460.0 243.1 L461.0 243.8 L462.0 244.6 L463.0 245.3 L464.0 246.0 L465.0 246.7 L466.0 247.4 L467.0 248.1 L468.0 248.8 L469.0 249.5 L470.0 250.1 L471.0 250.8 L472.0 251.4 L473.0 252.1 L474.0 252.7 L475.0 253.3 L476.0 253.9 L477.0 254.5 L478.0 255.1 L479.0 255.7 L480.0 256.3 L481.0 256.9 L482.0 257.4 L483.0 258.0 L484.0 258.6 L485.0 259.1 L486.0 259.6 L487.0 260.2 L488.0 260.7 L489.0 261.2 L490.0 261.7 L491.0 262.2 L492.0 262.7 L493.0 263.2 L494.0 263.7 L495.0 264.1 L496.0 264.6 L497.0 265.0 L498.0 265.5 L499.0 265.9 L500.0 266.4 L501.0 266.8 L502.0 267.2 L503.0 267.6 L504.0 268.1 L505.0 268.5 L506.0 268.9 L507.0 269.2 L508.0 269.6 L509.0 270.0 L510.0 270.4 L511.0 270.8 L512.0 271.1 L513.0 271.5 L514.0 271.8 L515.0 272.2 L516.0 272.5 L517.0 272.8 L518.0 273.2 L519.0 273.5 L520.0 273.8 L521.0 274.1 L522.0 274.4 L523.0 274.7 L524.0 275.0 L525.0 275.3 L526.0 275.6 L527.0 275.9 L528.0 276.1 L529.0 276.4 L530.0 276.7 L531.0 276.9 L532.0 277.2 L533.0 277.4 L534.0 277.7 L535.0 277.9 L536.0 278.1 L537.0 278.4 L538.0 278.6 L539.0 278.8 L540.0 279.0 L541.0 279.3 L542.0 279.5 L543.0 279.7 L544.0 279.9 L545.0 280.1 L546.0 280.3 L547.0 280.5 L548.0 280.6 L549.0 280.8 L550.0 281.0 L551.0 281.2 L552.0 281.3 L553.0 281.5 L554.0 281.7 L555.0 281.8 L556.0 282.0 L557.0 282.1 L558.0 282.3 L559.0 282.4 L560.0 282.6 L561.0 282.7 L562.0 282.9 L563.0 283.0 L564.0 283.1 L565.0 283.3 L566.0 283.4 L567.0 283.5 L568.0 283.6 L569.0 283.8 L570.0 283.9 L571.0 284.0 L572.0 284.1 L573.0 284.2 L574.0 284.3 L575.0 284.4 L576.0 284.5 L577.0 284.6 L578.0 284.7 L579.0 284.8 L580.0 284.9 L581.0 285.0 L582.0 285.1 L583.0 285.2 L584.0 285.3 L585.0 285.4 L586.0 285.5 L587.0 285.6 L588.0 285.6 L589.0 285.7 L590.0 285.8 L591.0 285.9 L592.0 286.0 L593.0 286.0 L594.0 286.1 L595.0 286.2 L596.0 286.3 L597.0 286.3 L598.0 286.4 L599.0 286.5 L600.0 286.5 L601.0 286.6 L602.0 286.7 L603.0 286.7 L604.0 286.8 L605.0 286.9 L606.0 287.0 L607.0 287.0 L608.0 287.1 L609.0 287.2 L610.0 287.2 L611.0 287.3 L612.0 287.4 L613.0 287.4 L614.0 287.5 L615.0 287.6 L616.0 287.6 L617.0 287.7 L618.0 287.8 L619.0 287.8 L620.0 287.9 L621.0 288.0 L622.0 288.0 L623.0 288.1 L624.0 288.2 L625.0 288.2 L626.0 288.3 L627.0 288.4 L628.0 288.5 L629.0 288.5 L630.0 288.6 L631.0 288.7 L632.0 288.8 L633.0 288.9 L634.0 288.9 L635.0 289.0 L636.0 289.1 L637.0 289.2 L638.0 289.3 L639.0 289.4 L640.0 289.5 L641.0 289.6 L642.0 289.7 L643.0 289.8 L644.0 289.9 L645.0 290.0 L646.0 290.1 L647.0 290.2 L648.0 290.3 L649.0 290.4 L650.0 290.5 L651.0 290.6 L652.0 290.7 L653.0 290.8 L654.0 291.0 L655.0 291.1 L656.0 291.2 L657.0 291.3 L658.0 291.5 L659.0 291.6 L660.0 291.7 L661.0 291.9 L662.0 292.0 L663.0 292.2 L664.0 292.3 L665.0 292.5 L666.0 292.6 L666.2 292.7" fill="none" stroke="#10107a" stroke-width="2.40" stroke-dasharray="2.1 2.6" stroke-linecap="butt" stroke-linejoin="round"/>
<path d="M392.0 166.6 L393.0 169.2 L394.0 171.7 L395.0 174.1 L396.0 176.6 L397.0 179.0 L398.0 181.4 L399.0 183.8 L400.0 186.1 L401.0 188.4 L402.0 190.7 L403.0 193.0 L404.0 195.2 L405.0 197.4 L406.0 199.6 L407.0 201.7 L408.0 203.8 L409.0 205.9 L410.0 208.0 L411.0 210.0 L412.0 212.0 L413.0 213.9 L414.0 215.9 L415.0 217.8 L416.0 219.6 L417.0 221.4 L418.0 223.2 L419.0 224.9 L420.0 226.6 L421.0 228.3 L422.0 229.9 L423.0 231.4 L424.0 232.9 L425.0 234.4 L426.0 235.8 L427.0 237.1 L428.0 238.5 L429.0 239.7 L430.0 241.0 L431.0 242.2 L432.0 243.4 L433.0 244.5 L434.0 245.6 L435.0 246.6 L436.0 247.7 L437.0 248.7 L438.0 249.6 L439.0 250.5 L440.0 251.4 L441.0 252.3 L442.0 253.1 L443.0 253.9 L444.0 254.7 L445.0 255.5 L446.0 256.2 L447.0 256.9 L448.0 257.6 L449.0 258.3 L450.0 259.0 L451.0 259.6 L452.0 260.2 L453.0 260.8 L454.0 261.4 L455.0 261.9 L456.0 262.5 L457.0 263.0 L458.0 263.6 L459.0 264.1 L460.0 264.6 L461.0 265.1 L462.0 265.6 L463.0 266.1 L464.0 266.5 L465.0 267.0 L466.0 267.5 L467.0 267.9 L468.0 268.4 L469.0 268.8 L470.0 269.3 L471.0 269.7 L472.0 270.1 L473.0 270.6 L474.0 271.0 L475.0 271.4 L476.0 271.8 L477.0 272.2 L478.0 272.6 L479.0 273.0 L480.0 273.3 L481.0 273.7 L482.0 274.1 L483.0 274.5 L484.0 274.8 L485.0 275.2 L486.0 275.5 L487.0 275.8 L488.0 276.2 L489.0 276.5 L490.0 276.8 L491.0 277.2 L492.0 277.5 L493.0 277.8 L494.0 278.1 L495.0 278.4 L496.0 278.7 L497.0 279.0 L498.0 279.3 L499.0 279.5 L500.0 279.8 L501.0 280.1 L502.0 280.3 L503.0 280.6 L504.0 280.9 L505.0 281.1 L506.0 281.4 L507.0 281.6 L508.0 281.8 L509.0 282.1 L510.0 282.3 L511.0 282.5 L512.0 282.8 L513.0 283.0 L514.0 283.2 L515.0 283.4 L516.0 283.6 L517.0 283.8 L518.0 284.0 L519.0 284.2 L520.0 284.4 L521.0 284.6 L522.0 284.7 L523.0 284.9 L524.0 285.1 L525.0 285.3 L526.0 285.4 L527.0 285.6 L528.0 285.7 L529.0 285.9 L530.0 286.0 L531.0 286.2 L532.0 286.3 L533.0 286.5 L534.0 286.6 L535.0 286.8 L536.0 286.9 L537.0 287.0 L538.0 287.1 L539.0 287.3 L540.0 287.4 L541.0 287.5 L542.0 287.6 L543.0 287.7 L544.0 287.8 L545.0 287.9 L546.0 288.0 L547.0 288.1 L548.0 288.2 L549.0 288.3 L550.0 288.4 L551.0 288.5 L552.0 288.6 L553.0 288.7 L554.0 288.8 L555.0 288.9 L556.0 288.9 L557.0 289.0 L558.0 289.1 L559.0 289.2 L560.0 289.2 L561.0 289.3 L562.0 289.4 L563.0 289.4 L564.0 289.5 L565.0 289.5 L566.0 289.6 L567.0 289.7 L568.0 289.7 L569.0 289.8 L570.0 289.8 L571.0 289.9 L572.0 289.9 L573.0 290.0 L574.0 290.0 L575.0 290.1 L576.0 290.1 L577.0 290.2 L578.0 290.2 L579.0 290.2 L580.0 290.3 L581.0 290.3 L582.0 290.3 L583.0 290.4 L584.0 290.4 L585.0 290.5 L586.0 290.5 L587.0 290.5 L588.0 290.6 L589.0 290.6 L590.0 290.6 L591.0 290.6 L592.0 290.7 L593.0 290.7 L594.0 290.7 L595.0 290.8 L596.0 290.8 L597.0 290.8 L598.0 290.8 L599.0 290.9 L600.0 290.9 L601.0 290.9 L602.0 291.0 L603.0 291.0 L604.0 291.0 L605.0 291.0 L606.0 291.1 L607.0 291.1 L608.0 291.1 L609.0 291.1 L610.0 291.2 L611.0 291.2 L612.0 291.2 L613.0 291.3 L614.0 291.3 L615.0 291.3 L616.0 291.3 L617.0 291.4 L618.0 291.4 L619.0 291.4 L620.0 291.5 L621.0 291.5 L622.0 291.5 L623.0 291.6 L624.0 291.6 L625.0 291.7 L626.0 291.7 L627.0 291.7 L628.0 291.8 L629.0 291.8 L630.0 291.9 L631.0 291.9 L632.0 292.0 L633.0 292.0 L634.0 292.0 L635.0 292.1 L636.0 292.1 L637.0 292.2 L638.0 292.3 L639.0 292.3 L640.0 292.4 L641.0 292.4 L642.0 292.5 L643.0 292.6 L644.0 292.6 L645.0 292.7 L646.0 292.8 L647.0 292.8 L648.0 292.9 L649.0 293.0 L650.0 293.1 L651.0 293.1 L652.0 293.2 L653.0 293.3 L654.0 293.4 L655.0 293.5 L656.0 293.6 L657.0 293.7 L658.0 293.8 L659.0 293.9 L660.0 294.0 L661.0 294.1 L662.0 294.2 L663.0 294.3 L664.0 294.4 L665.0 294.5 L666.0 294.6 L666.2 294.7" fill="none" stroke="#168016" stroke-width="2.40" stroke-dasharray="2.1 2.6" stroke-linecap="butt" stroke-linejoin="round"/>
</g>
<rect x="45.60" y="2.00" width="274.20" height="152.40" fill="none" stroke="#262626" stroke-width="1.4"/>
<rect x="45.60" y="154.40" width="274.20" height="147.40" fill="none" stroke="#262626" stroke-width="1.4"/>
<rect x="391.90" y="2.00" width="274.50" height="152.70" fill="none" stroke="#262626" stroke-width="1.4"/>
<rect x="391.90" y="154.70" width="274.50" height="146.70" fill="none" stroke="#262626" stroke-width="1.4"/>
<line x1="100.44" y1="2.00" x2="100.44" y2="5.50" stroke="#262626" stroke-width="1.4"/>
<line x1="155.28" y1="2.00" x2="155.28" y2="5.50" stroke="#262626" stroke-width="1.4"/>
<line x1="210.12" y1="2.00" x2="210.12" y2="5.50" stroke="#262626" stroke-width="1.4"/>
<line x1="264.96" y1="2.00" x2="264.96" y2="5.50" stroke="#262626" stroke-width="1.4"/>
<line x1="45.60" y1="301.80" x2="45.60" y2="305.50" stroke="#262626" stroke-width="1.4"/>
<text x="45.60" y="318.9" class="tk" text-anchor="middle">0</text>
<line x1="100.44" y1="154.40" x2="100.44" y2="157.90" stroke="#262626" stroke-width="1.4"/>
<line x1="100.44" y1="301.80" x2="100.44" y2="305.50" stroke="#262626" stroke-width="1.4"/>
<text x="100.44" y="318.9" class="tk" text-anchor="middle">2</text>
<line x1="155.28" y1="154.40" x2="155.28" y2="157.90" stroke="#262626" stroke-width="1.4"/>
<line x1="155.28" y1="301.80" x2="155.28" y2="305.50" stroke="#262626" stroke-width="1.4"/>
<text x="155.28" y="318.9" class="tk" text-anchor="middle">4</text>
<line x1="210.12" y1="154.40" x2="210.12" y2="157.90" stroke="#262626" stroke-width="1.4"/>
<line x1="210.12" y1="301.80" x2="210.12" y2="305.50" stroke="#262626" stroke-width="1.4"/>
<text x="210.12" y="318.9" class="tk" text-anchor="middle">6</text>
<line x1="264.96" y1="154.40" x2="264.96" y2="157.90" stroke="#262626" stroke-width="1.4"/>
<line x1="264.96" y1="301.80" x2="264.96" y2="305.50" stroke="#262626" stroke-width="1.4"/>
<text x="264.96" y="318.9" class="tk" text-anchor="middle">8</text>
<line x1="319.80" y1="301.80" x2="319.80" y2="305.50" stroke="#262626" stroke-width="1.4"/>
<text x="319.80" y="318.9" class="tk" text-anchor="middle">10</text>
<line x1="446.80" y1="2.00" x2="446.80" y2="5.50" stroke="#262626" stroke-width="1.4"/>
<line x1="501.70" y1="2.00" x2="501.70" y2="5.50" stroke="#262626" stroke-width="1.4"/>
<line x1="556.60" y1="2.00" x2="556.60" y2="5.50" stroke="#262626" stroke-width="1.4"/>
<line x1="611.50" y1="2.00" x2="611.50" y2="5.50" stroke="#262626" stroke-width="1.4"/>
<line x1="391.90" y1="301.40" x2="391.90" y2="305.10" stroke="#262626" stroke-width="1.4"/>
<text x="391.90" y="318.9" class="tk" text-anchor="middle">0</text>
<line x1="446.80" y1="154.70" x2="446.80" y2="158.20" stroke="#262626" stroke-width="1.4"/>
<line x1="446.80" y1="301.40" x2="446.80" y2="305.10" stroke="#262626" stroke-width="1.4"/>
<text x="446.80" y="318.9" class="tk" text-anchor="middle">2</text>
<line x1="501.70" y1="154.70" x2="501.70" y2="158.20" stroke="#262626" stroke-width="1.4"/>
<line x1="501.70" y1="301.40" x2="501.70" y2="305.10" stroke="#262626" stroke-width="1.4"/>
<text x="501.70" y="318.9" class="tk" text-anchor="middle">4</text>
<line x1="556.60" y1="154.70" x2="556.60" y2="158.20" stroke="#262626" stroke-width="1.4"/>
<line x1="556.60" y1="301.40" x2="556.60" y2="305.10" stroke="#262626" stroke-width="1.4"/>
<text x="556.60" y="318.9" class="tk" text-anchor="middle">6</text>
<line x1="611.50" y1="154.70" x2="611.50" y2="158.20" stroke="#262626" stroke-width="1.4"/>
<line x1="611.50" y1="301.40" x2="611.50" y2="305.10" stroke="#262626" stroke-width="1.4"/>
<text x="611.50" y="318.9" class="tk" text-anchor="middle">8</text>
<line x1="666.40" y1="301.40" x2="666.40" y2="305.10" stroke="#262626" stroke-width="1.4"/>
<text x="666.40" y="318.9" class="tk" text-anchor="middle">10</text>
<line x1="45.60" y1="119.64" x2="49.10" y2="119.64" stroke="#262626" stroke-width="1.4"/>
<line x1="319.80" y1="119.64" x2="316.30" y2="119.64" stroke="#262626" stroke-width="1.4"/>
<line x1="45.60" y1="84.87" x2="49.10" y2="84.87" stroke="#262626" stroke-width="1.4"/>
<line x1="319.80" y1="84.87" x2="316.30" y2="84.87" stroke="#262626" stroke-width="1.4"/>
<line x1="45.60" y1="50.11" x2="49.10" y2="50.11" stroke="#262626" stroke-width="1.4"/>
<line x1="319.80" y1="50.11" x2="316.30" y2="50.11" stroke="#262626" stroke-width="1.4"/>
<line x1="45.60" y1="15.34" x2="49.10" y2="15.34" stroke="#262626" stroke-width="1.4"/>
<line x1="319.80" y1="15.34" x2="316.30" y2="15.34" stroke="#262626" stroke-width="1.4"/>
<line x1="391.90" y1="120.85" x2="395.40" y2="120.85" stroke="#262626" stroke-width="1.4"/>
<line x1="666.40" y1="120.85" x2="662.90" y2="120.85" stroke="#262626" stroke-width="1.4"/>
<line x1="391.90" y1="86.85" x2="395.40" y2="86.85" stroke="#262626" stroke-width="1.4"/>
<line x1="666.40" y1="86.85" x2="662.90" y2="86.85" stroke="#262626" stroke-width="1.4"/>
<line x1="391.90" y1="52.85" x2="395.40" y2="52.85" stroke="#262626" stroke-width="1.4"/>
<line x1="666.40" y1="52.85" x2="662.90" y2="52.85" stroke="#262626" stroke-width="1.4"/>
<line x1="391.90" y1="18.85" x2="395.40" y2="18.85" stroke="#262626" stroke-width="1.4"/>
<line x1="666.40" y1="18.85" x2="662.90" y2="18.85" stroke="#262626" stroke-width="1.4"/>
<line x1="45.60" y1="268.80" x2="49.10" y2="268.80" stroke="#262626" stroke-width="1.4"/>
<line x1="319.80" y1="268.80" x2="316.30" y2="268.80" stroke="#262626" stroke-width="1.4"/>
<line x1="45.60" y1="235.90" x2="49.10" y2="235.90" stroke="#262626" stroke-width="1.4"/>
<line x1="319.80" y1="235.90" x2="316.30" y2="235.90" stroke="#262626" stroke-width="1.4"/>
<line x1="45.60" y1="203.00" x2="49.10" y2="203.00" stroke="#262626" stroke-width="1.4"/>
<line x1="319.80" y1="203.00" x2="316.30" y2="203.00" stroke="#262626" stroke-width="1.4"/>
<line x1="45.60" y1="170.10" x2="49.10" y2="170.10" stroke="#262626" stroke-width="1.4"/>
<line x1="319.80" y1="170.10" x2="316.30" y2="170.10" stroke="#262626" stroke-width="1.4"/>
<line x1="391.90" y1="268.90" x2="395.40" y2="268.90" stroke="#262626" stroke-width="1.4"/>
<line x1="666.40" y1="268.90" x2="662.90" y2="268.90" stroke="#262626" stroke-width="1.4"/>
<line x1="391.90" y1="236.30" x2="395.40" y2="236.30" stroke="#262626" stroke-width="1.4"/>
<line x1="666.40" y1="236.30" x2="662.90" y2="236.30" stroke="#262626" stroke-width="1.4"/>
<line x1="391.90" y1="203.70" x2="395.40" y2="203.70" stroke="#262626" stroke-width="1.4"/>
<line x1="666.40" y1="203.70" x2="662.90" y2="203.70" stroke="#262626" stroke-width="1.4"/>
<line x1="391.90" y1="171.10" x2="395.40" y2="171.10" stroke="#262626" stroke-width="1.4"/>
<line x1="666.40" y1="171.10" x2="662.90" y2="171.10" stroke="#262626" stroke-width="1.4"/>
<text x="41.20" y="159.40" class="tk" text-anchor="end">0</text>
<text x="41.20" y="124.64" class="tk" text-anchor="end">5</text>
<text x="41.20" y="89.87" class="tk" text-anchor="end">10</text>
<text x="41.20" y="55.11" class="tk" text-anchor="end">15</text>
<text x="41.20" y="20.34" class="tk" text-anchor="end">20</text>
<text x="387.50" y="159.85" class="tk" text-anchor="end">0</text>
<text x="387.50" y="125.85" class="tk" text-anchor="end">5</text>
<text x="387.50" y="91.85" class="tk" text-anchor="end">10</text>
<text x="387.50" y="57.85" class="tk" text-anchor="end">15</text>
<text x="387.50" y="23.85" class="tk" text-anchor="end">20</text>
<text x="41.20" y="306.70" class="tk" text-anchor="end">0</text>
<text x="41.20" y="273.80" class="tk" text-anchor="end">20</text>
<text x="41.20" y="240.90" class="tk" text-anchor="end">40</text>
<text x="41.20" y="208.00" class="tk" text-anchor="end">60</text>
<text x="41.20" y="175.10" class="tk" text-anchor="end">80</text>
<text x="387.50" y="306.50" class="tk" text-anchor="end">0</text>
<text x="387.50" y="273.90" class="tk" text-anchor="end">20</text>
<text x="387.50" y="241.30" class="tk" text-anchor="end">40</text>
<text x="387.50" y="208.70" class="tk" text-anchor="end">60</text>
<text x="387.50" y="176.10" class="tk" text-anchor="end">80</text>
<text x="51.3" y="150.0" class="pl">(a)</text>
<text x="48.9" y="294.3" class="pl">(b)</text>
<text x="395.4" y="147.5" class="pl">(c)</text>
<text x="394.9" y="294.2" class="pl">(d)</text>
<text x="149" y="332.6" style="font-size:16.6px">z (mm)</text>
<text x="500.5" y="332.6" style="font-size:16.6px">z (mm)</text>
<g transform="translate(25.0,97.8) rotate(-90)">
<text x="-2.00" y="0" class="gk" font-size="16.5" transform="skewX(-14)">&#948;</text>
<text x="7.40" y="-8.2" font-size="11">2</text>
<text x="17.8" y="0" font-size="15.5">(x 10<tspan dy="-7.2" dx="0.6" font-size="11.5">-3</tspan><tspan dy="7.2">)</tspan></text>
</g>
<g transform="translate(356.3,95.0) rotate(-90)">
<text x="-2.80" y="0" class="gk" font-size="16.5" transform="skewX(-14)">&#948;</text>
<text x="6.60" y="-8.2" font-size="11">2</text>
<text x="17.8" y="0" font-size="15.5">(x 10<tspan dy="-7.2" dx="0.6" font-size="11.5">-3</tspan><tspan dy="7.2">)</tspan></text>
</g>
<text transform="translate(16.8,268.6) rotate(-90)" font-size="16.5"><tspan font-style="italic">L</tspan><tspan dy="4.2" font-size="11">NL</tspan><tspan dy="-4.2" font-style="italic">/L</tspan><tspan dy="4.2" font-size="11">D</tspan><tspan dy="-4.2"> (x 10</tspan><tspan dy="-7.2" font-size="11">-3</tspan><tspan dy="7.2">)</tspan></text>
<text transform="translate(356.3,266.2) rotate(-90)" font-size="16.5"><tspan font-style="italic">L</tspan><tspan dy="4.2" font-size="11">NL</tspan><tspan dy="-4.2" font-style="italic">/L</tspan><tspan dy="4.2" font-size="11">D</tspan><tspan dy="-4.2"> (x 10</tspan><tspan dy="-7.2" font-size="11">-3</tspan><tspan dy="7.2">)</tspan></text>
<path d="M190.8 11.7 L221.7 11.7" fill="none" stroke="#d82020" stroke-width="2.30" stroke-dasharray="9.2 9.6" stroke-linecap="butt" stroke-linejoin="round"/>
<text x="224.6" y="16.2" class="lg">NIW</text>
<path d="M190.8 27.9 L221.7 27.9" fill="none" stroke="#1414d0" stroke-width="2.30" stroke-dasharray="9.2 9.6" stroke-linecap="butt" stroke-linejoin="round"/>
<text x="224.6" y="32.4" class="lg">DDW</text>
<path d="M190.8 44.2 L221.7 44.2" fill="none" stroke="#e020e0" stroke-width="2.60" stroke-linecap="butt" stroke-linejoin="round"/>
<text x="224.6" y="48.7" class="lg">Varying <tspan class="gk" font-size="14">&#946;</tspan><tspan dy="3.8" font-size="10.5">2</tspan><tspan dy="-3.8">-NIW</tspan></text>
<path d="M190.8 63.6 L221.7 63.6" fill="none" stroke="#f09530" stroke-width="2.60" stroke-linecap="butt" stroke-linejoin="round"/>
<text x="224.6" y="68.1" class="lg">Varying <tspan class="gk" font-size="14">&#947;</tspan> -DDW</text>
<path d="M190.8 79.7 L221.7 79.7" fill="none" stroke="#10107a" stroke-width="2.30" stroke-dasharray="10.5 5.2 1.6 5.2" stroke-linecap="butt" stroke-linejoin="round"/>
<text x="224.6" y="84.2" class="lg">HOEs-NIW</text>
<path d="M190.8 96.1 L221.7 96.1" fill="none" stroke="#168016" stroke-width="2.30" stroke-dasharray="10.5 5.2 1.6 5.2" stroke-linecap="butt" stroke-linejoin="round"/>
<text x="224.6" y="100.6" class="lg">HOEs-DDW</text>
<path d="M190.8 166.7 L221.7 166.7" fill="none" stroke="#d82020" stroke-width="2.30" stroke-dasharray="9.2 9.6" stroke-linecap="butt" stroke-linejoin="round"/>
<text x="224.6" y="171.2" class="lg">NIW</text>
<path d="M190.8 182.9 L221.7 182.9" fill="none" stroke="#1414d0" stroke-width="2.30" stroke-dasharray="9.2 9.6" stroke-linecap="butt" stroke-linejoin="round"/>
<text x="224.6" y="187.4" class="lg">DDW</text>
<path d="M190.8 199.2 L221.7 199.2" fill="none" stroke="#e020e0" stroke-width="2.60" stroke-linecap="butt" stroke-linejoin="round"/>
<text x="224.6" y="203.7" class="lg">Varying <tspan class="gk" font-size="14">&#946;</tspan><tspan dy="3.8" font-size="10.5">2</tspan><tspan dy="-3.8">-NIW</tspan></text>
<path d="M190.8 218.6 L221.7 218.6" fill="none" stroke="#f09530" stroke-width="2.60" stroke-linecap="butt" stroke-linejoin="round"/>
<text x="224.6" y="223.1" class="lg">Varying <tspan class="gk" font-size="14">&#947;</tspan> -DDW</text>
<path d="M190.8 234.7 L221.7 234.7" fill="none" stroke="#10107a" stroke-width="2.30" stroke-dasharray="10.5 5.2 1.6 5.2" stroke-linecap="butt" stroke-linejoin="round"/>
<text x="224.6" y="239.2" class="lg">HOEs-NIW</text>
<path d="M190.8 251.1 L221.7 251.1" fill="none" stroke="#168016" stroke-width="2.30" stroke-dasharray="10.5 5.2 1.6 5.2" stroke-linecap="butt" stroke-linejoin="round"/>
<text x="224.6" y="255.6" class="lg">HOEs-DDW</text>
<path d="M564.3 15.9 L595.3 15.9" fill="none" stroke="#d82020" stroke-width="2.30" stroke-dasharray="4.2 4.4" stroke-linecap="butt" stroke-linejoin="round"/>
<text x="598.9" y="20.4" class="lg"><tspan class="gk" font-size="13">&#945;</tspan> -NIW</text>
<path d="M564.3 32.1 L595.3 32.1" fill="none" stroke="#1414d0" stroke-width="2.30" stroke-dasharray="4.2 4.4" stroke-linecap="butt" stroke-linejoin="round"/>
<text x="598.9" y="36.6" class="lg"><tspan class="gk" font-size="13">&#945;</tspan> -DDW</text>
<path d="M564.3 48.3 L595.3 48.3" fill="none" stroke="#e020e0" stroke-width="2.60" stroke-linecap="butt" stroke-linejoin="round"/>
<text x="598.9" y="52.8" class="lg">TPA-NIW</text>
<path d="M564.3 64.4 L595.3 64.4" fill="none" stroke="#f09530" stroke-width="2.60" stroke-linecap="butt" stroke-linejoin="round"/>
<text x="598.9" y="68.9" class="lg">TPA-DDW</text>
<path d="M564.3 80.5 L595.3 80.5" fill="none" stroke="#10107a" stroke-width="2.30" stroke-dasharray="2.1 2.6" stroke-linecap="butt" stroke-linejoin="round"/>
<text x="598.9" y="85.0" class="lg">Full NIW</text>
<path d="M564.3 96.5 L595.3 96.5" fill="none" stroke="#168016" stroke-width="2.30" stroke-dasharray="2.1 2.6" stroke-linecap="butt" stroke-linejoin="round"/>
<text x="598.9" y="101.0" class="lg">Full DDW</text>
<path d="M564.3 168.5 L595.3 168.5" fill="none" stroke="#d82020" stroke-width="2.30" stroke-dasharray="4.2 4.4" stroke-linecap="butt" stroke-linejoin="round"/>
<text x="598.9" y="173.0" class="lg"><tspan class="gk" font-size="13">&#945;</tspan> -NIW</text>
<path d="M564.3 184.7 L595.3 184.7" fill="none" stroke="#1414d0" stroke-width="2.30" stroke-dasharray="4.2 4.4" stroke-linecap="butt" stroke-linejoin="round"/>
<text x="598.9" y="189.2" class="lg"><tspan class="gk" font-size="13">&#945;</tspan> -DDW</text>
<path d="M564.3 200.9 L595.3 200.9" fill="none" stroke="#e020e0" stroke-width="2.60" stroke-linecap="butt" stroke-linejoin="round"/>
<text x="598.9" y="205.4" class="lg">TPA-NIW</text>
<path d="M564.3 217.0 L595.3 217.0" fill="none" stroke="#f09530" stroke-width="2.60" stroke-linecap="butt" stroke-linejoin="round"/>
<text x="598.9" y="221.5" class="lg">TPA-DDW</text>
<path d="M564.3 233.1 L595.3 233.1" fill="none" stroke="#10107a" stroke-width="2.30" stroke-dasharray="2.1 2.6" stroke-linecap="butt" stroke-linejoin="round"/>
<text x="598.9" y="237.6" class="lg">Full NIW</text>
<path d="M564.3 249.1 L595.3 249.1" fill="none" stroke="#168016" stroke-width="2.30" stroke-dasharray="2.1 2.6" stroke-linecap="butt" stroke-linejoin="round"/>
<text x="598.9" y="253.6" class="lg">Full DDW</text>
</svg>
</body></html>
